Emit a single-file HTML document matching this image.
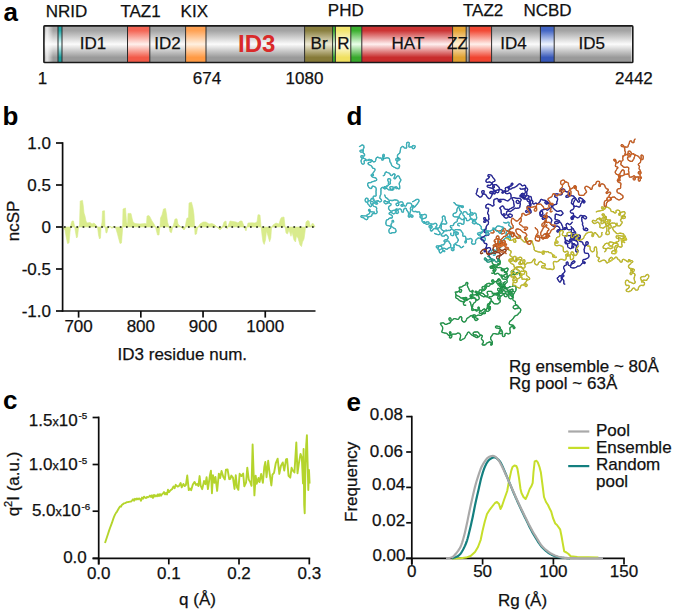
<!DOCTYPE html>
<html><head><meta charset="utf-8"><style>
html,body{margin:0;padding:0;background:#fff;}
svg{display:block;}
text{font-family:"Liberation Sans", sans-serif;stroke-width:0.25px;}
</style></head><body>
<svg width="675" height="613" viewBox="0 0 675 613">
<defs><linearGradient id="gGray" x1="0" y1="0" x2="0" y2="1"><stop offset="0" stop-color="#a4a4a4"/><stop offset="0.13" stop-color="#a4a4a4" stop-opacity="1"/><stop offset="0.5" stop-color="#fbfbfb"/><stop offset="0.86" stop-color="#9a9a9a"/><stop offset="1" stop-color="#9a9a9a"/></linearGradient><linearGradient id="gTeal" x1="0" y1="0" x2="0" y2="1"><stop offset="0" stop-color="#23a8a8"/><stop offset="0.13" stop-color="#23a8a8" stop-opacity="1"/><stop offset="0.5" stop-color="#e6ffff"/><stop offset="0.86" stop-color="#1a9c9c"/><stop offset="1" stop-color="#1a9c9c"/></linearGradient><linearGradient id="gTaz" x1="0" y1="0" x2="0" y2="1"><stop offset="0" stop-color="#f46656"/><stop offset="0.13" stop-color="#f46656" stop-opacity="1"/><stop offset="0.5" stop-color="#fff0ec"/><stop offset="0.86" stop-color="#f25a48"/><stop offset="1" stop-color="#f25a48"/></linearGradient><linearGradient id="gKix" x1="0" y1="0" x2="0" y2="1"><stop offset="0" stop-color="#ffa254"/><stop offset="0.13" stop-color="#ffa254" stop-opacity="1"/><stop offset="0.5" stop-color="#fff0e0"/><stop offset="0.86" stop-color="#ff9a44"/><stop offset="1" stop-color="#ff9a44"/></linearGradient><linearGradient id="gBr" x1="0" y1="0" x2="0" y2="1"><stop offset="0" stop-color="#8a8040"/><stop offset="0.13" stop-color="#8a8040" stop-opacity="1"/><stop offset="0.5" stop-color="#eeead4"/><stop offset="0.86" stop-color="#867a38"/><stop offset="1" stop-color="#867a38"/></linearGradient><linearGradient id="gGrn" x1="0" y1="0" x2="0" y2="1"><stop offset="0" stop-color="#3cb030"/><stop offset="0.13" stop-color="#3cb030" stop-opacity="1"/><stop offset="0.5" stop-color="#eaffea"/><stop offset="0.86" stop-color="#38a82c"/><stop offset="1" stop-color="#38a82c"/></linearGradient><linearGradient id="gR" x1="0" y1="0" x2="0" y2="1"><stop offset="0" stop-color="#f2e670"/><stop offset="0.13" stop-color="#f2e670" stop-opacity="1"/><stop offset="0.5" stop-color="#fffff2"/><stop offset="0.86" stop-color="#f0e060"/><stop offset="1" stop-color="#f0e060"/></linearGradient><linearGradient id="gHat" x1="0" y1="0" x2="0" y2="1"><stop offset="0" stop-color="#cc3434"/><stop offset="0.13" stop-color="#cc3434" stop-opacity="1"/><stop offset="0.5" stop-color="#fff0f0"/><stop offset="0.86" stop-color="#c82c2c"/><stop offset="1" stop-color="#c82c2c"/></linearGradient><linearGradient id="gZZ" x1="0" y1="0" x2="0" y2="1"><stop offset="0" stop-color="#e6a434"/><stop offset="0.13" stop-color="#e6a434" stop-opacity="1"/><stop offset="0.5" stop-color="#fff2d8"/><stop offset="0.86" stop-color="#e0a030"/><stop offset="1" stop-color="#e0a030"/></linearGradient><linearGradient id="gTaz2" x1="0" y1="0" x2="0" y2="1"><stop offset="0" stop-color="#f24a36"/><stop offset="0.13" stop-color="#f24a36" stop-opacity="1"/><stop offset="0.5" stop-color="#fff0ec"/><stop offset="0.86" stop-color="#f04430"/><stop offset="1" stop-color="#f04430"/></linearGradient><linearGradient id="gNcbd" x1="0" y1="0" x2="0" y2="1"><stop offset="0" stop-color="#4466c4"/><stop offset="0.13" stop-color="#4466c4" stop-opacity="1"/><stop offset="0.5" stop-color="#eef4ff"/><stop offset="0.86" stop-color="#3858b8"/><stop offset="1" stop-color="#3858b8"/></linearGradient><linearGradient id="gL" x1="0" y1="0" x2="1" y2="0"><stop offset="0" stop-color="#fff" stop-opacity="0.2"/><stop offset="0.3" stop-color="#fff" stop-opacity="0.75"/><stop offset="1" stop-color="#fff" stop-opacity="0"/></linearGradient></defs>
<rect width="675" height="613" fill="#fff"/>
<text x="3.5" y="21.3" font-size="26" text-anchor="start" font-weight="bold" fill="#000" >a</text>
<rect x="43.9" y="25.9" width="14.100000000000001" height="36.6" fill="url(#gGray)"/>
<rect x="58.0" y="25.9" width="4.0" height="36.6" fill="url(#gTeal)"/>
<rect x="62.0" y="25.9" width="65.5" height="36.6" fill="url(#gGray)"/>
<rect x="127.5" y="25.9" width="22.30000000000001" height="36.6" fill="url(#gTaz)"/>
<rect x="149.8" y="25.9" width="35.79999999999998" height="36.6" fill="url(#gGray)"/>
<rect x="185.6" y="25.9" width="20.400000000000006" height="36.6" fill="url(#gKix)"/>
<rect x="206.0" y="25.9" width="98.60000000000002" height="36.6" fill="url(#gGray)"/>
<rect x="304.6" y="25.9" width="28.0" height="36.6" fill="url(#gBr)"/>
<rect x="332.6" y="25.9" width="2.7999999999999545" height="36.6" fill="url(#gGrn)"/>
<rect x="335.4" y="25.9" width="15.400000000000034" height="36.6" fill="url(#gR)"/>
<rect x="350.8" y="25.9" width="11.0" height="36.6" fill="url(#gGrn)"/>
<rect x="361.8" y="25.9" width="90.80000000000001" height="36.6" fill="url(#gHat)"/>
<rect x="452.6" y="25.9" width="13.599999999999966" height="36.6" fill="url(#gZZ)"/>
<rect x="466.2" y="25.9" width="3.0" height="36.6" fill="url(#gGray)"/>
<rect x="469.2" y="25.9" width="22.400000000000034" height="36.6" fill="url(#gTaz2)"/>
<rect x="491.6" y="25.9" width="48.799999999999955" height="36.6" fill="url(#gGray)"/>
<rect x="540.4" y="25.9" width="13.800000000000068" height="36.6" fill="url(#gNcbd)"/>
<rect x="554.2" y="25.9" width="78.59999999999991" height="36.6" fill="url(#gGray)"/>
<rect x="44.2" y="25.9" width="9" height="36.6" fill="url(#gL)"/>
<rect x="631.2" y="25.9" width="1.2" height="36.6" fill="#fff" opacity="0.5"/>
<line x1="58.0" y1="25.9" x2="58.0" y2="62.5" stroke="#2a2a2a" stroke-width="1.0" />
<line x1="62.0" y1="25.9" x2="62.0" y2="62.5" stroke="#2a2a2a" stroke-width="1.0" />
<line x1="127.5" y1="25.9" x2="127.5" y2="62.5" stroke="#2a2a2a" stroke-width="1.0" />
<line x1="149.8" y1="25.9" x2="149.8" y2="62.5" stroke="#2a2a2a" stroke-width="1.0" />
<line x1="185.6" y1="25.9" x2="185.6" y2="62.5" stroke="#2a2a2a" stroke-width="1.0" />
<line x1="206.0" y1="25.9" x2="206.0" y2="62.5" stroke="#2a2a2a" stroke-width="1.0" />
<line x1="304.6" y1="25.9" x2="304.6" y2="62.5" stroke="#2a2a2a" stroke-width="1.0" />
<line x1="332.6" y1="25.9" x2="332.6" y2="62.5" stroke="#2a2a2a" stroke-width="1.0" />
<line x1="335.4" y1="25.9" x2="335.4" y2="62.5" stroke="#2a2a2a" stroke-width="1.0" />
<line x1="350.8" y1="25.9" x2="350.8" y2="62.5" stroke="#2a2a2a" stroke-width="1.0" />
<line x1="361.8" y1="25.9" x2="361.8" y2="62.5" stroke="#2a2a2a" stroke-width="1.0" />
<line x1="452.6" y1="25.9" x2="452.6" y2="62.5" stroke="#2a2a2a" stroke-width="1.0" />
<line x1="466.2" y1="25.9" x2="466.2" y2="62.5" stroke="#2a2a2a" stroke-width="1.0" />
<line x1="469.2" y1="25.9" x2="469.2" y2="62.5" stroke="#2a2a2a" stroke-width="1.0" />
<line x1="491.6" y1="25.9" x2="491.6" y2="62.5" stroke="#2a2a2a" stroke-width="1.0" />
<line x1="540.4" y1="25.9" x2="540.4" y2="62.5" stroke="#2a2a2a" stroke-width="1.0" />
<line x1="554.2" y1="25.9" x2="554.2" y2="62.5" stroke="#2a2a2a" stroke-width="1.0" />
<rect x="43.9" y="25.9" width="588.9" height="36.6" rx="0.8" fill="none" stroke="#1a1a1a" stroke-width="1.6"/>
<text x="79.8" y="49.0" font-size="17" text-anchor="start" font-weight="normal" fill="#111" stroke="#111" >ID1</text>
<text x="154.2" y="48.6" font-size="17" text-anchor="start" font-weight="normal" fill="#111" stroke="#111" >ID2</text>
<text x="238.0" y="52.0" font-size="24" text-anchor="start" font-weight="bold" fill="#d92a2a" >ID3</text>
<text x="310.6" y="49.2" font-size="17" text-anchor="start" font-weight="normal" fill="#111" stroke="#111" >Br</text>
<text x="337.2" y="49.2" font-size="17" text-anchor="start" font-weight="normal" fill="#111" stroke="#111" >R</text>
<text x="391.6" y="49.3" font-size="17" text-anchor="start" font-weight="normal" fill="#111" stroke="#111" >HAT</text>
<text x="447.0" y="49.2" font-size="17" text-anchor="start" font-weight="normal" fill="#111" stroke="#111" >ZZ</text>
<text x="500.2" y="49.3" font-size="17" text-anchor="start" font-weight="normal" fill="#111" stroke="#111" >ID4</text>
<text x="578.6" y="49.2" font-size="17" text-anchor="start" font-weight="normal" fill="#111" stroke="#111" >ID5</text>
<text x="45.8" y="16.8" font-size="17" text-anchor="start" font-weight="normal" fill="#111" stroke="#111" >NRID</text>
<text x="120.4" y="16.8" font-size="17" text-anchor="start" font-weight="normal" fill="#111" stroke="#111" >TAZ1</text>
<text x="180.6" y="16.8" font-size="17" text-anchor="start" font-weight="normal" fill="#111" stroke="#111" >KIX</text>
<text x="327.8" y="15.6" font-size="17" text-anchor="start" font-weight="normal" fill="#111" stroke="#111" >PHD</text>
<text x="463.0" y="15.6" font-size="17" text-anchor="start" font-weight="normal" fill="#111" stroke="#111" >TAZ2</text>
<text x="523.4" y="15.6" font-size="17" text-anchor="start" font-weight="normal" fill="#111" stroke="#111" >NCBD</text>
<text x="37.8" y="83.8" font-size="17" text-anchor="start" font-weight="normal" fill="#111" stroke="#111" >1</text>
<text x="192.8" y="83.8" font-size="17" text-anchor="start" font-weight="normal" fill="#111" stroke="#111" >674</text>
<text x="285.6" y="83.8" font-size="17" text-anchor="start" font-weight="normal" fill="#111" stroke="#111" >1080</text>
<text x="615.0" y="83.8" font-size="17" text-anchor="start" font-weight="normal" fill="#111" stroke="#111" >2442</text>
<text x="2.6" y="124.8" font-size="26" text-anchor="start" font-weight="bold" fill="#000" >b</text>
<polygon points="62.5,227.0 62.5,227 64,229 65,230 66,236 67.5,243.5 69,243 70,232 71,224 72,221 73.5,221 74.5,226 75.5,232 76.5,238 77.5,237 78.5,228 79.5,225 80.2,201 82.5,200.4 83.3,206 84,213 85,216 86,221 87,223 90,222.5 92,224 94,223 96,225 97.5,227 98.5,235 99.5,239 100.5,238 101,228 102,222 102.5,211 104.5,210.7 105,226 106,233 107,232.7 108,228 110,226 112,228.5 114,226 116,229 117.5,234 118.5,238 120,243.5 121.5,243 122.5,230 123,209 125.5,208 126.5,222 127.5,225 128,213.4 131,213.4 132,218 133,222 135,223.5 140,224 145,223.5 146.5,224 147,216 149,215.6 150,217 152,221 154,224 155.5,227 156.5,231 157.5,235 159,235 160,226 160.5,218 162,215 163.5,209 165.5,208.5 166.5,214 167.5,222 169,227 170,232 171.5,232.7 172.5,228 174,223 175,219 177,218.8 178,224 180,226 182,228 184,230 185,229 186,222 187,218 188.5,218 189,203 191.5,202.2 193,208 194,215 195,234.5 196.5,234 197.5,228 200,224 203,222 206,222 209,224 212,223.5 215,225 218,228 220,230 222,228 224,222 226,221 227,229 228,226 230,221 233,221.5 236,222 238,223 240,221 242,221 244,226 245,229 246,231 247,227 248,223 252,222.8 255,223 257,222 258,214.7 260,215 261,226 262,235 263,242 264.2,244.4 265.5,240 266.5,231 268,236 269.6,241.7 270.8,238 271.5,228 273,225 276,223 279,224 280.5,219 281.5,217.4 284,217 285,226 286,233 287.5,234 289,230 291,236.3 292,232 294,240 295.5,242 296.5,236 298,238 300,245 301.5,246.6 302.5,242 304,239 305,232 306,222 307.5,220.6 309,221 310,225 311,227 312,223.5 313.5,223.8 315,227 315,227.0" fill="#d9eb8c" stroke="#d9eb8c" stroke-width="0.6" stroke-linejoin="round"/>
<line x1="64" y1="227.0" x2="315" y2="227.0" stroke="#111" stroke-width="1.7" stroke-dasharray="1.7 4.5"/>
<line x1="62.6" y1="142.2" x2="62.6" y2="311.8" stroke="#0c0c0c" stroke-width="1.7" />
<line x1="61.75" y1="311.0" x2="315.5" y2="311.0" stroke="#0c0c0c" stroke-width="1.7" />
<line x1="56.0" y1="143.0" x2="62.6" y2="143.0" stroke="#0c0c0c" stroke-width="1.7" />
<line x1="56.0" y1="185.0" x2="62.6" y2="185.0" stroke="#0c0c0c" stroke-width="1.7" />
<line x1="56.0" y1="227.0" x2="62.6" y2="227.0" stroke="#0c0c0c" stroke-width="1.7" />
<line x1="56.0" y1="269.0" x2="62.6" y2="269.0" stroke="#0c0c0c" stroke-width="1.7" />
<line x1="56.0" y1="311.0" x2="62.6" y2="311.0" stroke="#0c0c0c" stroke-width="1.7" />
<text x="51.0" y="149.0" font-size="17" text-anchor="end" font-weight="normal" fill="#111" stroke="#111" >1.0</text>
<text x="51.0" y="191.0" font-size="17" text-anchor="end" font-weight="normal" fill="#111" stroke="#111" >0.5</text>
<text x="51.0" y="233.0" font-size="17" text-anchor="end" font-weight="normal" fill="#111" stroke="#111" >0</text>
<text x="51.0" y="275.0" font-size="17" text-anchor="end" font-weight="normal" fill="#111" stroke="#111" >-0.5</text>
<text x="51.0" y="317.0" font-size="17" text-anchor="end" font-weight="normal" fill="#111" stroke="#111" >-1.0</text>
<line x1="78.6" y1="311" x2="78.6" y2="317.6" stroke="#0c0c0c" stroke-width="1.7" />
<text x="78.6" y="332.0" font-size="17" text-anchor="middle" font-weight="normal" fill="#111" stroke="#111" >700</text>
<line x1="140.82" y1="311" x2="140.82" y2="317.6" stroke="#0c0c0c" stroke-width="1.7" />
<text x="140.82" y="332.0" font-size="17" text-anchor="middle" font-weight="normal" fill="#111" stroke="#111" >800</text>
<line x1="203.04" y1="311" x2="203.04" y2="317.6" stroke="#0c0c0c" stroke-width="1.7" />
<text x="203.04" y="332.0" font-size="17" text-anchor="middle" font-weight="normal" fill="#111" stroke="#111" >900</text>
<line x1="265.26" y1="311" x2="265.26" y2="317.6" stroke="#0c0c0c" stroke-width="1.7" />
<text x="265.26" y="332.0" font-size="17" text-anchor="middle" font-weight="normal" fill="#111" stroke="#111" >1000</text>
<text x="182.3" y="359.6" font-size="17" text-anchor="middle" font-weight="normal" fill="#111" stroke="#111" >ID3 residue num.</text>
<text transform="translate(19.2,221) rotate(-90)" font-size="17" text-anchor="middle" fill="#111" stroke="#111">ncSP</text>
<text x="3.0" y="409.4" font-size="26" text-anchor="start" font-weight="bold" fill="#000" >c</text>
<line x1="98.7" y1="416.6" x2="98.7" y2="564.5" stroke="#0c0c0c" stroke-width="1.7" />
<line x1="92.6" y1="558.4" x2="310.2" y2="558.4" stroke="#0c0c0c" stroke-width="1.7" />
<line x1="92.6" y1="558.4" x2="98.7" y2="558.4" stroke="#0c0c0c" stroke-width="1.7" />
<line x1="92.6" y1="511.2" x2="98.7" y2="511.2" stroke="#0c0c0c" stroke-width="1.7" />
<line x1="92.6" y1="464.5" x2="98.7" y2="464.5" stroke="#0c0c0c" stroke-width="1.7" />
<line x1="92.6" y1="417.5" x2="98.7" y2="417.5" stroke="#0c0c0c" stroke-width="1.7" />
<line x1="98.7" y1="558.4" x2="98.7" y2="564.4" stroke="#0c0c0c" stroke-width="1.7" />
<text x="98.7" y="578.6" font-size="17" text-anchor="middle" font-weight="normal" fill="#111" stroke="#111" >0.0</text>
<line x1="168.8" y1="558.4" x2="168.8" y2="564.4" stroke="#0c0c0c" stroke-width="1.7" />
<text x="168.8" y="578.6" font-size="17" text-anchor="middle" font-weight="normal" fill="#111" stroke="#111" >0.1</text>
<line x1="239.0" y1="558.4" x2="239.0" y2="564.4" stroke="#0c0c0c" stroke-width="1.7" />
<text x="239.0" y="578.6" font-size="17" text-anchor="middle" font-weight="normal" fill="#111" stroke="#111" >0.2</text>
<line x1="309.3" y1="558.4" x2="309.3" y2="564.4" stroke="#0c0c0c" stroke-width="1.7" />
<text x="309.3" y="578.6" font-size="17" text-anchor="middle" font-weight="normal" fill="#111" stroke="#111" >0.3</text>
<text x="28.8" y="425.6" font-size="17" fill="#111" stroke="#111">1.5<tspan font-size="12.5">x</tspan>10<tspan font-size="9.8" dx="0.9" dy="-6.6">-5</tspan></text>
<text x="28.8" y="470.3" font-size="17" fill="#111" stroke="#111">1.0<tspan font-size="12.5">x</tspan>10<tspan font-size="9.8" dx="0.9" dy="-6.6">-5</tspan></text>
<text x="31.9" y="516.4" font-size="17" fill="#111" stroke="#111">5.0<tspan font-size="12.5">x</tspan>10<tspan font-size="9.8" dx="0.9" dy="-6.6">-6</tspan></text>
<text x="86.8" y="563.3" font-size="17" text-anchor="end" font-weight="normal" fill="#111" stroke="#111" >0.0</text>
<text x="197.5" y="605.4" font-size="17" text-anchor="middle" font-weight="normal" fill="#111" stroke="#111" >q (&#197;)</text>
<text transform="translate(18.6,484) rotate(-90)" font-size="17" text-anchor="middle" fill="#111" stroke="#111">q<tspan font-size="11" dy="-6.5">2</tspan><tspan dy="6.5">I (a.u.)</tspan></text>
<polyline points="105.00,543.00 106.00,540.02 107.00,537.04 108.00,533.95 109.00,530.90 110.00,528.03 111.00,525.34 112.00,522.70 113.00,519.59 114.00,516.95 115.00,514.62 116.00,512.88 117.00,511.58 118.00,509.80 119.00,507.97 120.00,506.43 121.00,506.67 122.00,504.74 123.00,504.14 124.00,503.35 125.00,503.18 126.00,502.72 127.00,502.17 128.00,502.03 129.00,501.82 130.00,501.66 131.00,501.49 132.00,500.63 133.00,499.32 134.00,500.74 135.00,498.73 136.00,499.65 137.00,498.40 138.00,499.38 139.00,498.38 140.00,499.00 141.00,500.76 142.00,497.57 143.00,498.70 144.00,496.67 145.00,497.70 146.00,497.98 147.00,496.95 148.00,497.27 149.00,496.72 150.00,495.62 151.00,497.08 152.00,495.31 153.00,497.91 154.00,494.88 155.00,496.47 156.00,495.34 157.00,496.28 158.00,494.33 159.00,496.04 160.00,494.10 161.00,495.64 162.00,494.16 163.00,493.46 164.00,492.01 165.00,494.35 166.00,492.89 167.00,494.50 168.00,489.77 169.00,492.02 170.00,490.86 171.00,489.87 172.00,489.28 173.50,486.41 174.62,488.21 175.73,484.81 177.60,486.65 178.87,486.15 180.64,483.07 181.73,487.40 183.43,483.96 184.70,486.08 185.91,484.95 187.25,475.56 188.77,490.08 189.93,488.55 191.15,490.22 192.82,484.45 194.61,481.91 195.99,484.97 197.21,483.92 198.44,485.95 199.60,476.07 200.66,485.66 202.21,489.16 204.04,481.01 205.44,484.19 206.60,477.25 207.92,489.02 209.81,476.04 210.93,470.76 211.95,493.26 212.97,475.15 214.40,482.70 215.47,477.01 217.13,490.92 218.85,473.63 220.16,478.09 221.54,471.03 223.32,477.09 224.84,479.50 225.91,469.65 227.57,469.47 229.23,479.18 230.30,478.93 231.33,475.58 232.96,477.63 234.51,488.99 235.78,475.31 236.97,487.21 238.36,489.88 239.66,473.76 241.38,476.11 243.18,473.46 244.30,486.26 246.05,482.55 247.30,467.62 248.71,479.42 250.27,482.12 251.55,485.83 252.62,444.47 254.41,495.40 255.68,475.60 256.70,483.67 258.45,477.98 259.57,482.15 261.14,473.99 262.87,482.83 264.30,466.87 265.31,462.01 266.55,477.27 268.18,460.78 269.53,472.58 271.35,485.44 272.46,474.59 274.03,472.86 275.82,463.01 277.67,458.73 279.32,473.93 280.90,465.96 282.78,462.38 284.26,470.53 286.03,459.38 287.11,459.02 288.55,475.91 290.27,477.66 291.58,467.81 292.70,470.28 294.46,472.43 296.31,442.47 297.51,473.28 298.77,464.02 300.53,453.86 301.81,457.48 303.00,483.36 303.60,449.00 304.20,505.00 304.70,513.20 305.40,470.00 306.20,445.00 306.90,435.20 307.60,462.00 308.30,490.00 309.00,470.00 309.60,483.60" fill="none" stroke="#b4d42c" stroke-width="1.9" stroke-linejoin="round"/>
<text x="346.5" y="411.2" font-size="26" text-anchor="start" font-weight="bold" fill="#000" >e</text>
<line x1="411.8" y1="415.8" x2="411.8" y2="564.6" stroke="#0c0c0c" stroke-width="1.7" />
<line x1="405.8" y1="558.4" x2="624.8" y2="558.4" stroke="#0c0c0c" stroke-width="1.7" />
<line x1="406.2" y1="416.6" x2="411.8" y2="416.6" stroke="#0c0c0c" stroke-width="1.7" />
<line x1="406.2" y1="452.0" x2="411.8" y2="452.0" stroke="#0c0c0c" stroke-width="1.7" />
<line x1="406.2" y1="487.4" x2="411.8" y2="487.4" stroke="#0c0c0c" stroke-width="1.7" />
<line x1="406.2" y1="522.8" x2="411.8" y2="522.8" stroke="#0c0c0c" stroke-width="1.7" />
<line x1="406.2" y1="558.4" x2="411.8" y2="558.4" stroke="#0c0c0c" stroke-width="1.7" />
<text x="402.9" y="420.4" font-size="17" text-anchor="end" font-weight="normal" fill="#111" stroke="#111" >0.08</text>
<text x="402.9" y="456.6" font-size="17" text-anchor="end" font-weight="normal" fill="#111" stroke="#111" >0.06</text>
<text x="405.1" y="489.8" font-size="17" text-anchor="end" font-weight="normal" fill="#111" stroke="#111" >0.04</text>
<text x="405.1" y="526.1" font-size="17" text-anchor="end" font-weight="normal" fill="#111" stroke="#111" >0.02</text>
<text x="405.5" y="560.8" font-size="17" text-anchor="end" font-weight="normal" fill="#111" stroke="#111" >0.00</text>
<line x1="411.8" y1="558.4" x2="411.8" y2="564.6" stroke="#0c0c0c" stroke-width="1.7" />
<text x="411.8" y="577.4" font-size="17" text-anchor="middle" font-weight="normal" fill="#111" stroke="#111" >0</text>
<line x1="482.6" y1="558.4" x2="482.6" y2="564.6" stroke="#0c0c0c" stroke-width="1.7" />
<text x="482.6" y="577.4" font-size="17" text-anchor="middle" font-weight="normal" fill="#111" stroke="#111" >50</text>
<line x1="553.4" y1="558.4" x2="553.4" y2="564.6" stroke="#0c0c0c" stroke-width="1.7" />
<text x="553.4" y="577.4" font-size="17" text-anchor="middle" font-weight="normal" fill="#111" stroke="#111" >100</text>
<line x1="624.0" y1="558.4" x2="624.0" y2="564.6" stroke="#0c0c0c" stroke-width="1.7" />
<text x="624.0" y="577.4" font-size="17" text-anchor="middle" font-weight="normal" fill="#111" stroke="#111" >150</text>
<text x="522.5" y="606.4" font-size="17" text-anchor="middle" font-weight="normal" fill="#111" stroke="#111" >Rg (&#197;)</text>
<text transform="translate(28.6,0)" font-size="17" fill="#111"></text>
<text transform="translate(356.8,481.8) rotate(-90)" font-size="17" text-anchor="middle" fill="#111" stroke="#111">Frequency</text>
<polyline points="452.00,558.40 460.40,558.30 466.00,557.60 470.60,556.00 475.00,552.00 478.00,547.00 480.70,539.80 482.50,531.00 484.80,521.50 487.00,514.00 490.00,509.30 493.00,505.50 495.00,503.00 497.00,502.00 499.00,504.00 500.50,509.00 502.00,506.00 504.00,500.00 507.20,491.00 509.00,481.00 511.30,470.60 512.50,467.00 514.40,465.50 516.30,466.00 517.40,468.50 519.00,478.00 520.50,489.00 521.50,493.00 523.50,497.00 525.60,499.00 527.50,495.00 529.70,489.00 531.50,486.00 532.70,482.80 533.50,472.00 534.70,461.40 536.50,460.80 537.80,462.40 539.50,467.00 540.90,472.60 542.50,485.00 544.00,497.00 546.00,502.00 548.00,505.00 550.00,509.30 551.20,511.40 553.00,518.00 555.30,523.60 557.00,525.00 560.10,529.30 561.50,536.00 562.60,542.40 564.20,551.30 566.50,552.50 568.30,553.80 570.70,556.20 577.30,557.00 598.40,557.40" fill="none" stroke="#c6de2a" stroke-width="2.0" stroke-linejoin="round"/>
<polyline points="452.00,558.30 452.68,558.08 453.63,557.79 454.75,557.43 455.93,557.01 457.05,556.54 458.00,556.00 458.78,555.44 459.46,554.85 460.09,554.20 460.70,553.45 461.33,552.56 462.00,551.50 462.74,550.22 463.52,548.76 464.31,547.16 465.09,545.46 465.83,543.73 466.50,542.00 467.09,540.28 467.61,538.54 468.09,536.76 468.55,534.91 469.01,533.00 469.50,531.00 470.01,528.89 470.53,526.69 471.06,524.41 471.58,522.09 472.09,519.74 472.60,517.40 473.09,515.04 473.57,512.64 474.04,510.22 474.52,507.80 475.00,505.39 475.50,503.00 476.02,500.62 476.56,498.23 477.11,495.85 477.65,493.50 478.19,491.21 478.70,489.00 479.18,486.86 479.64,484.78 480.09,482.75 480.54,480.78 481.01,478.86 481.50,477.00 482.02,475.18 482.55,473.39 483.09,471.66 483.65,470.00 484.22,468.44 484.80,467.00 485.38,465.67 485.96,464.45 486.55,463.32 487.16,462.29 487.81,461.35 488.50,460.50 489.26,459.74 490.09,459.06 490.96,458.47 491.82,457.99 492.64,457.63 493.40,457.40 494.07,457.31 494.68,457.36 495.26,457.52 495.82,457.79 496.39,458.15 497.00,458.60 497.63,459.09 498.27,459.63 498.91,460.27 499.58,461.04 500.27,462.01 501.00,463.20 501.77,464.68 502.58,466.42 503.42,468.34 504.27,470.38 505.14,472.46 506.00,474.50 506.87,476.56 507.77,478.69 508.67,480.87 509.57,483.04 510.45,485.17 511.30,487.20 512.11,489.12 512.88,490.96 513.64,492.74 514.40,494.52 515.18,496.33 516.00,498.20 516.88,500.16 517.79,502.19 518.73,504.24 519.67,506.28 520.60,508.28 521.50,510.20 522.36,512.03 523.20,513.79 524.02,515.50 524.84,517.19 525.66,518.89 526.50,520.60 527.35,522.35 528.21,524.12 529.08,525.89 529.95,527.64 530.83,529.35 531.70,531.00 532.58,532.60 533.47,534.18 534.37,535.71 535.26,537.20 536.14,538.63 537.00,540.00 537.83,541.30 538.62,542.54 539.40,543.72 540.19,544.85 541.02,545.94 541.90,547.00 542.85,548.03 543.85,549.03 544.88,549.98 545.93,550.89 546.98,551.73 548.00,552.50 549.01,553.20 550.01,553.82 551.01,554.39 552.00,554.90 553.00,555.37 554.00,555.80 554.95,556.19 555.85,556.52 556.75,556.81 557.70,557.06 558.77,557.29 560.00,557.50 561.55,557.69 563.41,557.86 565.38,558.01 567.26,558.13 568.87,558.22 570.00,558.30" fill="none" stroke="#137f7f" stroke-width="2.2" stroke-linejoin="round"/>
<polyline points="446.00,558.30 446.68,558.21 447.63,558.11 448.75,557.98 449.93,557.80 451.05,557.55 452.00,557.20 452.78,556.77 453.47,556.26 454.10,555.69 454.71,555.04 455.33,554.31 456.00,553.50 456.73,552.61 457.49,551.63 458.26,550.58 459.01,549.46 459.74,548.26 460.40,547.00 460.99,545.68 461.53,544.31 462.04,542.87 462.52,541.34 463.00,539.73 463.50,538.00 464.01,536.16 464.51,534.20 465.01,532.15 465.50,530.02 466.00,527.83 466.50,525.60 467.00,523.29 467.50,520.87 467.99,518.40 468.49,515.90 468.99,513.42 469.50,511.00 470.01,508.61 470.53,506.21 471.06,503.84 471.58,501.50 472.09,499.21 472.60,497.00 473.09,494.87 473.57,492.79 474.04,490.78 474.52,488.81 475.00,486.88 475.50,485.00 476.02,483.14 476.56,481.31 477.11,479.52 477.65,477.80 478.19,476.15 478.70,474.60 479.18,473.15 479.64,471.79 480.09,470.50 480.54,469.28 481.01,468.12 481.50,467.00 482.02,465.93 482.57,464.92 483.12,463.96 483.69,463.06 484.25,462.21 484.80,461.40 485.33,460.64 485.84,459.92 486.36,459.25 486.88,458.64 487.42,458.09 488.00,457.60 488.63,457.18 489.31,456.82 490.01,456.52 490.71,456.29 491.38,456.11 492.00,456.00 492.56,455.95 493.07,455.95 493.56,456.02 494.04,456.15 494.51,456.34 495.00,456.60 495.50,456.93 496.00,457.32 496.50,457.78 497.00,458.30 497.50,458.87 498.00,459.50 498.48,460.13 498.93,460.77 499.38,461.47 499.85,462.27 500.38,463.23 501.00,464.40 501.71,465.82 502.51,467.46 503.36,469.26 504.24,471.16 505.13,473.09 506.00,475.00 506.87,476.92 507.77,478.92 508.67,480.95 509.57,482.98 510.45,484.98 511.30,486.90 512.11,488.73 512.88,490.49 513.64,492.21 514.40,493.93 515.18,495.68 516.00,497.50 516.88,499.42 517.79,501.40 518.73,503.43 519.67,505.44 520.60,507.41 521.50,509.30 522.36,511.09 523.20,512.82 524.02,514.51 524.84,516.17 525.66,517.82 526.50,519.50 527.35,521.20 528.21,522.92 529.08,524.63 529.95,526.33 530.83,527.99 531.70,529.60 532.58,531.17 533.47,532.71 534.37,534.21 535.26,535.68 536.14,537.11 537.00,538.50 537.83,539.85 538.62,541.18 539.40,542.46 540.19,543.70 541.02,544.88 541.90,546.00 542.85,547.06 543.85,548.06 544.88,549.00 545.93,549.89 546.98,550.72 548.00,551.50 549.01,552.22 550.01,552.87 551.01,553.47 552.00,554.02 553.00,554.53 554.00,555.00 555.00,555.43 555.99,555.82 556.98,556.16 557.98,556.47 558.98,556.75 560.00,557.00 560.95,557.22 561.80,557.40 562.67,557.55 563.64,557.68 564.82,557.79 566.30,557.90 568.05,558.00 569.97,558.08 572.11,558.15 574.47,558.21 577.09,558.26 580.00,558.30 583.56,558.34 587.83,558.36 592.36,558.38 596.69,558.39 600.39,558.39 603.00,558.40" fill="none" stroke="#a9a9a9" stroke-width="2.2" stroke-linejoin="round"/>
<line x1="568.2" y1="431.5" x2="589.3" y2="431.5" stroke="#a9a9a9" stroke-width="2.2" />
<line x1="568.2" y1="447.9" x2="589.3" y2="447.9" stroke="#c6de2a" stroke-width="2.2" />
<line x1="568.2" y1="466.1" x2="589.3" y2="466.1" stroke="#137f7f" stroke-width="2.2" />
<text x="596.0" y="436.0" font-size="17" text-anchor="start" font-weight="normal" fill="#111" stroke="#111" >Pool</text>
<text x="596.0" y="452.6" font-size="17" text-anchor="start" font-weight="normal" fill="#111" stroke="#111" >Ensemble</text>
<text x="596.0" y="470.4" font-size="17" text-anchor="start" font-weight="normal" fill="#111" stroke="#111" >Random</text>
<text x="596.0" y="486.6" font-size="17" text-anchor="start" font-weight="normal" fill="#111" stroke="#111" >pool</text>
<text x="346.4" y="124.8" font-size="26" text-anchor="start" font-weight="bold" fill="#000" >d</text>
<text x="509.0" y="371.8" font-size="17" text-anchor="start" font-weight="normal" fill="#111" stroke="#111" >Rg ensemble ~ 80&#197;</text>
<text x="509.0" y="389.1" font-size="17" text-anchor="start" font-weight="normal" fill="#111" stroke="#111" >Rg pool ~ 63&#197;</text>
<g fill="none" stroke-linejoin="round" stroke-linecap="round">
<defs><path id="c1" d="M359.5,146.5l0.4,-0.2l0.5,-0.3l0.4,-0.2l0.4,-0.3l0.4,-0.3l0.5,-0.2l0.5,0.0l0.5,0.2l0.4,0.3l0.3,0.4l0.1,0.5l0.1,0.4l0.0,0.5l-0.1,0.5l-0.2,0.5l-0.3,0.4l-0.2,0.4l0.1,0.5l0.0,0.5l0.0,0.5l-0.0,0.5l-0.2,0.5l-0.4,0.4l-0.4,0.1l-0.5,0.0l-0.5,0.0l-0.5,-0.1l-0.4,-0.2l-0.4,-0.4l-0.0,-0.5l0.2,-0.4l0.5,-0.2l0.5,-0.2l0.4,-0.0l0.5,-0.0l0.5,0.2l0.3,0.4l0.1,0.5l0.1,0.5l0.1,0.5l0.0,0.5l0.2,0.4l0.4,0.4l0.3,0.3l0.3,0.4l0.2,0.5l0.0,0.5l-0.1,0.4l-0.4,0.4l-0.5,0.1l-0.4,-0.1l-0.5,-0.2l-0.5,-0.1l-0.5,-0.1l-0.4,0.2l-0.4,0.4l-0.0,0.4l0.1,0.5l0.3,0.4l0.3,0.4l0.5,0.2l0.5,0.0l0.5,-0.0l0.5,0.0l0.4,0.2l0.5,0.2l0.4,0.3l0.5,0.2l0.3,0.3l0.4,0.4l0.4,0.3l0.4,0.2l0.5,0.2l0.5,0.0l0.5,-0.1l0.5,-0.1l0.5,-0.1l0.5,-0.1l0.4,-0.1l0.5,-0.0l0.5,0.0l0.5,0.2l0.4,0.4l0.3,0.3l0.3,0.4l0.4,0.4l0.4,0.2l0.5,0.0l0.5,-0.1l0.4,-0.3l0.4,-0.3l0.2,-0.5l0.1,-0.4l0.1,-0.5l0.1,-0.5l0.1,-0.5l0.2,-0.5l0.3,-0.4l0.4,-0.3l0.4,-0.3l0.5,-0.0l0.5,0.2l0.4,0.2l0.5,0.2l0.5,0.1l0.4,0.1l0.5,0.0l0.5,0.2l0.5,0.1l0.5,-0.0l0.5,-0.1l0.4,-0.2l0.4,-0.3l0.3,-0.4l0.2,-0.5l0.2,-0.4l0.2,-0.5l0.0,-0.5l-0.0,-0.5l-0.4,-0.4l-0.4,-0.1l-0.5,0.3l-0.2,0.4l-0.1,0.5l-0.0,0.5l0.1,0.5l0.0,0.5l-0.1,0.5l-0.2,0.4l-0.3,0.5l-0.3,0.3l-0.2,0.5l-0.0,0.5l0.3,0.3l0.5,0.1l0.5,-0.2l0.3,-0.3l0.2,-0.5l0.3,-0.4l0.4,-0.3l0.5,-0.1l0.5,-0.1l0.5,-0.2l0.4,-0.1l0.5,-0.2l0.5,-0.1l0.5,0.1l0.5,0.2l0.5,0.1l0.4,0.2l0.3,0.4l0.2,0.5l0.1,0.5l0.1,0.5l0.1,0.5l0.0,0.4l0.1,0.5l0.2,0.5l0.3,0.4l0.4,0.3l0.1,0.5l0.2,0.5l0.2,0.4l0.2,0.5l0.2,0.5l0.2,0.4l0.4,0.4l0.3,0.3l0.5,0.2l0.4,0.3l0.4,0.2l0.5,0.3l0.4,0.2l0.5,0.2l0.4,0.3l0.4,0.2l0.5,0.2l0.5,0.1l0.5,-0.0l0.5,-0.0l0.5,-0.1l0.4,-0.3l0.2,-0.5l0.0,-0.5l0.2,-0.5l0.2,-0.4l-0.0,-0.5l-0.2,-0.5l-0.3,-0.4l-0.4,-0.3l-0.4,-0.2l-0.5,-0.3l-0.4,-0.2l-0.4,-0.3l-0.3,-0.4l0.0,-0.5l0.2,-0.5l0.3,-0.4l0.3,-0.3l0.4,-0.4l0.3,-0.4l0.1,-0.5l-0.1,-0.4l-0.2,-0.5l-0.3,-0.4l-0.4,-0.3l-0.4,-0.1l-0.5,0.1l-0.4,0.4l-0.2,0.4l0.0,0.5l0.2,0.5l0.4,0.3l0.5,0.2l0.4,-0.1l0.5,-0.2l0.4,-0.2l0.5,-0.2l0.5,-0.1l0.5,-0.2l0.3,-0.3l-0.1,-0.5l-0.3,-0.4l-0.4,-0.3l-0.4,-0.2l-0.4,-0.3l-0.4,-0.3l-0.4,-0.3l-0.1,-0.5l-0.1,-0.5l0.0,-0.5l0.2,-0.5l0.2,-0.4l0.3,-0.4l0.4,-0.3l0.4,-0.3l0.4,-0.3l0.3,-0.4l0.3,-0.4l0.1,-0.5l0.1,-0.5l0.1,-0.5l0.1,-0.5l0.1,-0.5l0.1,-0.5l-0.0,-0.5l0.0,-0.5l0.2,-0.4l0.2,-0.5l0.4,-0.4l0.3,-0.3l0.4,-0.3l0.4,-0.3l0.5,-0.0l0.5,0.2l0.4,0.3l0.2,0.4l0.3,0.4l0.5,0.2l0.5,0.1l0.5,0.1l0.5,-0.1l0.3,-0.4l0.1,-0.4l-0.1,-0.5l-0.0,-0.5l0.0,-0.5l0.0,-0.5l-0.1,-0.5l0.0,-0.5l0.1,-0.5l0.1,-0.5l0.1,-0.5l0.4,-0.3l0.5,-0.1l0.5,-0.1l0.5,0.1l0.4,0.3l0.2,0.5l-0.1,0.5l-0.1,0.4l-0.1,0.5l-0.0,0.5l-0.1,0.5l-0.1,0.5l0.1,0.5l0.3,0.4l0.4,0.2l0.5,-0.0l0.5,-0.2l0.4,-0.3l0.5,-0.1l0.5,-0.2l0.4,-0.2l0.5,-0.2l0.5,-0.2l0.4,-0.1l0.5,-0.0l0.5,0.1l0.4,0.4l-0.0,0.5l-0.2,0.4l-0.3,0.4l-0.2,0.5l-0.3,0.4l-0.7,0.3l-0.5,-0.1l-0.4,-0.2l-0.3,-0.4l-0.2,-0.5l-0.1,-0.5l0.2,-0.5l0.2,-0.4l0.4,-0.4l0.4,-0.2 M363.3,156.3l-0.1,0.5l-0.2,0.5l-0.2,0.4l-0.3,0.4l-0.3,0.4l-0.3,0.4l-0.2,0.5l-0.3,0.4l-0.2,0.4l-0.1,0.5l0.0,0.5l0.1,0.5l0.1,0.5l0.2,0.5l0.1,0.4l0.3,0.5l0.3,0.3l0.5,0.3l0.5,0.0l0.4,-0.2l0.4,-0.3l0.2,-0.4l0.2,-0.5l-0.1,-0.5l-0.1,-0.5l-0.1,-0.5l0.2,-0.5l0.3,-0.3l0.5,-0.2l0.5,0.0l0.4,0.2l0.5,0.1l0.5,-0.1l0.5,-0.2l0.4,-0.2l0.4,-0.4l0.4,-0.2l0.5,-0.1l0.5,0.1l0.4,0.2l0.4,0.3l0.4,0.4l0.2,0.4l0.1,0.5l-0.0,0.5l-0.4,0.3l-0.4,0.2l-0.5,0.1l-0.5,0.0l-0.5,0.1l-0.4,0.2l-0.4,0.4l-0.1,0.5l0.2,0.4l0.3,0.4l0.4,0.3l0.5,0.1l0.4,0.2l0.4,0.3l0.5,0.2l0.4,0.3l0.4,0.3l0.3,0.4l0.3,0.4l0.2,0.5l0.2,0.4l0.4,0.4l0.4,0.1l0.5,0.0l0.5,0.2l0.4,0.3l0.3,0.4l0.0,0.5l-0.1,0.5l-0.2,0.4l-0.3,0.4l-0.3,0.5l-0.2,0.4l-0.3,0.4l-0.3,0.4l-0.3,0.4l-0.3,0.4l-0.3,0.4l-0.2,0.5l-0.0,0.5l0.1,0.5l0.4,0.2l0.5,-0.2l0.3,-0.4l-0.2,-0.4l-0.4,-0.3l-0.5,-0.1l-0.5,0.1l-0.4,0.3l-0.3,0.4l-0.0,0.5l0.2,0.4l0.4,0.4l0.3,0.4l0.4,0.3l0.4,0.2l0.5,0.1l0.5,0.2l0.5,0.1l0.5,0.0l0.5,0.2l0.4,0.2l0.3,0.4l0.3,0.4l0.2,0.5l0.1,0.5l-0.2,0.4l-0.4,0.3l-0.5,0.3l-0.5,0.1l-0.5,0.0l-0.4,0.2l-0.5,0.2l-0.5,0.2l-0.4,0.1l-0.5,0.1l-0.5,0.2l-0.4,0.3l-0.4,0.3l-0.5,0.1l-0.5,0.1l-0.5,-0.0l-0.5,0.0l-0.5,0.2l-0.4,0.2l-0.2,0.5l-0.2,0.5l-0.1,0.5l0.0,0.4l0.2,0.5l0.3,0.4l0.2,0.5l0.2,0.4l0.3,0.4l0.3,0.4l0.4,0.3l0.4,0.3l0.5,0.2l0.5,0.1l0.5,-0.1l0.3,-0.4l0.2,-0.4l0.1,-0.5l0.1,-0.5l0.4,-0.4l0.4,-0.1l0.5,0.2l0.5,0.1l0.5,0.2l0.4,0.2l0.4,0.3l0.4,0.3l0.3,0.4l0.2,0.4l0.0,0.5l0.1,0.5l0.0,0.5l0.0,0.5l-0.1,0.5l-0.1,0.5l0.0,0.5l0.1,0.5l0.0,0.5l-0.1,0.5l0.1,0.5l-0.0,0.5l0.0,0.5l0.1,0.5l-0.2,0.5l-0.3,0.3l-0.5,0.1l-0.5,-0.0l-0.5,-0.0l-0.5,0.1l-0.3,0.3l-0.2,0.5l-0.0,0.5l0.1,0.4l0.2,0.5l0.1,0.5l0.1,0.5l0.2,0.4l0.4,0.4l0.3,0.4l0.3,0.3l0.4,0.3l0.5,0.2l0.5,0.1l0.4,0.3l0.3,0.4l0.0,0.5l-0.1,0.5l-0.4,0.3l-0.5,0.0l-0.5,-0.1l-0.5,-0.2l-0.5,-0.1l-0.5,-0.0l-0.5,0.0l-0.4,0.2l-0.3,0.4l-0.1,0.5l0.2,0.5l0.2,0.5l0.2,0.4l0.3,0.4l0.4,0.3l0.5,0.2l0.5,0.2l0.4,0.1l0.5,0.1l0.4,0.3l0.2,0.5l0.2,0.5l-0.0,0.5l-0.1,0.4l-0.1,0.5l0.0,0.5l0.1,0.5l0.3,0.5l0.1,0.4l0.1,0.5l-0.1,0.5l-0.2,0.5l-0.3,0.3l-0.5,0.3l-0.4,0.1l-0.5,-0.0l-0.5,-0.1l-0.5,-0.1l-0.5,0.1l-0.5,-0.0l-0.5,0.1l-0.4,0.3l-0.2,0.5l-0.1,0.5l-0.1,0.5l-0.3,0.4l-0.4,0.2l-0.5,0.2l-0.5,0.2l-0.4,0.1l-0.5,0.1l-0.5,0.1l-0.5,-0.1l-0.5,-0.2l-0.5,-0.1l-0.4,-0.2l-0.5,-0.2l-0.5,-0.1l-0.5,-0.1l-0.5,-0.0l-0.5,-0.0l-0.5,0.1l-0.5,0.0l-0.5,-0.1l-0.4,-0.1l-0.5,-0.1l-0.5,0.1l-0.3,0.4l-0.2,0.5l0.2,0.4l0.4,0.3l0.5,0.2l0.5,0.0l0.5,0.1l0.5,0.1l0.4,0.3l0.3,0.3l0.4,0.4l0.4,0.2l0.4,0.3l0.5,0.3l0.4,0.2l0.5,-0.1l0.4,-0.3l0.3,-0.4l0.2,-0.4l0.1,-0.5l-0.1,-0.5l-0.1,-0.5l-0.3,-0.4l-0.3,-0.4l-0.3,-0.4l0.0,-0.5l0.3,-0.4l0.4,-0.3l0.5,-0.2l0.4,-0.2l0.5,-0.2l0.4,-0.3l0.3,-0.4l0.2,-0.5l0.1,-0.5l-0.1,-0.4l-0.3,-0.5l-0.4,-0.3l-0.3,-0.4l-0.2,-0.5l0.2,-0.4l0.4,-0.3l0.4,-0.1l0.5,0.3l0.1,0.5l0.1,0.5l0.1,0.4l0.4,0.4l0.4,0.2l0.5,0.1l0.5,-0.0l0.5,-0.0l0.5,0.1l0.4,0.3l0.5,0.1l0.5,-0.2 M367.3,201.7l0.4,-0.3l0.4,-0.3l0.5,-0.1l0.5,-0.2l0.5,-0.1l0.4,-0.2l0.4,-0.3l0.3,-0.3l0.2,-0.5l0.2,-0.5l0.4,-0.3l0.4,-0.2l0.5,0.1l0.5,0.3l0.3,0.4l0.2,0.4l0.2,0.5l0.3,0.4l0.4,0.3l0.4,0.3l0.2,0.5l0.0,0.5l-0.2,0.4l-0.5,0.2l-0.4,-0.2l-0.4,-0.3l-0.4,-0.3l-0.4,-0.3l-0.5,-0.2l-0.5,-0.1l-0.4,0.2l-0.4,0.3l-0.2,0.5l-0.1,0.5l0.2,0.4l0.2,0.5l0.3,0.4l0.2,0.4l0.2,0.5l0.0,0.5l-0.1,0.5l-0.4,0.3l-0.4,0.3l-0.5,-0.0l-0.4,-0.3l-0.3,-0.4l-0.2,-0.4l-0.3,-0.5l-0.3,-0.3l-0.4,-0.4l-0.3,-0.3l-0.3,-0.4l-0.2,-0.5l0.0,-0.5l0.3,-0.4l0.2,-0.4l0.2,-0.5l0.0,-0.5l-0.0,-0.5l-0.1,-0.5l-0.1,-0.5l-0.1,-0.5l-0.3,-0.3l-0.5,-0.3l-0.5,-0.0l-0.5,0.1l-0.3,0.3l-0.3,0.4l-0.2,0.5l-0.1,0.5l-0.0,0.5l0.1,0.5l0.2,0.4l0.3,0.4l0.7,0.3l0.5,-0.0l0.4,-0.2l0.3,-0.4l0.2,-0.5 M383.3,175.7l0.5,-0.1l0.4,-0.3l0.3,-0.4l0.2,-0.4l0.1,-0.5l0.1,-0.5l0.2,-0.5l0.2,-0.4l0.4,-0.4l0.4,-0.2l0.5,0.0l0.4,0.3l0.5,0.2l0.4,0.2l0.5,0.1l0.5,0.2l0.4,0.2l0.4,0.3l0.3,0.4l0.2,0.5l0.2,0.4l0.3,0.4l0.4,0.3l0.5,0.0l0.5,-0.2l0.3,-0.4l0.3,-0.4l0.4,-0.3l0.4,-0.3l0.5,-0.1l0.5,0.1l0.4,0.3l0.2,0.4l-0.1,0.5l-0.2,0.5l-0.1,0.5l-0.2,0.4l-0.1,0.5l-0.2,0.5l-0.2,0.4l-0.0,0.5l0.4,0.3l0.5,0.1l0.4,-0.2l0.3,-0.4l0.4,-0.4l0.2,-0.4l0.3,-0.4l0.3,-0.4l0.3,-0.4l0.4,-0.3l0.5,-0.1l0.5,0.1l0.4,0.3l0.3,0.4l0.1,0.5l0.2,0.4l0.2,0.5l0.3,0.4l0.2,0.4l0.3,0.4l0.3,0.5l0.0,0.5l-0.1,0.4l-0.3,0.5l-0.2,0.4l-0.2,0.4l-0.3,0.4l-0.3,0.5l-0.1,0.5l-0.1,0.5l0.1,0.5l0.1,0.5l0.1,0.4l0.1,0.5l0.1,0.5l-0.0,0.5l0.0,0.5l0.0,0.5l0.1,0.5l-0.3,0.5l-0.4,0.2l-0.5,-0.0l-0.5,-0.3l-0.3,-0.3l-0.3,-0.4l-0.4,-0.3l-0.5,-0.2l-0.4,0.2l-0.3,0.4l0.2,0.5l0.4,0.1l0.5,-0.2l0.1,-0.4l-0.0,-0.5l-0.3,-0.4l-0.4,-0.2l-0.5,-0.0l-0.5,0.1l-0.5,0.2l-0.5,0.2l-0.4,0.2l-0.4,0.3l-0.4,0.3l-0.3,0.3l-0.4,0.3l-0.5,0.3l-0.4,0.2l-0.5,0.1l-0.5,-0.3l-0.3,-0.3l-0.2,-0.5l-0.2,-0.4l-0.1,-0.5l0.2,-0.5l0.4,-0.3l0.5,-0.0l0.5,0.0l0.5,0.1l0.5,0.1l0.4,0.2l0.5,0.2l0.3,0.4l0.2,0.4l0.1,0.5l-0.0,0.5l-0.3,0.5l-0.4,0.3l-0.4,0.2l-0.5,0.1l-0.5,0.0l-0.5,-0.0l-0.5,-0.1l-0.5,-0.1l-0.5,-0.1l-0.5,0.0l-0.5,0.0l-0.4,-0.2l-0.4,-0.3l-0.4,-0.3l-0.4,-0.3l-0.4,-0.3l-0.3,-0.4l-0.3,-0.4l-0.2,-0.5l-0.3,-0.3l-0.5,-0.2l-0.5,-0.0l-0.4,0.2l-0.1,0.5l0.4,0.3l0.5,0.0l0.4,-0.3l0.3,-0.4l0.3,-0.4l0.3,-0.3l0.4,-0.3l0.4,-0.3l0.5,-0.3l0.4,-0.2l0.4,-0.3l0.4,-0.3l0.5,-0.2l0.4,-0.2l0.4,-0.3l0.2,-0.4l-0.0,-0.5l-0.2,-0.5l0.0,-0.5l0.1,-0.5l0.1,-0.5l0.2,-0.4l0.0,-0.5l-0.1,-0.5l-0.3,-0.4l-0.4,-0.3l-0.5,-0.1l-0.5,-0.1l-0.4,0.2l-0.4,0.3l-0.2,0.5l-0.1,0.5l0.2,0.4l0.2,0.5l0.2,0.4l0.2,0.5l0.0,0.5l-0.0,0.5l-0.1,0.5l0.1,0.5l0.1,0.5l0.0,0.5l-0.2,0.4l-0.4,0.3l-0.4,0.3l-0.4,0.3l-0.3,0.4l-0.2,0.4l-0.2,0.5l-0.2,0.4l-0.3,0.4l-0.4,0.3l-0.5,0.2l-0.5,0.0l-0.4,-0.2l-0.4,-0.3l-0.3,-0.4l-0.3,-0.4l-0.5,-0.1l-0.5,0.1l-0.4,0.3l-0.4,0.3l-0.3,0.4l-0.2,0.4l-0.0,0.5l0.0,0.5l0.1,0.5l-0.0,0.5l-0.1,0.5l-0.0,0.5l-0.0,0.5l0.0,0.5l0.0,0.5l-0.0,0.5l-0.1,0.5l-0.2,0.5l-0.2,0.4l-0.1,0.5l-0.2,0.5l-0.2,0.4l-0.1,0.5l-0.0,0.5l0.1,0.5l0.3,0.4l0.4,0.3l0.4,0.4l0.3,0.4l0.2,0.4l0.0,0.5l-0.2,0.5l-0.3,0.3l-0.5,0.3l-0.5,0.1l-0.5,-0.0l-0.4,-0.3l-0.3,-0.3l-0.5,-0.3l-0.4,-0.2l-0.5,-0.1l-0.5,0.2l-0.3,0.3l-0.2,0.5l-0.4,0.3l-0.4,0.4l-0.3,0.4l-0.1,0.4l0.1,0.5l0.4,0.3l0.5,0.1l0.5,0.0l0.5,-0.1l0.5,-0.2 M384.7,195.0l0.2,0.5l0.1,0.4l0.3,0.5l0.1,0.5l0.2,0.4l0.4,0.4l0.5,0.2l0.4,0.2l0.4,0.3l0.3,0.3l0.4,0.4l0.3,0.4l0.4,0.3l0.3,0.4l0.3,0.4l0.1,0.5l-0.1,0.5l-0.3,0.3l-0.5,0.1l-0.5,-0.1l-0.5,-0.2l-0.5,0.0l-0.5,-0.0l-0.5,-0.1l-0.4,-0.3l-0.3,-0.4l-0.4,-0.2l-0.5,0.1l-0.3,0.4l-0.2,0.5l0.1,0.4l0.2,0.5l0.3,0.4l0.4,0.3l0.4,0.3l0.5,0.2l0.4,-0.1l0.5,-0.1l0.5,-0.2l0.4,-0.3l0.5,-0.2l0.5,-0.1l0.5,-0.0l0.4,0.1l0.4,0.3l0.5,0.3l0.4,0.2l0.2,0.5l-0.0,0.5l-0.2,0.4l-0.3,0.4l-0.5,0.3l-0.4,0.1l-0.4,0.3l-0.4,0.4l-0.1,0.5l-0.1,0.5l-0.1,0.5l0.1,0.5l0.2,0.4l0.3,0.4l0.3,0.4l0.3,0.4l0.4,0.3l0.4,0.3l0.4,0.3l0.5,0.1l0.5,-0.0l0.4,-0.3l0.4,-0.3l0.5,-0.2l0.5,-0.1l0.5,-0.0l0.5,0.1l0.3,0.3l0.4,0.3l0.3,0.4l0.2,0.5l-0.1,0.4l-0.4,0.4l-0.4,0.3l-0.3,0.3l-0.5,0.3l-0.4,0.2l-0.5,-0.0l-0.4,-0.3l-0.4,-0.3l-0.4,-0.3l-0.5,-0.2l-0.5,-0.2l-0.4,-0.1l-0.5,0.0l-0.5,0.3l-0.4,0.3l-0.2,0.4l0.1,0.5l0.4,0.3l0.5,0.2l0.4,0.2l0.5,0.2l0.4,0.3l0.4,0.3l0.3,0.4l0.3,0.4l0.0,0.5l-0.0,0.5l-0.2,0.5l-0.4,0.3l-0.5,0.1l-0.5,-0.1l-0.5,-0.0l-0.5,0.1l-0.4,0.2l-0.4,0.3l-0.4,0.4l-0.3,0.3l-0.5,0.3l-0.4,0.1l-0.5,0.2l-0.4,0.4l-0.2,0.4l-0.1,0.5l-0.2,0.5l-0.0,0.4l-0.1,0.5l-0.1,0.5l0.1,0.5l0.1,0.5l0.2,0.5l0.3,0.4l0.4,0.3l0.5,0.2l0.5,0.1l0.5,-0.0l0.5,0.0l0.4,0.2l0.5,0.2l0.4,0.3l0.3,0.4l0.2,0.4l0.0,0.5l-0.1,0.5l-0.4,0.3l-0.4,0.3l-0.4,0.3l-0.2,0.5l-0.2,0.4l-0.1,0.5l0.0,0.5l0.1,0.5l0.1,0.5l0.2,0.5l0.2,0.4l0.4,0.3l0.5,0.2l0.5,0.0l0.5,-0.1l0.4,-0.3l0.4,-0.2l0.5,-0.0l0.5,0.0l0.5,0.0l0.5,-0.0l0.5,-0.1l0.5,-0.2l0.4,-0.3l0.3,-0.4l0.1,-0.5l0.0,-0.5l-0.1,-0.5l-0.1,-0.4l-0.3,-0.5l-0.2,-0.4l-0.4,-0.3l-0.5,-0.2l-0.4,-0.2l-0.5,-0.2l-0.4,-0.4l-0.3,-0.3l-0.5,-0.3l-0.4,-0.3l-0.3,-0.3l-0.2,-0.5l-0.2,-0.4l-0.1,-0.5l0.0,-0.5l0.1,-0.5l0.3,-0.4l0.3,-0.5l0.2,-0.4l0.1,-0.5l0.1,-0.5l-0.1,-0.5l0.1,-0.5l0.3,-0.4l0.4,-0.0l0.4,0.3l0.2,0.4l0.1,0.5l-0.0,0.5 M390.0,200.3l0.5,0.0l0.5,0.1l0.5,0.1l0.5,0.0l0.5,0.0l0.5,-0.0l0.4,-0.2l0.5,-0.2l0.5,-0.2l0.5,0.0l0.5,0.1l0.5,0.0l0.5,0.1l0.5,0.1l0.4,0.1l0.5,0.3l0.3,0.3l0.1,0.5l0.0,0.5l0.1,0.5l0.1,0.5l0.1,0.5l0.2,0.5l0.1,0.5l-0.1,0.4l-0.3,0.5l-0.4,0.2l-0.5,0.2l-0.5,-0.0l-0.4,-0.3l-0.3,-0.3l-0.2,-0.5l0.0,-0.5l0.2,-0.5l0.4,-0.3l0.5,-0.0l0.5,-0.1l0.5,-0.0l0.5,-0.2l0.4,-0.3l0.4,-0.3l0.4,-0.3l0.4,-0.2l0.5,-0.1l0.5,-0.0l0.5,-0.0l0.5,0.2l0.3,0.4l0.3,0.4l0.2,0.4l0.2,0.5l0.2,0.4l0.1,0.5l-0.0,0.5l-0.2,0.5l-0.3,0.4l-0.4,0.2l-0.5,0.1l-0.5,-0.1l-0.5,-0.2l-0.2,-0.4l0.1,-0.5l0.3,-0.4l0.4,-0.1l0.5,0.0l0.5,0.2l0.5,0.1l0.4,0.3l0.4,0.3l0.4,0.3l0.4,0.3l0.5,0.1l0.4,-0.2l0.4,-0.4l0.2,-0.4l0.1,-0.5l0.2,-0.5l0.2,-0.5l0.3,-0.4l0.4,-0.2l0.5,-0.0l0.5,-0.0l0.5,0.0l0.5,0.1l0.5,0.0l0.5,0.1l0.4,0.3l0.3,0.4l0.3,0.4l0.2,0.5l0.1,0.5l-0.0,0.5l-0.2,0.4l-0.3,0.4l-0.3,0.4l-0.3,0.4l-0.3,0.4l-0.1,0.5l-0.0,0.5l0.1,0.5l0.1,0.5l0.0,0.5l-0.0,0.5l-0.2,0.5l-0.1,0.4l-0.1,0.5l-0.2,0.5l-0.2,0.4l0.1,0.5l0.1,0.5l0.2,0.5l0.3,0.4l0.2,0.5l0.1,0.4l0.2,0.5l0.3,0.4l0.4,0.2l0.5,-0.0l0.5,-0.2l0.2,-0.5l-0.0,-0.5l-0.3,-0.4l-0.4,-0.3l-0.5,-0.2l-0.4,-0.1l-0.5,-0.1l-0.5,0.2l-0.3,0.4l-0.1,0.5l-0.0,0.5l-0.1,0.5l-0.4,0.3l-0.5,-0.1l-0.4,-0.3l-0.2,-0.5l-0.0,-0.5l0.1,-0.4l0.1,-0.5l0.1,-0.5l0.0,-0.5l-0.1,-0.5l-0.1,-0.5l-0.1,-0.5l-0.2,-0.4l-0.3,-0.5l-0.3,-0.3l-0.3,-0.4l-0.3,-0.4l-0.3,-0.4l-0.1,-0.5l-0.1,-0.5l-0.3,-0.4l-0.4,-0.3l-0.5,-0.1l-0.4,0.2l-0.5,0.3l-0.3,0.4l-0.3,0.4l-0.2,0.4l-0.0,0.5l-0.0,0.5l-0.0,0.5l-0.2,0.5l-0.4,0.3l-0.5,0.0l-0.4,-0.2l-0.3,-0.4l-0.2,-0.5l-0.0,-0.5l-0.1,-0.4l-0.3,-0.5l-0.3,-0.3l-0.4,-0.4l-0.5,-0.2l-0.5,-0.0l-0.4,0.1l-0.4,0.3l-0.5,0.3l-0.4,0.2l-0.5,0.2l-0.4,0.3l-0.2,0.4l-0.3,0.5l-0.1,0.5l-0.2,0.4l0.0,0.5l0.2,0.5l0.3,0.3l0.5,0.2l0.5,-0.1l0.4,-0.3l0.4,-0.3l0.2,-0.5l-0.1,-0.4l-0.1,-0.5l-0.1,-0.5l-0.2,-0.5l-0.1,-0.5l-0.3,-0.4l-0.3,-0.4l-0.5,-0.2l-0.4,0.1l-0.5,0.2l-0.4,0.4l-0.4,0.2 M412.7,201.7l0.5,-0.2l0.4,-0.2l0.4,-0.3l0.4,-0.3l0.5,-0.2l0.4,-0.3l0.4,-0.3l0.4,-0.3l0.5,-0.1l0.5,-0.1l0.5,-0.1l0.5,0.0l0.4,0.2l0.3,0.4l0.2,0.5l0.0,0.5l-0.1,0.5l-0.2,0.4l-0.4,0.4l-0.2,0.4l-0.3,0.4l-0.2,0.5l-0.3,0.4l-0.3,0.4l-0.3,0.3l-0.4,0.4l-0.3,0.4l-0.3,0.4l-0.3,0.4l-0.3,0.4l-0.4,0.3l-0.4,0.2l-0.5,0.1l-0.5,0.1l-0.5,-0.2l-0.3,-0.4l0.0,-0.5l0.4,-0.4l0.5,-0.1l0.4,0.3l0.2,0.4l0.0,0.5l-0.2,0.4l-0.3,0.4l-0.5,0.2l-0.4,0.3l-0.2,0.5l-0.2,0.4l0.0,0.5l0.1,0.5l0.2,0.5l0.2,0.4l0.4,0.3l0.4,0.3l0.5,0.1l0.5,-0.1l0.5,-0.1l0.5,-0.1l0.5,0.1l0.4,0.2l0.5,0.3l0.4,0.1l0.5,-0.1l0.5,-0.1l0.5,-0.1l0.5,0.1l0.3,0.4l0.2,0.5l0.1,0.5l-0.1,0.5l-0.0,0.5l0.0,0.5l0.4,0.3l0.4,0.2l0.4,0.4l0.4,0.3l0.4,0.3l0.3,0.4l0.0,0.5l-0.3,0.4l-0.5,0.1l-0.5,0.1l-0.4,-0.2l-0.3,-0.4l-0.1,-0.5l0.2,-0.4l0.4,-0.4l0.5,-0.1l0.4,0.1l0.4,0.4l0.1,0.5l-0.1,0.5l-0.2,0.4l-0.1,0.5l0.0,0.5l0.2,0.4l0.2,0.5l-0.0,0.5l0.0,0.5l0.1,0.5l0.2,0.4l0.4,0.3l0.5,0.0l0.5,-0.1l0.5,-0.1l0.5,0.2l0.2,0.4l0.1,0.5l0.2,0.5l0.3,0.3l0.4,0.4l0.4,0.3l0.4,0.2l0.5,-0.0l0.5,-0.2l0.5,-0.2l0.4,-0.1l0.5,-0.2l0.5,-0.1l0.5,0.1l0.5,0.1l0.4,0.3l0.3,0.4l0.1,0.5l0.2,0.5l0.2,0.4l0.2,0.5l0.1,0.5l-0.1,0.5l-0.2,0.4l-0.5,0.2l-0.5,0.1l-0.5,-0.1l-0.4,-0.2l-0.4,-0.2l-0.3,-0.5l-0.1,-0.5l0.0,-0.4l0.3,-0.5l0.4,-0.1l0.5,0.1l0.4,0.3l0.4,0.4l0.1,0.5l-0.0,0.5l-0.1,0.5l-0.1,0.5l-0.3,0.4l-0.2,0.4l-0.1,0.5l0.0,0.5l0.3,0.5l0.4,0.3l0.5,0.0l0.4,-0.2l0.3,-0.4l0.4,-0.3l0.3,-0.4l0.4,-0.4l0.3,-0.4l0.4,-0.3l0.4,-0.1l0.5,0.1l0.5,0.1l0.5,0.1l0.5,0.0l0.5,0.1l0.4,0.2l0.4,0.4l0.3,0.4l0.2,0.4l0.3,0.4l0.3,0.5l0.3,0.3l0.4,0.4l0.3,0.4l0.2,0.4l0.1,0.5l-0.1,0.5l-0.3,0.4l-0.4,0.3l-0.5,0.2l-0.5,0.1l-0.5,-0.0l-0.4,-0.2l-0.5,-0.2l-0.5,-0.2l-0.5,-0.1l-0.4,-0.1l-0.5,-0.2l-0.4,-0.3 M420.0,214.4l0.5,0.2l0.5,0.1l0.5,-0.0l0.5,0.1l0.4,0.1l0.5,-0.0l0.5,-0.2l0.5,-0.1l0.5,-0.2l0.5,-0.0l0.5,0.1l0.4,0.2l0.4,0.3l0.2,0.4l0.1,0.5l-0.1,0.5l-0.1,0.5l-0.2,0.5l-0.3,0.4l-0.4,0.3l-0.5,0.1l-0.4,0.1l-0.5,0.2l-0.5,0.1l-0.5,0.1l-0.4,0.3l-0.2,0.5l-0.2,0.4l-0.1,0.5l0.1,0.5l0.2,0.5l0.2,0.4l0.3,0.4l0.3,0.4l0.4,0.3l0.4,0.3l0.5,0.1l0.5,-0.1l0.5,-0.2l0.4,-0.2l0.3,-0.4l0.4,-0.4l0.5,-0.1l0.5,-0.1l0.5,0.0l0.4,0.2l0.4,0.3l0.2,0.5l0.2,0.4l0.4,0.4l0.4,0.2l0.5,0.0l0.5,0.1l0.5,0.1l0.5,0.1l0.5,0.1l0.5,-0.1l0.5,-0.1l0.4,-0.2l0.5,-0.3l0.4,-0.1l0.5,-0.0l0.5,0.1l0.4,0.3l0.3,0.4l0.2,0.5l0.1,0.4l-0.1,0.5l-0.3,0.5l-0.4,0.3l-0.2,0.4l-0.1,0.5l0.3,0.4l0.4,0.2l0.5,0.2l0.5,0.1l0.5,0.0l0.5,-0.1l0.4,-0.2l0.4,-0.3l0.3,-0.5l0.1,-0.4l0.1,-0.5l0.2,-0.5l0.2,-0.4l0.3,-0.4l0.2,-0.5l0.2,-0.4l0.2,-0.5l0.2,-0.5l0.2,-0.4l0.3,-0.4l0.3,-0.5l0.2,-0.4l0.1,-0.5l0.2,-0.5l0.0,-0.5l0.0,-0.5l-0.0,-0.5l-0.1,-0.4l-0.1,-0.5l-0.1,-0.5l0.0,-0.5l0.3,-0.4l0.4,-0.3l0.4,-0.2l0.5,0.0l0.5,0.2l0.3,0.4l0.3,0.4l0.1,0.5l-0.0,0.5l0.0,0.5l0.1,0.5l0.0,0.5l0.2,0.4l0.2,0.5l0.2,0.5l0.3,0.4l0.2,0.4l0.2,0.5l0.2,0.5l-0.0,0.5l-0.2,0.4l-0.4,0.3l-0.5,0.2l-0.5,0.0l-0.5,0.0l-0.4,-0.1l-0.5,-0.2l-0.5,-0.0l-0.5,0.0l-0.5,0.2l-0.4,0.3l-0.3,0.4l-0.1,0.5l-0.1,0.5l0.1,0.5l-0.0,0.5l-0.2,0.5l-0.2,0.4l-0.1,0.5l0.1,0.5l0.3,0.4l0.3,0.4l0.3,0.3l0.4,0.4l0.3,0.4l0.5,0.2l0.4,0.2l0.5,0.1l0.5,-0.0l0.5,-0.1l0.5,-0.0l0.5,-0.1l0.5,-0.0l0.5,-0.1l0.5,-0.1l0.5,-0.1l0.5,-0.1l0.5,0.0l0.5,0.1l0.5,-0.1l0.4,-0.2l0.3,-0.4l0.3,-0.4l0.5,-0.2l0.5,0.0l0.4,0.2l0.4,0.3l0.4,0.3l0.3,0.4l0.3,0.4l0.3,0.4l0.4,0.3l0.3,0.4l0.2,0.5l0.2,0.4l0.2,0.5l0.3,0.4l0.2,0.5l0.4,0.2l0.5,0.1l0.5,-0.1l0.5,-0.2l0.4,-0.3l0.2,-0.5l-0.2,-0.4l-0.3,-0.4l-0.4,-0.3l-0.4,-0.2l-0.5,-0.1l-0.5,-0.1l-0.5,-0.0l-0.5,-0.2l-0.3,-0.4l-0.2,-0.5l-0.0,-0.4l0.3,-0.4l0.4,-0.3l0.5,-0.1l0.5,0.0l0.5,0.0l0.5,0.0l0.5,0.0l0.5,0.1l0.5,0.1l0.5,-0.1l0.5,0.1l0.4,0.1l0.4,0.3l0.3,0.4l0.3,0.4l0.3,0.4l0.3,0.4l0.3,0.4l0.4,0.4l0.2,0.4l0.2,0.5l-0.0,0.5l-0.1,0.5l-0.0,0.4l-0.1,0.5l0.2,0.5l0.4,0.3l0.4,0.1l0.5,-0.0l0.5,-0.1l0.5,0.2l0.3,0.4l0.2,0.5l0.1,0.5l0.0,0.5l0.1,0.5l0.1,0.4l0.2,0.5l0.1,0.5l0.1,0.5l-0.0,0.5l-0.0,0.5l-0.1,0.5l-0.2,0.4l-0.4,0.3l-0.5,-0.0l-0.2,-0.4l-0.1,-0.5l0.1,-0.5l0.2,-0.5l0.3,-0.4l0.2,-0.4l0.2,-0.4l0.4,-0.4l0.4,-0.3l0.5,-0.0l0.5,0.0l0.5,0.1l0.5,-0.0l0.5,-0.2l0.4,-0.3l0.4,-0.2l0.5,-0.0l0.5,0.2l0.4,0.3l0.4,0.3l0.2,0.4l0.1,0.5l0.1,0.5l-0.1,0.5l-0.3,0.4l-0.2,0.5l-0.1,0.4l0.2,0.5l0.2,0.5l0.3,0.4l0.4,0.2l0.5,0.1l0.5,0.0l0.5,-0.0l0.5,-0.1l0.4,-0.3l0.3,-0.3l0.3,-0.5l0.0,-0.5l-0.0,-0.5l-0.1,-0.5l0.0,-0.5l0.2,-0.4l0.2,-0.5l0.3,-0.4l0.3,-0.4l0.4,-0.3l0.4,-0.3l0.3,-0.4l0.4,-0.2l0.5,-0.1l0.5,0.1l0.5,0.1l0.5,0.1l0.5,-0.1l0.5,-0.1l0.3,-0.4l0.1,-0.5l-0.2,-0.4l-0.3,-0.5l-0.4,-0.3l-0.5,-0.1l-0.4,-0.2l-0.5,-0.2l-0.4,-0.4l-0.3,-0.3l-0.4,-0.4l-0.4,-0.3l-0.1,-0.5l0.2,-0.4l0.5,-0.2l0.5,-0.2l0.4,-0.1l0.5,-0.2l0.5,-0.0l0.5,-0.1l0.5,-0.0l0.5,-0.2l0.3,-0.3l0.3,-0.4l0.3,-0.5l0.2,-0.4l0.3,-0.4l0.4,-0.3l0.5,-0.3l0.4,-0.2l0.5,-0.1l0.5,0.0l0.4,0.2l0.3,0.4l0.1,0.5l-0.1,0.5l-0.2,0.7l-0.1,0.5l-0.2,0.5 M446.1,230.0l-0.3,0.4l-0.3,0.3l-0.5,0.3l-0.4,0.2l-0.4,0.3l-0.4,0.4l-0.3,0.4l-0.3,0.4l-0.3,0.3l-0.4,0.4l-0.4,0.3l-0.3,0.3l-0.4,0.4l-0.2,0.4l0.1,0.5l0.3,0.4l0.5,0.3l0.4,0.1l0.5,0.1l0.5,0.0l0.5,-0.0l0.4,-0.3l0.3,-0.4l0.4,-0.4l0.4,-0.2l0.5,0.0l0.5,0.2l0.4,0.3l0.3,0.4l0.3,0.4l0.4,0.3l0.2,0.5l0.1,0.5l-0.0,0.5l-0.2,0.4l-0.3,0.4l-0.3,0.4l-0.4,0.3l-0.5,0.1l-0.5,0.1l-0.5,0.2l-0.5,0.1l-0.4,0.2l-0.4,0.3l-0.2,0.5l0.1,0.4l0.4,0.4l0.4,0.1l0.5,-0.1l0.5,-0.2l0.4,-0.2l0.5,-0.2l0.4,-0.3l0.5,-0.1l0.5,0.2l0.4,0.3l0.3,0.3l0.2,0.5l0.2,0.5l0.3,0.4l0.3,0.4l0.3,0.4l0.3,0.4l0.2,0.5l-0.0,0.5l-0.0,0.5l-0.1,0.4l0.0,0.5l0.2,0.5l0.4,0.3l0.4,0.2l0.5,0.2l0.4,0.2l0.5,-0.0l0.5,-0.3l0.3,-0.4l0.1,-0.4l0.0,-0.5l0.1,-0.5l0.2,-0.5l0.2,-0.5l0.2,-0.4l0.3,-0.4l0.3,-0.4l0.3,-0.4l0.4,-0.3l0.4,-0.2l0.5,-0.3l0.3,-0.3l0.3,-0.4l0.2,-0.5l0.3,-0.4l0.3,-0.4l0.1,-0.5l-0.1,-0.5l-0.2,-0.4l-0.3,-0.4l-0.3,-0.4l-0.3,-0.4l-0.2,-0.5l-0.2,-0.4l-0.2,-0.5l-0.2,-0.4l-0.3,-0.4l-0.3,-0.5l-0.0,-0.5l0.0,-0.5l0.2,-0.4l0.1,-0.5l0.0,-0.5l-0.2,-0.5l-0.3,-0.4l-0.4,-0.3l-0.4,-0.1l-0.5,0.2l-0.2,0.4l-0.2,0.5l-0.1,0.5l-0.0,0.5l0.1,0.5l-0.0,0.5l-0.1,0.4l-0.4,0.4l-0.4,0.2l-0.5,0.0l-0.5,-0.1l-0.5,-0.2l-0.4,-0.3l-0.3,-0.4l-0.1,-0.5l0.0,-0.4l0.3,-0.5 M444.8,243.1l-0.3,0.4l-0.3,0.4l-0.2,0.4l-0.4,0.4l-0.4,0.2l-0.5,-0.0l-0.5,-0.0l-0.5,0.1l-0.5,0.2l-0.4,0.1l-0.5,0.2l-0.5,0.2l-0.4,0.3l-0.3,0.4l-0.3,0.4l-0.2,0.4l-0.3,0.4l-0.3,0.5l-0.1,0.4l0.1,0.5l0.2,0.5l0.4,0.3l0.5,0.1l0.5,-0.0l0.5,-0.2l0.4,-0.2l0.4,-0.3l0.4,-0.3l0.3,-0.4l0.3,-0.4l0.1,-0.5l-0.2,-0.5l-0.3,-0.4l-0.4,-0.2l-0.5,-0.2l-0.5,-0.2l-0.4,-0.1l-0.5,-0.1l-0.5,-0.1l-0.5,-0.0l-0.5,0.0l-0.5,0.0l-0.5,0.2l-0.3,0.4l-0.1,0.5l0.2,0.5l0.3,0.4l0.4,0.3l0.5,0.1l0.4,0.2l0.4,0.3l0.2,0.5l0.1,0.5l0.2,0.4l0.1,0.5l0.1,0.5l0.1,0.5l0.2,0.5l0.1,0.4l0.4,0.4l0.5,0.1l0.4,-0.2l0.4,-0.3l0.4,-0.4l0.3,-0.4l0.4,-0.3l0.4,-0.2l0.5,-0.2l0.5,-0.1l0.4,-0.2l0.5,0.1l0.1,0.5l-0.3,0.3l-0.5,-0.0l-0.4,-0.3l-0.4,-0.4l-0.3,-0.3l-0.3,-0.5l0.0,-0.5l0.2,-0.4l0.2,-0.5l0.4,-0.3l0.5,-0.2l0.5,0.1l0.5,0.1l0.4,0.3l0.4,0.2l0.4,0.3l0.5,0.1l0.5,-0.1l0.4,-0.3l0.3,-0.4l0.4,-0.3l0.5,-0.2l0.4,-0.3l0.5,-0.1l0.5,-0.1l0.5,0.1l0.4,0.1l0.5,0.0l0.5,0.1l0.5,0.2l0.4,0.3l0.4,0.3l0.4,0.4l0.2,0.4l0.0,0.5l-0.2,0.4l-0.4,0.3l-0.5,0.1l-0.4,-0.1l-0.5,-0.3l-0.4,-0.3l-0.1,-0.5l0.2,-0.4l0.5,-0.2l0.5,0.0l0.5,-0.1l0.4,-0.2l0.4,-0.4l0.2,-0.4l0.1,-0.5l-0.0,-0.5l-0.2,-0.5l-0.1,-0.5l-0.1,-0.5l0.1,-0.4l0.2,-0.5l0.5,-0.1l0.5,-0.0l0.5,0.1l0.4,0.2l0.5,0.3l0.4,0.2l0.5,0.2l0.5,0.2l0.4,0.1l0.5,0.1l0.5,0.2l0.4,0.3l0.3,0.4l0.2,0.4l0.4,0.4l0.4,0.2l0.5,-0.0l0.5,-0.2l0.4,-0.2l0.4,-0.4l0.4,-0.3l0.4,-0.2 M453.9,202.6l0.4,0.2l0.4,0.3l0.4,0.4l0.3,0.4l0.2,0.5l0.3,0.3l0.5,0.2l0.4,0.2l0.5,0.1l0.5,0.1l0.5,0.0l0.5,0.1l0.5,0.1l0.5,0.1l0.5,0.1l0.5,0.2l0.4,0.0l0.5,-0.0l0.5,-0.1l0.5,0.1l0.5,0.2l0.2,0.5l-0.1,0.5l-0.3,0.3l-0.5,0.1l-0.5,-0.1l-0.4,-0.2l-0.5,-0.3l-0.4,-0.2l-0.4,-0.3l-0.5,-0.1l-0.5,-0.0l-0.5,0.1l-0.4,0.3l-0.3,0.4l-0.3,0.4l-0.2,0.5l-0.2,0.4l-0.3,0.4l-0.1,0.5l-0.1,0.5l-0.0,0.5l-0.1,0.5l-0.0,0.5l-0.2,0.5l-0.2,0.4l-0.3,0.4l-0.4,0.3l-0.5,0.2l-0.5,0.1l-0.5,0.1l-0.4,0.2l-0.4,0.4l-0.2,0.4l-0.1,0.5l-0.0,0.5l0.1,0.5l0.2,0.4l0.4,0.3l0.4,0.2l0.5,0.1l0.5,-0.0l0.5,-0.0l0.5,0.0l0.5,0.1l0.5,0.1l0.5,0.0l0.5,0.1l0.4,0.3l0.1,0.5l-0.2,0.4l-0.3,0.3l-0.4,0.3l-0.3,0.4l-0.2,0.5l-0.0,0.5l-0.0,0.5l-0.2,0.5l-0.3,0.4l-0.4,0.2l-0.5,0.2l-0.4,0.2l-0.4,0.3l-0.4,0.3l-0.3,0.4l-0.4,0.3l-0.2,0.5l-0.2,0.5l-0.1,0.4l-0.4,0.4l-0.4,0.2l-0.5,0.1l-0.5,-0.1l-0.5,-0.0l-0.5,0.1l-0.3,0.4l-0.0,0.5l0.1,0.5l0.3,0.4l0.4,0.3l0.5,-0.1 M459.2,207.8l0.1,0.5l0.2,0.5l0.0,0.5l0.2,0.4l0.1,0.5l0.3,0.4l0.3,0.4l0.4,0.3l0.4,0.3l0.2,0.5l0.0,0.5l-0.2,0.4l-0.3,0.4l-0.3,0.4l-0.4,0.3l-0.3,0.4l-0.2,0.5l-0.2,0.4l-0.2,0.5l-0.2,0.4l0.0,0.5l0.1,0.5l0.3,0.4l0.4,0.3l0.4,0.3l0.4,0.3l0.4,0.4l0.3,0.4l0.4,0.2l0.5,0.1l0.5,-0.2l0.4,-0.3l0.4,-0.3l0.4,-0.3l0.2,-0.4l0.2,-0.5l0.1,-0.5l-0.1,-0.5l-0.1,-0.5l-0.4,-0.4l-0.3,-0.3l-0.4,-0.4l-0.2,-0.4l-0.2,-0.5l-0.0,-0.5l0.1,-0.5l0.2,-0.4l0.3,-0.4l0.3,-0.4l0.4,-0.2l0.5,-0.1l0.5,0.0l0.5,0.1l0.5,0.2l0.4,0.3l0.3,0.4l0.2,0.4l0.2,0.5l0.3,0.4l0.4,0.3l0.5,0.0l0.5,0.1l0.5,0.1l0.4,0.1l0.5,0.2l0.5,0.1l0.5,0.1l0.5,0.0l0.5,0.0l0.5,-0.2l0.3,-0.3l0.1,-0.5l-0.1,-0.5l-0.3,-0.4l-0.4,-0.3l-0.4,-0.2l-0.5,0.0l-0.5,0.1l-0.4,0.3l-0.3,0.4l-0.3,0.5l-0.1,0.4l-0.1,0.5l-0.1,0.5l0.1,0.5l0.1,0.5l0.3,0.4l0.2,0.5l0.2,0.4l0.3,0.4l0.4,0.3l0.5,0.3l0.2,0.4l0.2,0.5l0.2,0.4l0.1,0.5l0.3,0.4l0.4,0.3l0.4,0.2l0.5,0.1l0.5,0.0l0.5,-0.0l0.3,-0.5l0.1,-0.4l-0.2,-0.5l-0.3,-0.4l-0.5,-0.1l-0.5,0.0l-0.5,0.1l-0.5,0.0l-0.5,-0.1l-0.5,-0.0l-0.5,-0.1l-0.5,-0.2l-0.4,-0.1l-0.5,0.1l-0.5,0.2l-0.3,0.4l-0.3,0.4l-0.4,0.3l-0.5,0.2l-0.5,0.0l-0.5,-0.0l-0.4,-0.3l-0.2,-0.4l-0.0,-0.5l-0.1,-0.5l-0.2,-0.5l-0.3,-0.3l-0.4,-0.2l-0.5,-0.1l-0.5,0.2l-0.3,0.4l-0.0,0.5l0.1,0.5l-0.1,0.5l-0.2,0.5l-0.0,0.5l-0.0,0.5l-0.0,0.5l-0.1,0.5l-0.0,0.5l-0.1,0.5l-0.2,0.4l-0.4,0.3l-0.5,0.2l-0.5,-0.1l-0.4,-0.2l-0.4,-0.4l-0.4,-0.3l-0.4,-0.1l-0.5,-0.0l-0.5,-0.0l-0.5,-0.0l-0.5,0.1l-0.5,0.3l-0.4,0.5l0.0,0.5l0.2,0.5l0.4,0.3l0.5,0.2l0.5,0.1 M470.0,209.4l0.1,0.5l0.0,0.5l0.1,0.5l0.2,0.5l0.2,0.4l0.2,0.4l0.4,0.4l0.4,0.2l0.5,0.3l0.4,0.1l0.5,0.1l0.5,0.1l0.5,-0.1l0.5,-0.1l0.5,0.0l0.5,0.2l0.3,0.3l0.3,0.5l0.1,0.5l0.0,0.5l0.1,0.5l0.1,0.5l0.1,0.4l0.1,0.5l0.1,0.5l-0.1,0.5l-0.1,0.5l-0.2,0.4l-0.3,0.4l-0.3,0.4l-0.2,0.5l-0.2,0.5l-0.1,0.4l-0.0,0.5l0.1,0.5l0.1,0.5l-0.0,0.5l-0.3,0.4l-0.4,0.2l-0.5,-0.0l-0.5,-0.2l-0.4,-0.2l-0.5,-0.3l-0.3,-0.3l-0.2,-0.5l0.3,-0.4l0.4,-0.2l0.5,-0.3l0.4,-0.2l0.5,-0.1l0.5,0.1l0.4,0.3l0.3,0.4l0.3,0.4l0.3,0.4l0.3,0.4l0.3,0.4l0.4,0.4l0.4,0.2l0.5,0.1l0.5,0.1l0.4,0.2l0.5,0.3l0.3,0.3l0.3,0.4l0.3,0.4l0.4,0.4l0.3,0.3l0.2,0.5l-0.0,0.5l-0.1,0.5l0.0,0.5l0.2,0.4l0.4,0.4l0.4,0.3l0.4,0.3l0.2,0.4l0.1,0.5l-0.1,0.5l-0.2,0.5l-0.3,0.4l-0.3,0.4l-0.4,0.3l-0.4,0.3l-0.3,0.4l-0.5,0.2l-0.4,0.3l-0.3,0.4l-0.0,0.5l0.1,0.5l0.3,0.4l0.4,0.4l0.4,0.3l0.3,0.3l0.4,0.3l0.5,0.1l0.5,0.1l0.5,0.0l0.5,0.0l0.5,0.1l0.5,0.1l0.4,0.3l0.3,0.4l0.1,0.5l-0.1,0.5l-0.1,0.4l-0.3,0.5l-0.3,0.3l-0.4,0.4l-0.7,0.2l-0.5,-0.1l-0.4,-0.3l-0.4,-0.3l-0.3,-0.4l-0.2,-0.5l-0.1,-0.5l0.0,-0.5l0.2,-0.4 M503.9,222.4l0.4,0.3l0.5,0.1l0.5,0.1l0.5,0.1l0.5,-0.0l0.5,-0.2l0.4,-0.2l0.4,-0.2l0.5,-0.2l0.5,0.1l0.4,0.3l0.2,0.4l-0.1,0.5l-0.2,0.5l-0.2,0.4l0.0,0.5l0.2,0.5l0.4,0.4l0.4,0.2l0.4,0.3l0.4,0.3l0.3,0.4l0.2,0.5l-0.2,0.4l-0.3,0.4l-0.3,0.4l-0.2,0.5l-0.3,0.4l-0.4,0.2l-0.5,0.2l-0.4,0.2l-0.5,0.3l-0.4,0.3l-0.3,0.3l-0.3,0.4l-0.3,0.5l-0.2,0.4l-0.2,0.5l-0.1,0.5l-0.1,0.5l0.1,0.5l0.1,0.4l0.3,0.5l0.3,0.3l0.4,0.4l0.4,0.2l0.4,0.4l0.4,0.3l0.4,0.2l0.5,0.2l0.5,0.1l0.5,-0.0l0.4,-0.2l0.3,-0.4l0.2,-0.5l0.1,-0.5l0.1,-0.5l-0.1,-0.5l-0.0,-0.5l-0.3,-0.4l-0.4,-0.3l-0.5,0.0l-0.4,0.4l-0.1,0.4l-0.1,0.5l-0.0,0.5l0.0,0.5l0.1,0.5l0.2,0.5l0.3,0.4l0.2,0.4l0.1,0.5l0.0,0.5l-0.0,0.5l-0.4,0.4l-0.4,0.1l-0.5,-0.1l-0.4,-0.3l-0.3,-0.4l-0.4,-0.3l-0.3,-0.4l-0.4,-0.3l-0.5,-0.2l-0.5,-0.1l-0.4,0.2l-0.4,0.3l-0.4,0.3l-0.4,0.3l-0.3,0.4l-0.4,0.4l-0.3,0.3l-0.4,0.4l-0.4,0.2l-0.4,0.2l-0.5,0.2l-0.5,0.2l-0.4,0.2l-0.5,0.1l-0.5,0.2l-0.4,0.3l-0.3,0.4l-0.2,0.4l-0.1,0.5l-0.0,0.5l-0.1,0.5l0.1,0.5l0.2,0.5l0.3,0.3l0.5,0.2l0.4,0.3l0.3,0.4l0.1,0.5l-0.2,0.5l-0.3,0.4l-0.4,0.2l-0.5,0.3l-0.4,0.2l-0.5,0.1l-0.5,0.1l-0.4,0.2l-0.4,0.4l-0.3,0.4l-0.4,0.3l-0.4,0.2l-0.5,0.2l-0.5,-0.0l-0.5,-0.2l-0.4,-0.2l-0.5,-0.2l-0.5,-0.0l-0.5,-0.0l-0.4,0.2l-0.3,0.4l-0.3,0.4l-0.2,0.5l-0.2,0.4l-0.3,0.4l-0.2,0.5l-0.2,0.5l0.0,0.5l0.2,0.4l0.5,0.2l0.4,-0.1l0.4,-0.4l0.2,-0.4l0.4,-0.4l0.4,-0.2l0.5,-0.2l0.5,0.0l0.4,0.3l0.4,0.3l0.2,0.5l0.1,0.4l-0.1,0.5l-0.2,0.5l-0.7,0.4l-0.5,-0.0l-0.4,-0.2"/></defs>
<use href="#c1" stroke="#2396a0" stroke-width="1.3"/>
<use href="#c1" stroke="#58ccd2" stroke-width="0.65"/>
<defs><path id="c2" d="M489.6,176.7l-0.3,0.4l-0.3,0.4l-0.2,0.4l-0.3,0.5l-0.3,0.3l-0.5,0.2l-0.5,0.1l-0.4,0.2l-0.4,0.4l-0.2,0.4l-0.1,0.5l-0.1,0.5l0.0,0.5l0.3,0.4l0.4,0.2l0.5,0.2l0.5,-0.0l0.5,-0.1l0.5,-0.1l0.5,-0.1l0.5,0.0l0.5,0.2l0.4,0.2l0.5,0.2l0.3,0.4l0.1,0.5l-0.1,0.5l-0.2,0.4l-0.3,0.4l-0.4,0.3l-0.5,0.2l-0.4,0.1l-0.5,0.0l-0.5,-0.1l-0.5,-0.1l-0.5,0.2l-0.3,0.3l-0.1,0.5l0.2,0.5l0.3,0.3l0.5,0.3l0.5,0.1l0.5,0.1l0.4,0.1l0.5,0.2l0.5,0.1l0.5,0.1l0.4,0.2l0.5,0.3l0.4,0.2l0.5,0.1l0.5,0.2l0.3,0.4l0.2,0.4l0.2,0.5l0.3,0.4l0.2,0.5l0.2,0.4l0.3,0.4l0.1,0.5l0.0,0.5l-0.1,0.5l-0.3,0.4l-0.5,0.0l-0.4,-0.2l-0.3,-0.4l-0.3,-0.4l-0.2,-0.5l-0.2,-0.4l-0.0,-0.5l0.2,-0.5l0.4,-0.2l0.5,-0.2l0.5,0.0l0.5,0.2l0.4,0.3l0.3,0.3l0.4,0.4l0.3,0.4l0.4,0.3l0.4,0.2l0.5,0.0l0.5,-0.2l0.3,-0.4l0.2,-0.4l0.1,-0.5l0.1,-0.5l0.1,-0.5l0.0,-0.5l0.2,-0.5l0.1,-0.4l0.1,-0.5l-0.2,-0.5l-0.2,-0.4l-0.3,-0.4l-0.4,-0.4l-0.3,-0.4l-0.4,-0.2l-0.4,-0.4l-0.4,-0.3l-0.3,-0.4l-0.5,-0.2l-0.5,-0.0l-0.5,0.0l-0.5,0.0l-0.5,0.1l-0.4,0.0l-0.5,0.3l-0.2,0.4l-0.2,0.5l-0.0,0.5l0.0,0.5l0.2,0.4l0.4,0.3l0.5,-0.0l0.4,-0.3l0.2,-0.5l-0.1,-0.4l-0.2,-0.5l-0.3,-0.4l-0.4,-0.4l-0.3,-0.4l-0.3,-0.3l-0.3,-0.4l-0.2,-0.5l-0.0,-0.5l0.1,-0.5l0.2,-0.4l0.4,-0.3l0.5,-0.2l0.4,-0.2l0.5,-0.2l0.4,-0.3l0.1,-0.5l-0.0,-0.5l-0.3,-0.4l-0.3,-0.4l-0.3,-0.4l-0.3,-0.4l-0.3,-0.4l-0.3,-0.3l-0.3,-0.4l-0.3,-0.5l-0.2,-0.4l-0.3,-0.4l-0.3,-0.4l-0.4,-0.4l-0.4,-0.2l-0.5,-0.2l-0.5,-0.0l-0.5,-0.1l-0.4,-0.1l-0.5,0.1l-0.4,0.3l-0.1,0.5l0.0,0.5l0.2,0.5l0.4,0.3 M477.8,188.5l-0.2,0.5l-0.2,0.4l-0.1,0.5l-0.2,0.5l-0.0,0.5l-0.1,0.5l-0.1,0.5l-0.2,0.4l-0.2,0.5l-0.2,0.4l-0.1,0.5l0.2,0.5l0.2,0.4l0.4,0.4l0.4,0.3l0.4,0.2l0.4,0.3l0.4,0.4l0.3,0.3l0.4,0.3l0.4,0.3l0.5,0.1l0.5,-0.2l0.4,-0.2l0.4,-0.2l0.4,-0.4l0.2,-0.5l0.1,-0.4l0.2,-0.5l0.3,-0.4l0.4,-0.3l0.3,-0.4l0.3,-0.4l0.2,-0.5l0.1,-0.5l0.1,-0.5l0.1,-0.5l-0.2,-0.4l-0.5,-0.3l-0.5,-0.0l-0.4,0.1l-0.5,0.3l-0.3,0.3l-0.1,0.5l0.1,0.5l0.2,0.4l0.1,0.5l0.3,0.4l0.4,0.3l0.5,0.1l0.5,-0.0l0.5,-0.0l0.5,0.2l0.4,0.2l0.4,0.3l0.4,0.3l0.3,0.4l0.2,0.5l0.2,0.4l0.3,0.5l0.3,0.3l0.4,0.4l0.3,0.4l0.3,0.4l0.4,0.2l0.5,0.1l0.5,-0.1l0.4,-0.2l0.4,-0.4l0.2,-0.4l0.3,-0.5l0.2,-0.4l0.3,-0.4l0.2,-0.5l0.1,-0.5l0.3,-0.4l0.3,-0.4l0.3,-0.4l0.2,-0.5l0.0,-0.5l-0.2,-0.4l-0.3,-0.4l-0.4,-0.3l-0.4,-0.3l-0.4,-0.2l-0.5,-0.0l-0.4,0.3l-0.4,0.3l-0.2,0.4l0.1,0.5l0.4,0.3l0.5,0.2l0.5,0.1l0.5,0.0l0.5,-0.0l0.4,-0.3l0.3,-0.4l0.1,-0.5l0.1,-0.5l0.1,-0.5l0.4,-0.4l0.4,-0.2l0.5,-0.1l0.5,-0.0l0.5,-0.0l0.5,-0.1l0.4,-0.2l0.5,-0.1l0.5,-0.2l0.5,-0.1l0.4,-0.1l0.5,-0.2l0.5,-0.1l0.5,-0.0l0.5,-0.0l0.5,-0.0l0.5,0.1l0.4,0.2l0.4,0.4l0.3,0.4l0.4,0.3l0.4,0.1l0.5,0.2l0.3,0.4l0.0,0.5l-0.2,0.4l-0.4,0.3l-0.4,0.3l-0.5,0.1l-0.4,-0.3l-0.2,-0.5l0.2,-0.4l0.4,-0.3l0.5,-0.1l0.5,-0.1l0.5,-0.1l0.4,-0.2l0.4,-0.4l0.3,-0.3l0.3,-0.5l0.1,-0.4l-0.1,-0.5l-0.1,-0.5l0.1,-0.5l0.3,-0.4l0.5,-0.1l0.5,-0.2l0.5,-0.1l0.4,-0.2l0.5,-0.1l0.5,-0.1l0.5,-0.0l0.5,-0.1l0.5,-0.1l0.4,-0.2l0.4,-0.3l0.2,-0.5l0.1,-0.5l-0.1,-0.5l-0.0,-0.5l0.2,-0.4l0.4,-0.4l0.4,-0.2l0.5,0.2l0.3,0.4l-0.1,0.5l-0.2,0.4l-0.4,0.4l-0.4,0.3l-0.4,0.3l-0.4,0.2l-0.5,0.2l-0.5,-0.0l-0.5,-0.0l-0.5,0.2l-0.3,0.3l-0.2,0.5l-0.2,0.4l-0.1,0.5l0.1,0.5l0.3,0.3l0.5,0.3l0.5,0.1l0.5,-0.0l0.4,-0.1l0.5,-0.1l0.4,-0.3l0.4,-0.4l0.4,-0.2l0.5,-0.2l0.5,-0.1l0.5,-0.1l0.5,-0.0l0.4,-0.3l0.4,-0.3l0.4,-0.3l0.5,-0.2l0.4,-0.2l0.4,-0.2l0.4,-0.4l0.3,-0.4l0.4,-0.3l0.4,-0.3l0.3,-0.4l0.4,-0.3l0.4,-0.3l0.5,0.0l0.5,0.2l0.4,0.2l0.4,0.4l0.2,0.4l0.3,0.4l0.4,0.3l0.5,0.1l0.5,-0.0l0.5,-0.3l0.4,-0.2l0.5,-0.1l0.5,0.1l0.4,0.3l0.3,0.4l0.1,0.5l-0.0,0.5l-0.2,0.4l-0.1,0.5l-0.1,0.5l-0.0,0.5l-0.1,0.5l-0.1,0.5l-0.1,0.5l0.1,0.5l0.2,0.4l0.3,0.4l0.4,0.3l0.5,0.2l0.3,0.4l0.1,0.5l-0.1,0.5l-0.1,0.5l-0.1,0.5l-0.3,0.4l-0.3,0.4l-0.3,0.4l-0.4,0.2l-0.5,0.1l-0.5,-0.3l-0.2,-0.4l-0.1,-0.5l-0.0,-0.5l-0.3,-0.5l-0.3,-0.3l-0.5,-0.2l-0.5,-0.1l-0.5,0.2l-0.3,0.3l-0.4,0.4l-0.3,0.4l-0.3,0.3l-0.4,0.4l-0.2,0.4l0.0,0.5l0.3,0.5l0.4,0.2l0.5,0.1l0.5,0.2l0.4,0.2l0.4,0.4l0.3,0.3l0.4,0.4l0.4,0.3l0.4,0.1l0.5,0.1l0.5,0.0l0.5,0.0l0.5,-0.0l0.5,-0.1l0.5,-0.1l0.5,-0.1l0.5,0.1l0.5,0.1l0.4,0.4l0.3,0.4l0.3,0.3l0.4,0.3l0.5,0.1l0.5,-0.1l0.5,-0.2l0.2,-0.4l0.0,-0.5l-0.1,-0.5l-0.1,-0.5l0.0,-0.5l-0.1,-0.5l-0.2,-0.4l-0.5,-0.2l-0.4,-0.1l-0.5,-0.0l-0.5,0.1l-0.4,0.2l-0.3,0.5l-0.2,0.4l0.1,0.5l0.2,0.5l0.4,0.3l0.3,0.4l0.3,0.4l0.2,0.5l0.1,0.4l0.2,0.5l0.2,0.5l0.1,0.5l0.1,0.5l0.1,0.4l0.2,0.5l0.2,0.5l0.0,0.5l-0.0,0.5l-0.3,0.4l-0.4,0.2l-0.5,0.1l-0.5,0.1l-0.5,-0.1l-0.5,0.0l-0.5,0.1l-0.4,0.3l-0.2,0.5l0.1,0.5l0.3,0.4l0.4,0.3l0.5,0.2l0.4,0.3l0.5,0.2l0.4,0.3l0.3,0.4l0.2,0.4l0.3,0.4l0.2,0.5l0.1,0.5l0.1,0.4l0.1,0.5l-0.1,0.5l-0.3,0.4l-0.5,0.2l-0.4,-0.1l-0.4,-0.3l-0.2,-0.4l-0.2,-0.5l-0.3,-0.4l-0.3,-0.4 M509.2,187.2l-0.1,0.5l0.0,0.5l0.0,0.5l-0.0,0.5l-0.2,0.5l-0.2,0.4l-0.2,0.5l-0.3,0.3l-0.5,0.2l-0.5,0.1l-0.5,0.0l-0.5,0.1l-0.4,0.3l-0.3,0.3l-0.1,0.5l0.0,0.5l0.4,0.4l0.4,0.2l0.5,0.0l0.5,0.2l0.5,-0.0l0.5,-0.1l0.4,-0.3l0.5,-0.2l0.5,-0.1l0.4,0.2l0.4,0.4l0.2,0.4l0.2,0.5l0.2,0.5l0.1,0.4l-0.1,0.5l0.0,0.5l0.1,0.5l-0.0,0.5l-0.1,0.5l-0.2,0.5l-0.3,0.3l-0.5,0.3l-0.3,0.3l-0.4,0.3l-0.3,0.4l-0.3,0.4l-0.4,0.3l-0.5,0.2l-0.5,-0.1l-0.5,-0.1l-0.4,-0.2l-0.5,-0.2l-0.4,-0.3l-0.5,-0.2l-0.4,-0.2l-0.5,-0.1l-0.5,-0.1l-0.5,-0.0l-0.5,-0.0l-0.5,0.1l-0.5,-0.0l-0.5,-0.1l-0.5,-0.0l-0.5,-0.0l-0.5,0.1l-0.4,0.1l-0.5,0.3l-0.3,0.3l-0.2,0.5l0.2,0.4l0.3,0.4l0.4,0.3l0.5,0.2l0.5,0.1l0.5,0.0l0.4,-0.3l0.1,-0.4l-0.2,-0.5l-0.5,-0.1l-0.5,-0.1l-0.5,-0.1l-0.4,-0.2l-0.4,-0.3l-0.3,-0.4l-0.2,-0.4l-0.3,-0.4l-0.4,-0.3l-0.5,-0.1l-0.5,0.1l-0.4,0.2l-0.5,0.2l-0.5,0.1l-0.4,0.2l-0.4,0.3l-0.3,0.4l-0.1,0.5l-0.0,0.5l0.0,0.5l-0.0,0.5l-0.1,0.5l0.0,0.5l0.0,0.5l0.1,0.5l0.2,0.5l0.0,0.5l-0.2,0.4l-0.4,0.3l-0.4,0.2l-0.5,0.1l-0.5,-0.1l-0.4,-0.3l-0.4,-0.3l-0.4,-0.4l-0.4,-0.2l-0.5,-0.1l-0.5,-0.1l-0.5,-0.1l-0.5,-0.2l-0.4,-0.0l-0.5,0.1l-0.5,0.2l-0.4,0.2l-0.4,0.4l-0.2,0.4l-0.1,0.5l-0.1,0.5l0.0,0.5l0.1,0.5l0.2,0.4l0.5,0.2l0.5,0.0l0.5,-0.0l0.5,0.1l0.4,0.2l0.1,0.5l-0.1,0.5l-0.1,0.5l-0.0,0.5l-0.1,0.5l-0.1,0.5l-0.2,0.4l-0.3,0.4l-0.1,0.5l-0.0,0.5l0.1,0.5l0.3,0.4l0.3,0.4l0.3,0.4l0.1,0.5l-0.0,0.5l-0.0,0.5l-0.0,0.5l-0.0,0.5l0.0,0.5l0.2,0.5l0.1,0.5l-0.1,0.5l-0.3,0.4l-0.4,0.3l-0.4,0.2l-0.5,0.1l-0.5,0.0l-0.5,-0.1l-0.4,-0.4l-0.2,-0.4l-0.1,-0.5l-0.1,-0.5l-0.2,-0.5l-0.3,-0.3l-0.5,-0.1l-0.5,0.1l-0.2,0.5l-0.1,0.5l0.2,0.4l0.3,0.4l0.4,0.3l0.4,0.2l0.4,0.3l0.4,0.4l0.1,0.5l-0.1,0.5l-0.3,0.3l-0.5,0.3l-0.4,0.1l-0.5,-0.1l-0.3,-0.4l0.0,-0.5l0.3,-0.4l0.3,-0.4l0.3,-0.3l0.5,-0.3l0.4,-0.1l0.5,-0.1l0.5,0.2l0.4,0.3l0.4,0.3l0.4,0.3l0.3,0.4l0.3,0.4l0.1,0.4l0.0,0.5l-0.1,0.5l-0.0,0.5l-0.2,0.5l-0.3,0.4l-0.4,0.3l-0.4,0.3l-0.3,0.4l-0.2,0.5l-0.2,0.4l-0.2,0.5l-0.1,0.5l-0.0,0.5l-0.0,0.5l-0.2,0.5l-0.2,0.4l-0.4,0.4l-0.4,0.2l-0.4,0.3l-0.2,0.5l-0.2,0.5l0.1,0.5l0.2,0.4l0.4,0.3l0.4,0.2l0.5,0.1l0.5,-0.0l0.5,-0.1l0.5,-0.1l0.5,0.1l0.4,0.3l0.4,0.4l0.3,0.3l0.1,0.5l-0.1,0.5l-0.2,0.4l-0.5,0.3l-0.5,0.0l-0.5,0.1l-0.5,0.1l-0.5,-0.0l-0.5,0.0l-0.4,0.2l-0.5,0.2l-0.4,0.3l-0.4,0.3l-0.4,0.2l-0.5,0.2l-0.4,0.3l-0.5,0.2l-0.4,0.2l-0.4,0.3l-0.3,0.4l-0.1,0.5l0.1,0.5l0.4,0.3l0.5,0.1l0.5,0.1l0.5,0.1l0.4,0.2l0.4,0.4l0.1,0.4l0.1,0.5l0.1,0.5l0.1,0.5l0.2,0.5l0.3,0.3l0.5,0.3l0.5,0.0l0.5,0.0l0.4,0.2l0.3,0.4l0.1,0.5l-0.2,0.4l-0.1,0.5l-0.1,0.5l-0.1,0.5l-0.1,0.5l-0.2,0.4l-0.2,0.5l-0.3,0.4l-0.4,0.3l-0.3,0.4l-0.3,0.4l-0.2,0.5l-0.2,0.4l-0.1,0.5l0.1,0.5l0.3,0.3l0.5,0.2l0.5,-0.2l0.3,-0.3l0.1,-0.5l0.0,-0.5l0.0,-0.5l0.1,-0.5l0.3,-0.4l0.4,-0.4l0.4,-0.2l0.4,-0.2l0.5,-0.2l0.5,-0.2l0.5,-0.0l0.5,0.0l0.5,0.2l0.3,0.3l0.2,0.4l0.1,0.5l-0.1,0.5l-0.3,0.5l-0.3,0.3l-0.4,0.3l-0.4,0.4l-0.2,0.4l-0.1,0.5l0.0,0.5l0.1,0.5l0.1,0.5l0.1,0.5l-0.0,0.5l-0.1,0.5l-0.0,0.5l0.1,0.5l0.1,0.5l0.3,0.4l0.3,0.4l0.4,0.3l0.3,0.4l0.4,0.3 M500.0,208.1l0.3,0.4l0.2,0.5l0.2,0.4l0.2,0.5l0.2,0.5l0.0,0.4l0.1,0.5l-0.1,0.5l-0.0,0.5l0.1,0.5l0.1,0.5l0.2,0.5l0.3,0.4l0.3,0.4l0.3,0.4l0.4,0.3l0.4,0.3l0.5,0.2l0.4,0.0l0.5,-0.1l0.4,-0.4l0.1,-0.5l-0.1,-0.5l-0.3,-0.3l-0.5,-0.2l-0.5,0.0l-0.4,0.4l-0.2,0.4l0.0,0.5l0.2,0.5l0.2,0.4l0.3,0.4l0.3,0.4l0.3,0.4l0.4,0.4l0.3,0.3l0.5,0.1l0.5,0.1l0.5,-0.0l0.5,-0.2l0.4,-0.3l0.4,-0.3l0.3,-0.4l0.2,-0.5l0.0,-0.5l0.1,-0.4l0.1,-0.5l0.2,-0.5l0.4,-0.3l0.4,-0.2l0.5,0.0l0.5,0.2l0.5,0.2l0.4,0.2l0.5,0.2l0.3,0.4l0.1,0.4l-0.2,0.5l-0.3,0.3l-0.4,0.3l-0.4,0.3l-0.5,0.3l-0.4,0.1l-0.5,-0.0l-0.4,-0.3l-0.2,-0.5l-0.3,-0.4l-0.3,-0.3l-0.4,-0.3l-0.4,-0.3l-0.5,-0.3l-0.3,-0.3l-0.3,-0.4l-0.2,-0.5l0.1,-0.5l0.0,-0.5l0.2,-0.5l0.1,-0.5l0.2,-0.4l0.4,-0.3l0.5,-0.2l0.5,0.1l0.5,0.1l0.4,0.2l0.5,0.2l0.5,0.1l0.4,-0.2l0.4,-0.3l0.4,-0.4l0.4,-0.3l0.3,-0.3l0.5,-0.2l0.5,-0.2l0.4,-0.3l0.3,-0.4l0.3,-0.3l0.4,-0.4l0.5,-0.1l0.5,-0.0l0.5,0.1l0.5,0.0l0.5,-0.0l0.4,-0.1l0.5,-0.1l0.5,0.0l0.5,-0.2l0.4,-0.2l0.3,-0.4l0.2,-0.5l0.0,-0.5l0.0,-0.5l0.1,-0.5l0.2,-0.4l0.2,-0.5l0.0,-0.5l-0.1,-0.5l-0.2,-0.4l-0.3,-0.4l-0.3,-0.4l-0.3,-0.4l-0.3,-0.4l-0.3,-0.4l-0.3,-0.4l-0.5,-0.2l-0.4,-0.0l-0.5,0.1l-0.4,0.4l-0.2,0.4l-0.1,0.5l0.1,0.5l0.2,0.4l0.4,0.3l0.4,0.3l0.5,0.2l0.5,-0.1l0.4,-0.2l0.4,-0.3l0.3,-0.3l0.4,-0.4l0.4,-0.3l0.2,-0.4l0.3,-0.5l0.2,-0.4l0.2,-0.5l0.0,-0.5l-0.2,-0.5l-0.3,-0.3l-0.5,-0.2l-0.4,-0.2l-0.5,-0.0l-0.5,-0.1l-0.5,-0.0l-0.5,0.0l-0.5,0.1l-0.5,-0.0l-0.5,-0.2l-0.5,-0.1l-0.5,-0.1l-0.5,-0.2l-0.4,-0.1l-0.5,-0.0l-0.5,-0.1l-0.5,0.1l-0.4,0.3l-0.1,0.5l-0.0,0.5l0.1,0.4l0.3,0.5l0.3,0.4l0.2,0.4l0.3,0.4l0.1,0.5l0.0,0.5l0.0,0.5l0.1,0.5l0.1,0.5l0.1,0.5l0.1,0.5l0.1,0.5l0.1,0.5l-0.1,0.5l-0.1,0.4l-0.4,0.4l-0.4,0.3l-0.4,0.2l-0.5,0.3l-0.4,0.2l-0.5,0.2l-0.4,0.2l-0.5,0.2l-0.4,0.3l-0.4,0.3l-0.4,0.3l-0.4,0.2l-0.5,-0.0l-0.5,-0.2l-0.5,-0.0l-0.5,-0.0l-0.5,-0.1l-0.5,-0.0l-0.5,-0.2l-0.4,-0.2l-0.5,-0.2l-0.3,-0.4l-0.1,-0.5l-0.2,-0.5l-0.2,-0.4l-0.2,-0.4l-0.4,-0.4l-0.5,-0.1l-0.5,0.1l-0.4,0.3l-0.4,0.2l-0.4,0.3l-0.4,0.3l-0.4,0.3l-0.2,0.5l-0.1,0.5 M571.1,226.7l0.3,0.4l0.3,0.4l0.4,0.3l0.2,0.5l-0.2,0.4l-0.2,0.5l-0.2,0.4l-0.2,0.5l-0.1,0.5l-0.1,0.5l-0.1,0.5l0.0,0.5l0.2,0.4l0.5,0.3l0.4,0.0l0.5,-0.1l0.5,-0.1l0.5,-0.3l0.4,-0.2l0.5,-0.1l0.5,0.2l0.4,0.3l0.1,0.5l-0.2,0.4l-0.2,0.5l-0.4,0.3l-0.5,0.1l-0.5,0.0l-0.5,0.1l-0.5,0.1l-0.4,0.3l-0.3,0.4l-0.1,0.5l0.2,0.5l0.3,0.3l0.5,0.3l0.5,0.1l0.5,0.1l0.5,-0.0l0.4,-0.1l0.5,-0.2l0.4,-0.3l0.4,-0.3l0.5,-0.2l0.4,-0.2l0.4,-0.3l0.5,-0.2l0.5,-0.1l0.5,-0.0l0.5,0.1l0.4,0.2l0.3,0.4l0.1,0.5l-0.1,0.5l-0.1,0.5l-0.1,0.5l-0.2,0.4l-0.2,0.5l-0.3,0.4l-0.2,0.5l-0.2,0.4l-0.0,0.5l0.2,0.4l0.4,0.3l0.5,0.2l0.4,0.2l0.5,0.1l0.5,0.1l0.5,0.1l0.4,0.3l0.3,0.4l0.1,0.5l0.1,0.5l0.2,0.4l0.2,0.5l0.4,0.3l0.4,0.3l0.4,0.2l0.5,0.1l0.5,-0.1l0.4,-0.3l0.1,-0.4l0.0,-0.5l-0.1,-0.5l-0.1,-0.5l0.1,-0.5l0.2,-0.5l0.3,-0.3l0.5,-0.1l0.5,0.1l0.4,0.3l0.3,0.4l0.1,0.5l-0.1,0.5l-0.1,0.5l-0.3,0.4l-0.4,0.3l-0.4,0.3l-0.4,0.3l-0.5,0.2l-0.4,0.2l-0.4,0.3l-0.3,0.4l-0.3,0.4l0.0,0.5l0.0,0.5l-0.0,0.5l-0.3,0.4l-0.2,0.5l0.0,0.5l0.1,0.5l0.1,0.5l0.0,0.5l0.1,0.5l0.0,0.5l0.2,0.4l0.3,0.4l0.4,0.2l0.5,0.0l0.5,0.1l0.5,-0.0l0.5,-0.0l0.5,-0.0l0.4,0.2l0.2,0.5l0.2,0.5l0.2,0.4l0.1,0.5l0.1,0.5l-0.1,0.5l-0.1,0.5l-0.2,0.4l-0.3,0.4l-0.4,0.3l-0.5,0.2l-0.4,0.2l-0.5,0.2l-0.4,0.2l-0.5,0.3l-0.4,0.2l-0.5,0.1l-0.5,0.1l-0.5,0.0l-0.4,0.2l-0.4,0.4l-0.2,0.4l0.0,0.5l0.1,0.5l0.1,0.5l0.3,0.5l0.2,0.4l0.4,0.3l0.4,0.3l0.5,-0.1l0.4,-0.3l0.1,-0.5l-0.2,-0.4l-0.4,-0.3l-0.5,-0.0l-0.5,0.2l-0.3,0.3l-0.4,0.4l-0.4,0.3l-0.4,0.3l-0.3,0.4l-0.3,0.4l-0.3,0.4l-0.3,0.3l-0.4,0.4l-0.4,0.3l-0.4,0.2l-0.5,0.2l-0.5,0.2l-0.5,0.0l-0.5,0.0l-0.4,0.2l-0.4,0.3l-0.4,0.3l-0.4,0.3l-0.5,0.2l-0.4,0.2l-0.5,0.1l-0.5,0.0l-0.5,0.1l-0.5,0.1l-0.5,-0.1l-0.5,-0.1l-0.5,-0.1l-0.4,-0.2l-0.5,-0.2l-0.2,-0.4l-0.1,-0.5l0.1,-0.5l0.2,-0.5l0.3,-0.4l0.1,-0.5l0.1,-0.5l0.1,-0.5l0.0,-0.5l0.3,-0.4l0.3,-0.4l0.4,-0.3l0.3,-0.4l0.4,-0.3l0.4,-0.3l0.5,-0.0l0.5,0.2l0.3,0.4l0.1,0.4l-0.3,0.5l-0.4,0.3l-0.4,0.3l-0.4,0.3l-0.4,0.2l-0.5,0.2l-0.4,0.3l-0.5,0.2l-0.4,0.2l-0.3,0.4l-0.3,0.4l-0.4,0.3l-0.5,0.1l-0.5,-0.1l-0.5,-0.2l-0.4,-0.4l-0.2,-0.4l-0.0,-0.5l-0.0,-0.5l-0.1,-0.5l-0.1,-0.5l-0.3,-0.4l-0.5,-0.2l-0.4,0.3l-0.3,0.3l-0.2,0.5l0.1,0.5l0.2,0.4l0.0,0.5l-0.2,0.5l-0.3,0.3l-0.5,0.2l-0.5,0.1l-0.4,0.2l-0.4,0.4l-0.2,0.4l-0.2,0.5l-0.2,0.5l0.1,0.5l0.1,0.4l0.2,0.5l0.3,0.4l0.2,0.4l0.1,0.5l0.2,0.5l0.1,0.5l-0.1,0.5l-0.3,0.4l-0.3,0.4l-0.4,0.4l-0.3,0.3l-0.4,0.3l-0.4,0.4l-0.3,0.3l-0.3,0.5l-0.2,0.4l-0.3,0.4l0.1,0.5l0.2,0.5l0.4,0.2l0.5,0.1l0.4,-0.1l0.4,-0.3l0.2,-0.5l-0.1,-0.5l-0.2,-0.4l-0.5,-0.2l-0.5,0.1l-0.3,0.3l-0.4,0.4l-0.3,0.4l-0.1,0.5l-0.1,0.5l-0.0,0.5l-0.0,0.5l0.0,0.5l0.2,0.5l0.0,0.4l-0.1,0.5l-0.2,0.5l-0.3,0.4l-0.2,0.5l-0.2,0.4l-0.3,0.4l-0.5,-0.1l-0.4,-0.3l-0.3,-0.4l-0.3,-0.4l-0.3,-0.4l-0.2,-0.5l-0.3,-0.4l-0.3,-0.4l-0.2,-0.4l-0.1,-0.5l0.2,-0.5l0.4,-0.3l0.4,-0.3l0.3,-0.4l0.3,-0.4l0.4,-0.3l0.4,-0.3l0.4,-0.2l0.5,0.2l0.5,0.2l0.4,0.2l0.4,0.3l0.3,0.4l0.2,0.4l0.0,0.5l-0.1,0.5l0.1,0.5l0.3,0.4l0.3,0.4l0.3,0.4l0.3,0.4l0.2,0.4l0.0,0.5l0.0,0.5l0.0,0.5l-0.0,0.5l-0.0,0.5l0.1,0.5l0.4,0.3l0.5,-0.0 M566.7,243.0l0.2,0.4l0.3,0.5l0.2,0.4l0.1,0.5l0.1,0.5l-0.0,0.5l0.0,0.5l0.2,0.5l0.3,0.4l0.3,0.3l0.5,0.3l0.4,0.2l0.4,0.3l0.4,0.2l0.5,0.1l0.5,-0.0l0.4,-0.3l0.2,-0.5l0.0,-0.5l0.1,-0.5l0.2,-0.4l0.4,-0.3l0.5,-0.0l0.5,0.2l0.3,0.4l0.0,0.5l-0.2,0.4l-0.5,0.2l-0.5,0.0l-0.4,-0.3l-0.1,-0.4l-0.0,-0.5l0.0,-0.5l0.1,-0.5l0.1,-0.5l0.0,-0.5l0.2,-0.5l0.4,-0.3l0.4,-0.2l0.5,-0.0l0.5,0.1l0.4,0.3l0.2,0.5l0.3,0.4l0.4,0.3l0.5,0.1l0.5,0.0l0.5,-0.2l0.4,-0.2l0.4,-0.3l0.2,-0.5l-0.1,-0.4l-0.1,-0.5l-0.1,-0.5l-0.2,-0.5l-0.2,-0.4l-0.3,-0.4l-0.4,-0.3l-0.5,-0.2l-0.5,-0.2l-0.4,-0.1l-0.5,-0.2l-0.4,-0.4l-0.2,-0.4l-0.1,-0.5l-0.2,-0.5l-0.3,-0.3l-0.5,-0.1l-0.4,0.2l-0.5,0.3l-0.3,0.3l-0.5,0.3l-0.3,0.3l-0.3,0.4l-0.3,0.4l-0.3,0.4l-0.3,0.4l-0.5,0.2l-0.5,0.0l-0.5,-0.1l-0.4,-0.2l-0.4,-0.3l-0.4,-0.3l-0.5,-0.1l-0.5,0.1l-0.7,0.4l-0.2,0.4l-0.1,0.5l-0.1,0.5l0.1,0.5l0.2,0.5l0.3,0.3l0.4,0.3 M520.0,188.3l0.3,0.4l0.3,0.4l0.5,0.1l0.5,-0.0l0.5,-0.1l0.5,-0.1l0.5,-0.0l0.5,-0.1l0.4,-0.1l0.5,-0.2l0.5,-0.1l0.4,-0.3l0.4,-0.3l0.5,-0.1l0.5,0.2l0.4,0.3l0.2,0.4l0.2,0.5l-0.0,0.5l-0.1,0.5l-0.1,0.5l-0.3,0.4l-0.3,0.4l-0.3,0.4l-0.5,0.2l-0.4,0.3l-0.4,0.3l-0.3,0.4l-0.3,0.4l-0.2,0.5l-0.2,0.4l-0.2,0.5l-0.2,0.4l-0.2,0.5l-0.3,0.4l-0.4,0.2l-0.5,0.1l-0.5,-0.2l-0.4,-0.3l-0.2,-0.5l-0.0,-0.5l0.3,-0.4l0.5,-0.0l0.4,0.2l0.2,0.5l0.2,0.4l0.2,0.5l0.2,0.4l0.2,0.5l0.4,0.3l0.4,0.3l0.5,-0.0l0.4,-0.3l0.3,-0.4l0.3,-0.4l0.3,-0.4l0.3,-0.4l0.5,-0.2l0.5,-0.1l0.5,0.1l0.4,0.2l0.4,0.3l0.3,0.4l-0.0,0.5l-0.2,0.5l-0.2,0.4l-0.5,0.3l-0.4,0.2l-0.3,0.4l-0.3,0.4l-0.1,0.5l0.1,0.5l0.2,0.4l0.2,0.5l0.4,0.3l0.5,0.2l0.5,0.1l0.5,-0.1l0.4,-0.2l0.4,-0.2l0.5,-0.3l0.4,-0.2l0.5,-0.1l0.5,0.1l0.4,0.2l0.3,0.4l0.1,0.5l-0.2,0.5l-0.1,0.5l0.1,0.5l0.3,0.4l0.4,0.2l0.5,0.1l0.5,-0.2l0.4,-0.3l0.4,-0.3l0.5,-0.0l0.5,0.0l0.4,0.2l0.5,0.2l0.5,0.1l0.4,-0.2l0.4,-0.3l0.4,-0.3l0.3,-0.4l0.3,-0.4l0.4,-0.4l0.3,-0.4l0.1,-0.4l0.1,-0.5l0.2,-0.5l0.4,-0.3l0.4,-0.2l0.5,0.1l0.5,0.2l0.4,0.2l0.5,0.2l0.5,0.1l0.5,0.0l0.5,0.1l0.5,0.1l0.4,0.2l0.4,0.3l0.4,0.3l0.5,0.2l0.4,0.2l0.4,0.3l0.4,0.3l0.2,0.5l-0.0,0.4l-0.4,0.4l-0.4,0.3l-0.5,0.2l-0.5,-0.0l-0.4,-0.1l-0.5,-0.3l-0.3,-0.3l-0.3,-0.5l-0.1,-0.4l0.1,-0.5l0.4,-0.3l0.5,-0.1l0.5,0.2l0.3,0.4l0.2,0.5l0.3,0.4l0.4,0.2l0.5,0.1l0.5,-0.0l0.5,0.0l0.5,0.1l0.4,0.2l0.5,0.3l0.3,0.4l0.2,0.4l0.1,0.5l0.2,0.5l0.1,0.5l-0.0,0.5l-0.1,0.5l-0.2,0.4l-0.4,0.3l-0.4,0.2l-0.5,0.2l-0.4,0.3l-0.4,0.3l-0.4,0.3l-0.3,0.4l-0.4,0.4l-0.4,0.2l-0.5,-0.1l-0.4,-0.3l-0.4,-0.3l-0.5,-0.2l-0.4,-0.1l-0.5,0.1l-0.5,0.2l-0.5,0.1l-0.5,0.1l-0.5,0.1l-0.4,0.2l-0.5,0.2l-0.5,0.2l-0.4,0.3l-0.3,0.3l-0.3,0.5l-0.2,0.4l-0.2,0.5l-0.2,0.4l-0.0,0.5l-0.0,0.5l0.1,0.5l0.3,0.4l0.4,0.3l0.5,0.0l0.5,-0.1l0.4,-0.3l0.4,-0.3l0.2,-0.4l0.2,-0.5l-0.1,-0.5l-0.1,-0.5l-0.1,-0.5l-0.2,-0.4l-0.4,-0.3l-0.5,-0.0l-0.4,0.3l-0.3,0.4l-0.3,0.4l-0.1,0.5l-0.2,0.5l0.0,0.5l-0.0,0.5l-0.0,0.5l0.0,0.4l0.2,0.5l0.3,0.4l0.4,0.3l0.5,0.1l0.5,-0.1l0.4,-0.2l0.5,-0.2l0.4,-0.4l0.4,-0.3l0.4,-0.1l0.5,-0.0l0.5,0.2l0.3,0.4l0.2,0.4l0.1,0.5l-0.1,0.5l-0.4,0.3l-0.5,0.2l-0.5,-0.0l-0.5,-0.1l-0.5,-0.0l-0.5,0.1l-0.3,0.3l-0.2,0.5l0.2,0.4l0.3,0.4l0.5,0.0l0.5,-0.1l0.5,-0.2l0.4,-0.3l0.4,-0.3l0.4,-0.2l0.5,-0.2l0.4,-0.2l0.4,-0.4l0.3,-0.3l0.4,-0.3l0.5,-0.1l0.5,-0.0l0.5,0.1l0.5,0.2l0.3,0.4l0.4,0.3l0.4,0.3l0.3,0.4l0.3,0.4l0.3,0.4l0.2,0.5l0.1,0.5l0.1,0.5l-0.2,0.4l-0.2,0.5l-0.3,0.4l-0.1,0.5l-0.1,0.4l-0.1,0.5l0.1,0.5l0.3,0.5l0.2,0.4l0.4,0.4l0.3,0.3l0.5,0.3l0.4,0.2l0.4,0.3l0.4,0.3l0.4,0.3l0.5,0.2l0.4,-0.2l0.5,-0.2l0.3,-0.4l0.5,-0.2l0.5,-0.0l0.5,-0.0l0.4,0.2l0.4,0.3l0.4,0.3l0.5,0.2l0.3,0.4l0.2,0.4l0.1,0.5l0.1,0.5l-0.0,0.5l-0.2,0.5l-0.1,0.5l-0.4,0.4l-0.2,0.4l-0.3,0.4l-0.3,0.3l-0.5,0.2l-0.5,-0.2l-0.3,-0.4l-0.0,-0.5l0.1,-0.4l0.3,-0.4l0.4,-0.3l0.5,-0.2l0.5,-0.0l0.5,-0.0l0.5,0.1l0.5,0.1l0.5,0.1l0.5,0.1l0.5,-0.0l0.4,-0.2l0.4,-0.3l0.3,-0.4l0.3,-0.4l0.3,-0.4l0.4,-0.2l0.5,-0.3l0.4,-0.2l0.5,-0.0l0.5,0.2l0.1,0.5l-0.0,0.4l-0.3,0.4l-0.5,0.2l-0.5,0.1l-0.4,-0.1l-0.5,-0.3l-0.3,-0.3l-0.3,-0.4l-0.2,-0.5l-0.2,-0.5l-0.1,-0.5l-0.0,-0.5l-0.2,-0.4l-0.2,-0.5l-0.3,-0.4l-0.2,-0.5l-0.1,-0.4l-0.2,-0.5l-0.2,-0.4l-0.4,-0.4l-0.3,-0.3l-0.5,-0.2l-0.5,-0.1l-0.5,-0.1l-0.5,-0.1l-0.4,-0.2l-0.5,-0.1l-0.5,-0.1l-0.5,-0.1l-0.5,-0.1l-0.5,-0.0l-0.4,0.2l-0.3,0.4l-0.2,0.5l0.0,0.5l0.3,0.4l0.5,0.2l0.5,0.1l0.4,-0.1l0.5,-0.1l0.5,-0.1l0.5,-0.2l0.4,-0.3l0.4,-0.3l0.4,-0.3l0.4,-0.3l0.2,-0.4l-0.1,-0.5l-0.3,-0.4l-0.4,-0.3l-0.5,-0.2l-0.5,-0.2l-0.4,-0.2l-0.5,-0.1l-0.5,-0.0l-0.5,-0.1l-0.5,-0.2l-0.3,-0.3l-0.2,-0.5l0.1,-0.5l0.1,-0.5l0.0,-0.5l0.0,-0.5l-0.0,-0.5l-0.0,-0.5l0.0,-0.5l0.1,-0.5l0.2,-0.4l0.4,-0.2l0.5,0.0l0.5,0.2l0.4,0.2l0.5,0.1l0.5,0.1l0.5,0.2l0.4,0.2l0.5,0.2l0.5,0.1l0.5,0.1l0.4,-0.1l0.4,-0.3l0.3,-0.4l0.4,-0.4l0.4,-0.3l0.3,-0.4l0.1,-0.5l-0.3,-0.4l-0.3,-0.4l-0.3,-0.3l-0.3,-0.5l-0.3,-0.4l-0.4,-0.3l-0.5,-0.1l-0.5,0.0l-0.5,0.2l-0.4,0.1l-0.5,0.1l-0.5,0.2l-0.5,0.0l-0.5,-0.0l-0.5,-0.1l-0.4,-0.3l-0.4,-0.3l-0.4,-0.3l-0.4,-0.3l-0.4,-0.3l-0.3,-0.4l-0.4,-0.3l-0.3,-0.4l-0.4,-0.3l-0.3,-0.5l-0.1,-0.4l-0.1,-0.5l-0.1,-0.5l-0.1,-0.5l0.2,-0.4l0.4,-0.4l0.5,-0.1l0.5,-0.1l0.4,-0.2l0.5,-0.1l0.5,-0.2l0.5,-0.1l0.4,-0.2l0.3,-0.4l0.1,-0.5l-0.1,-0.5l-0.1,-0.5l0.1,-0.5l0.2,-0.4l0.3,-0.4l0.1,-0.5l0.1,-0.5l0.1,-0.5l0.0,-0.5l-0.1,-0.5l-0.3,-0.4l-0.4,-0.3l-0.4,-0.2l-0.5,-0.2l-0.5,-0.1l-0.4,-0.2l-0.3,-0.4l0.1,-0.5l0.1,-0.5l0.1,-0.5l0.1,-0.5l0.2,-0.4l0.4,-0.3l0.5,-0.1l0.5,0.0l0.5,0.1l0.5,0.1l0.5,0.1l0.5,0.2l0.4,0.3l0.5,0.2l0.4,0.1l0.5,-0.0l0.5,-0.0l0.5,-0.2l0.4,-0.3l0.2,-0.5l0.0,-0.5l-0.1,-0.4l-0.3,-0.5l-0.3,-0.4l-0.3,-0.4l-0.2,-0.4l-0.1,-0.5l0.1,-0.5l0.2,-0.4l0.5,-0.3l0.4,-0.2l0.4,-0.3l0.5,-0.1l0.5,0.0l0.5,0.2l0.4,0.2l0.4,0.3l0.2,0.5l0.2,0.5l0.2,0.4l0.3,0.4l0.5,0.2l0.4,0.2l0.5,-0.0l0.5,0.0l0.5,0.1l0.5,0.2l0.4,0.3l0.3,0.4l0.3,0.4l0.1,0.5l-0.0,0.5l-0.2,0.4l-0.3,0.4l-0.5,0.1l-0.5,-0.1l-0.5,-0.0l-0.5,0.1l-0.4,0.3l-0.4,0.2l-0.3,0.4l-0.1,0.5l0.1,0.5l0.4,0.3l0.5,-0.0l0.5,-0.2l0.5,-0.2l0.5,-0.1l0.4,-0.1l0.4,-0.4l0.4,-0.3l0.4,-0.2l0.5,-0.2l0.5,-0.0l0.5,0.0l0.5,0.1l0.5,0.0l0.5,0.1l0.4,0.2l0.5,0.3l0.3,0.3l0.3,0.4l0.4,0.4l0.3,0.3l0.3,0.4l0.3,0.4l0.3,0.4l0.3,0.5l0.2,0.4l0.3,0.4l0.3,0.4l0.3,0.4l0.2,0.4l0.3,0.4l0.4,0.3l0.5,0.0l0.4,-0.2l0.3,-0.4l0.1,-0.5l-0.0,-0.5l-0.3,-0.4l-0.4,-0.3l-0.2,-0.5l-0.2,-0.4l0.1,-0.5l0.3,-0.4l0.4,-0.3l0.5,-0.1l0.5,0.2l0.4,0.2l0.4,0.3l0.5,0.2l0.4,0.2l0.5,0.3l0.4,0.3l0.2,0.4l0.2,0.5l0.1,0.4l-0.0,0.5l-0.2,0.5l-0.1,0.5l0.1,0.5l0.4,0.2l0.5,-0.0l0.4,-0.3l0.2,-0.4l0.1,-0.5l-0.1,-0.5l-0.3,-0.4l-0.4,-0.3l-0.5,-0.1l-0.5,0.0l-0.5,0.1l-0.4,0.4l-0.2,0.4l-0.0,0.5l-0.2,0.5l-0.2,0.5l-0.3,0.4l-0.3,0.3l-0.3,0.5l-0.1,0.4l0.0,0.5l-0.1,0.5l-0.2,0.5l-0.2,0.4l-0.3,0.4l-0.4,0.3l-0.5,0.0l-0.5,-0.1l-0.5,-0.1l-0.4,-0.3l-0.5,-0.2l-0.5,-0.1l-0.5,0.1l-0.5,0.0l-0.5,-0.0l-0.5,-0.1l-0.3,-0.3l-0.4,-0.4l-0.2,-0.4l-0.2,-0.5l0.0,-0.5l0.0,-0.5l0.1,-0.5l0.1,-0.5l0.1,-0.5l0.3,-0.4l0.2,-0.4l0.2,-0.5l0.2,-0.5l0.3,-0.3l0.4,-0.4l0.3,-0.4l-0.0,-0.5l-0.3,-0.4l-0.4,-0.2l-0.5,-0.2l-0.5,0.2l-0.4,0.2l-0.4,0.4l-0.4,0.3l-0.3,0.3l-0.3,0.5l-0.1,0.4l-0.1,0.5l-0.1,0.5l-0.1,0.5l-0.2,0.5l-0.1,0.5l-0.0,0.5l0.2,0.4l0.4,0.3l0.4,0.2l0.5,0.3l0.3,0.4l0.2,0.4l0.2,0.5l0.1,0.5l0.2,0.4l0.1,0.5l-0.0,0.5l-0.2,0.5l-0.2,0.4l-0.2,0.5l-0.4,0.3l-0.4,0.3l-0.4,0.3l-0.5,0.1l-0.5,0.2l-0.4,0.3l-0.3,0.4l-0.1,0.5l0.0,0.5l0.2,0.4l0.3,0.4l0.4,0.3l0.5,0.2l0.5,0.0l0.5,0.0l0.4,0.2l0.3,0.5l0.0,0.5l-0.0,0.5l-0.1,0.4l-0.3,0.4l-0.4,0.3l-0.4,0.3l-0.4,0.4l-0.1,0.4l0.1,0.5l0.4,0.4l0.4,0.1l0.5,-0.1l0.4,-0.2l0.4,-0.4l-0.1,-0.5l-0.2,-0.4l-0.5,-0.2l-0.5,-0.0l-0.4,0.1l-0.5,0.2l-0.4,0.3l-0.2,0.4l-0.2,0.5l0.1,0.5l0.1,0.5l0.3,0.4l0.4,0.3l0.5,-0.0l0.5,-0.2l0.3,-0.4l0.1,-0.5l-0.1,-0.5l-0.0,-0.5l0.0,-0.4l0.2,-0.5l0.4,-0.4l0.4,-0.1l0.5,0.1l0.5,0.2l0.3,0.4l0.4,0.3l0.4,0.3l0.4,0.3l0.5,0.1l0.5,0.1l0.5,-0.1l0.4,-0.2l0.4,-0.3l0.3,-0.4l0.3,-0.4l0.3,-0.4l0.3,-0.4l0.5,-0.2l0.5,-0.0l0.4,0.2l0.5,0.1l0.5,0.1l0.5,0.0l0.5,-0.0l0.5,-0.2l0.4,0.1l0.5,0.3l0.4,0.2l0.4,0.3l0.4,0.3l0.3,0.5l0.1,0.4l-0.2,0.5l-0.3,0.4l-0.5,0.2l-0.5,0.0l-0.4,-0.1l-0.5,-0.3l-0.3,-0.3l-0.3,-0.5l-0.3,-0.3l-0.4,-0.2l-0.5,0.0l-0.5,0.3l-0.2,0.4l-0.0,0.5l0.0,0.5l0.1,0.5l0.1,0.5l-0.1,0.5l-0.0,0.5l0.2,0.5l0.2,0.4l0.2,0.5l0.2,0.4l0.1,0.5l-0.1,0.5l-0.2,0.5l0.1,0.5l0.2,0.4l0.1,0.5l0.3,0.5l0.2,0.4l0.2,0.5l-0.0,0.5l-0.1,0.5l-0.1,0.5l0.1,0.5l0.1,0.4l0.2,0.5l0.4,0.3l0.5,0.1l0.5,0.1l0.5,0.1l0.5,0.1l0.4,0.1l0.5,-0.0l0.5,-0.3l0.2,-0.4l0.0,-0.5l-0.2,-0.4l-0.3,-0.4l-0.5,-0.2l-0.4,-0.2l-0.5,0.0l-0.5,0.2l-0.3,0.4l-0.1,0.5l0.1,0.4l0.2,0.5l0.4,0.4 M572.2,222.2l-0.3,0.4l-0.4,0.4l-0.2,0.4l-0.4,0.3l-0.3,0.4l-0.4,0.3l-0.4,0.2l-0.5,-0.1l-0.4,-0.3l-0.4,-0.3l-0.4,-0.3l-0.5,-0.2l-0.5,0.1l-0.4,0.2l-0.3,0.4l-0.3,0.4l-0.0,0.5l0.1,0.5l0.2,0.5l0.1,0.5l0.1,0.4l0.2,0.5l0.1,0.5l0.1,0.5l0.1,0.5l0.4,0.3l0.4,0.3l0.5,0.2l0.4,0.0l0.5,0.0l0.5,-0.0l0.5,-0.2l0.5,-0.2l0.4,-0.2l0.4,-0.3l0.4,-0.3l0.5,-0.1l0.5,0.2l0.4,0.3l0.2,0.5l0.1,0.5l0.2,0.4l0.3,0.4l0.3,0.4l0.4,0.3l0.3,0.4l0.2,0.5l0.1,0.5l0.0,0.5l-0.0,0.5l-0.3,0.4l-0.3,0.3l-0.4,0.3l-0.5,0.3l-0.4,0.1l-0.5,0.1l-0.5,0.1l-0.5,0.2l-0.4,0.2l-0.4,0.3l-0.3,0.5l-0.2,0.4l-0.1,0.5l0.3,0.4l0.3,0.3l0.5,0.2l0.5,0.1l0.5,-0.0l0.5,-0.0l0.5,-0.1l0.5,-0.2l0.4,-0.3l0.3,-0.3l0.4,-0.4l0.2,-0.5l0.3,-0.4l0.4,-0.2l0.5,0.1l0.5,0.2l0.5,0.1l0.4,0.2l0.4,0.3l0.3,0.4l0.1,0.5l-0.0,0.5l-0.4,0.4l-0.4,0.2l-0.5,0.2l-0.4,0.2l-0.5,0.2l-0.4,0.2l-0.5,0.2l-0.5,0.2l-0.4,0.1l-0.5,0.0l-0.5,-0.1l-0.5,-0.0l-0.5,-0.1l-0.5,-0.1l-0.5,-0.1l-0.5,0.0l-0.5,0.2l-0.4,0.2l-0.3,0.4l-0.2,0.5l0.0,0.5l-0.0,0.5l-0.2,0.5l-0.3,0.3l-0.5,0.2l-0.5,0.2l-0.4,0.1l-0.5,0.1l-0.5,-0.1l-0.5,-0.2l-0.3,-0.4l-0.3,-0.4l-0.3,-0.4l-0.1,-0.5l-0.1,-0.5l-0.1,-0.5l-0.1,-0.4l-0.1,-0.5l-0.1,-0.5l-0.1,-0.5l-0.1,-0.5l-0.1,-0.5l-0.1,-0.5l0.1,-0.5l0.3,-0.4l0.4,-0.3l0.4,-0.2l0.5,-0.2l0.5,-0.1l0.5,0.0l0.5,0.0l0.5,0.1l0.5,0.1l0.5,-0.0l0.5,-0.2l0.4,-0.2l0.5,-0.1l0.5,0.1l0.4,0.2l0.5,0.2l0.4,0.3l0.3,0.4l0.3,0.4l0.2,0.5l0.0,0.4l-0.2,0.5l-0.3,0.3l-0.5,0.3l-0.5,0.1l-0.5,0.0l-0.5,0.0l-0.5,0.2l-0.4,0.2l-0.4,0.3l-0.2,0.4l0.1,0.5l0.3,0.4l0.4,0.3l0.5,0.0l0.5,0.1l0.4,0.3l0.3,0.5l-0.0,0.5l-0.0,0.5l0.0,0.5l0.3,0.4l0.4,0.3l0.4,0.2l0.5,0.2l0.5,0.1l0.5,0.1l0.4,0.1l0.5,0.1l0.4,0.3l0.3,0.4l0.1,0.5l0.1,0.5l-0.0,0.5l-0.2,0.5l-0.1,0.4l-0.1,0.5l-0.1,0.5l-0.1,0.5l-0.1,0.5l-0.0,0.5l0.1,0.4l0.3,0.5l0.4,0.3l0.5,0.1l0.6,-0.3l0.3,-0.5l0.0,-0.5l-0.1,-0.5l-0.3,-0.4l-0.4,-0.3 M530.4,201.3l-0.3,0.4l-0.4,0.3l-0.3,0.4l-0.1,0.5l0.0,0.5l0.2,0.5l0.2,0.4l0.2,0.5l0.3,0.4l0.2,0.5l0.0,0.4l-0.0,0.5l-0.2,0.5l-0.1,0.5l-0.2,0.4l-0.3,0.5l-0.2,0.4l-0.1,0.5l-0.0,0.5l-0.2,0.5l-0.3,0.4l-0.4,0.3l-0.4,0.3l-0.4,0.3l-0.4,0.3l-0.4,0.3l-0.5,-0.0l-0.4,-0.3l-0.3,-0.4l0.0,-0.5l0.4,-0.4l0.6,-0.4"/></defs>
<use href="#c2" stroke="#1a1a78" stroke-width="1.3"/>
<use href="#c2" stroke="#3838b8" stroke-width="0.65"/>
<defs><path id="c3" d="M440.4,323.3l0.5,-0.1l0.5,-0.1l0.5,-0.1l0.4,-0.2l0.5,-0.0l0.5,0.1l0.5,0.2l0.4,0.3l0.3,0.4l0.4,0.3l0.4,0.2l0.5,0.0l0.5,-0.0l0.5,-0.2l0.5,-0.2l0.4,-0.2l0.5,-0.2l0.5,-0.1l0.4,-0.1l0.5,-0.2l0.4,-0.2l0.4,-0.4l0.2,-0.5l0.2,-0.4l0.2,-0.5l0.2,-0.5l0.0,-0.5l-0.0,-0.4l-0.2,-0.5l-0.1,-0.5l-0.2,-0.4l-0.4,-0.4l-0.5,-0.1l-0.4,0.1l-0.3,0.4l-0.1,0.5l0.0,0.5l0.2,0.5l0.2,0.5l0.3,0.4l0.4,0.2l0.5,0.0l0.5,-0.1l0.5,-0.2l0.4,-0.3l0.4,-0.3l0.4,-0.3l0.3,-0.3l0.3,-0.4l0.5,-0.3l0.5,-0.1l0.5,0.1l0.5,-0.0l0.4,0.1l0.5,0.2l0.4,0.2l0.5,0.1l0.5,0.1l0.5,-0.1l0.4,-0.3l0.3,-0.4l0.2,-0.5l0.2,-0.4l0.3,-0.4l0.4,-0.4l0.4,-0.2l0.5,0.0l0.4,0.2l0.3,0.4l0.2,0.5l0.0,0.5l-0.1,0.5l-0.1,0.5l0.1,0.5l0.2,0.4l0.2,0.5l0.3,0.4l0.3,0.4l0.4,0.2l0.5,0.2l0.5,0.1l0.5,-0.1l0.5,-0.1l0.4,-0.3l0.2,-0.4l0.3,-0.4l0.2,-0.5l0.2,-0.4l0.2,-0.5l0.1,-0.5l0.3,-0.4l0.4,-0.3l0.4,-0.2l0.5,-0.3l0.4,-0.2l0.4,-0.4l0.4,-0.3l0.3,-0.3l0.4,-0.3l0.5,-0.3l0.4,-0.2l0.5,-0.0l0.5,-0.1l0.5,-0.1l0.5,-0.2l0.4,-0.2l0.5,-0.1l0.5,0.0l0.5,0.1l0.3,0.4l0.0,0.5l-0.2,0.4l-0.3,0.4l-0.3,0.4l-0.4,0.3l-0.5,0.1l-0.5,-0.1l-0.4,-0.2l-0.3,-0.4l0.0,-0.5l0.4,-0.3l0.5,0.1l0.4,0.3l0.2,0.5l0.1,0.5l0.1,0.5l0.2,0.4l0.2,0.5l0.1,0.5l0.2,0.4l0.3,0.4l0.4,0.3l0.5,0.2l0.4,-0.2l0.5,-0.3l0.4,-0.2l0.4,-0.2l0.3,-0.4l-0.2,-0.5l-0.4,-0.3l-0.5,-0.1l-0.4,-0.2l-0.5,-0.2l-0.4,-0.3l-0.2,-0.4l-0.1,-0.5l0.3,-0.4l0.3,-0.4l0.5,-0.2l0.5,-0.1l0.4,-0.2l0.5,-0.3l0.4,-0.1l0.5,-0.0l0.5,0.1l0.5,0.2l0.5,0.0l0.5,-0.1l0.5,-0.2l0.4,-0.3l0.3,-0.3l0.4,-0.3l0.4,-0.3l0.5,-0.2l0.5,-0.1l0.5,0.1l0.5,0.0l0.6,-0.3l0.1,-0.5l-0.1,-0.5l-0.2,-0.5l-0.4,-0.3l-0.4,-0.2 M440.4,323.3l0.2,0.5l0.1,0.4l0.2,0.5l0.3,0.4l0.3,0.4l0.3,0.4l0.4,0.4l0.2,0.4l0.1,0.5l0.2,0.5l-0.0,0.5l-0.1,0.5l-0.0,0.5l-0.1,0.5l-0.1,0.4l-0.2,0.5l-0.3,0.4l-0.1,0.5l0.0,0.5l0.4,0.3l0.5,0.2l0.5,0.1l0.4,0.1l0.5,0.1l0.5,0.2l0.5,0.1l0.5,0.1l0.5,0.0l0.4,0.2l0.5,0.2l0.3,0.4l0.3,0.4l0.4,0.3l0.3,0.4l0.4,0.3l0.5,0.0l0.5,-0.2l0.3,-0.3l0.3,-0.4l0.2,-0.5l0.2,-0.5l0.1,-0.4l0.1,-0.5l-0.2,-0.5l-0.4,-0.3l-0.5,0.0l-0.3,0.4l-0.0,0.5l0.1,0.5l0.2,0.4l0.4,0.3l0.4,0.3l0.5,0.2l0.3,0.4l0.3,0.4l0.1,0.5l-0.0,0.5l-0.1,0.5l-0.1,0.4l-0.3,0.5l-0.4,0.3l-0.5,0.1l-0.4,-0.2l-0.5,-0.2l-0.1,-0.5l0.1,-0.5l0.3,-0.4l0.3,-0.4l0.3,-0.4l0.4,-0.4l0.4,-0.2l0.4,-0.2l0.5,-0.3l0.5,-0.1l0.5,-0.1l0.5,0.0l0.4,0.1l0.5,-0.0l0.5,-0.1l0.5,-0.0l0.5,-0.1l0.5,-0.3l0.4,-0.2l0.4,-0.3l0.5,-0.1l0.5,-0.0l0.5,0.1l0.5,0.2l0.4,0.2l0.3,0.4l0.3,0.4l0.2,0.5l0.1,0.5l-0.0,0.5l-0.1,0.4l-0.0,0.5l-0.1,0.5l-0.1,0.5l-0.3,0.5l-0.1,0.4l-0.1,0.5l0.0,0.5l0.3,0.5l0.4,0.2l0.5,-0.1l0.4,-0.3l0.4,-0.2l0.5,-0.3l0.4,-0.3l0.4,-0.2l0.5,-0.2l0.4,-0.2l0.5,-0.3l0.3,-0.4l0.2,-0.4l0.2,-0.5l0.2,-0.4l0.2,-0.5l0.2,-0.4l0.3,-0.4l0.4,-0.4l0.3,-0.4l0.2,-0.4l0.2,-0.5l0.2,-0.5l0.2,-0.4l0.3,-0.4l0.5,-0.1l0.5,0.0l0.5,0.2l0.3,0.4l0.3,0.4l0.3,0.4l0.3,0.3l0.4,0.4l0.3,0.3l0.4,0.3l0.5,0.3l0.4,0.3l0.4,0.2l0.4,0.3l0.5,0.3l0.4,0.2l0.5,0.2l0.4,0.2l0.5,0.2l0.4,0.3l0.5,0.1l0.5,0.0l0.5,-0.0l0.4,-0.3l0.4,-0.2l0.5,-0.3l0.4,-0.3l0.3,-0.3l0.3,-0.4l0.3,-0.5l-0.1,-0.5l-0.2,-0.4l-0.4,-0.3l-0.4,-0.4l-0.2,-0.4l-0.2,-0.5l-0.4,-0.3l-0.4,-0.3l-0.4,-0.2l-0.5,-0.1l-0.5,0.1l-0.5,0.1l-0.5,0.0l-0.5,0.1l-0.5,-0.1l-0.5,0.2l-0.4,0.3l-0.3,0.4l-0.2,0.4l0.0,0.5l0.3,0.4l0.3,0.4l0.4,0.3l0.5,0.1l0.5,-0.0l0.5,-0.0l0.5,0.0l0.4,0.2l0.5,0.3l0.3,0.4l0.3,0.3l0.5,0.3l0.4,0.0l0.5,-0.2l0.4,-0.3l0.4,-0.2l0.4,-0.3l0.5,-0.2l0.5,-0.1l0.5,-0.0l0.4,0.3l0.2,0.4l-0.0,0.5l-0.2,0.4l-0.3,0.5l-0.2,0.4l-0.1,0.5l-0.1,0.5l0.1,0.5l0.3,0.4l0.4,0.3l0.4,0.3l0.3,0.4l0.3,0.4l0.2,0.5l0.0,0.5l-0.0,0.5l-0.3,0.4l-0.3,0.4l-0.4,0.3l-0.2,0.5l0.0,0.5l0.4,0.3l0.5,0.1l0.5,0.0l0.5,-0.0l0.5,-0.0l0.4,-0.1l0.5,-0.3l0.4,-0.3l0.3,-0.4l0.3,-0.4l0.3,-0.4l0.4,-0.3l0.5,-0.1l0.5,-0.1l0.4,-0.3l0.4,-0.2l0.5,-0.2l0.5,0.1l0.4,0.2l0.4,0.3l0.3,0.4l-0.1,0.5l-0.2,0.5l-0.1,0.5l-0.0,0.5l0.3,0.3l0.5,-0.1l0.4,-0.3l0.3,-0.4l0.1,-0.5l-0.0,-0.5l0.0,-0.5l0.1,-0.5l-0.1,-0.5l-0.1,-0.5l-0.2,-0.4l-0.4,-0.4l-0.3,-0.4l-0.2,-0.4l-0.3,-0.4l-0.1,-0.5l-0.1,-0.5l-0.0,-0.5l0.1,-0.5l0.2,-0.4l0.3,-0.4l0.3,-0.4l0.3,-0.4l0.3,-0.4l0.2,-0.5l0.2,-0.4l0.3,-0.4l0.4,-0.3l0.5,-0.1l0.5,-0.1l0.5,-0.0l0.5,0.0l0.5,0.2l0.5,0.1l0.4,0.2l0.5,0.1l0.5,0.0l0.5,-0.1l0.4,-0.2l0.5,-0.3l0.2,-0.4l0.3,-0.5l0.1,-0.4l0.1,-0.5l0.1,-0.5l0.3,-0.4l0.4,-0.2l0.5,0.0l0.5,0.2l0.4,0.3l0.3,0.3l0.2,0.5l0.1,0.5l-0.0,0.5l-0.0,0.5l-0.0,0.5l0.0,0.5l-0.1,0.5l0.0,0.5l0.2,0.5l0.3,0.3l0.5,0.2l0.5,0.0l0.4,-0.1l0.4,-0.4l0.2,-0.4l0.1,-0.5l-0.1,-0.5l0.1,-0.5l0.3,-0.4l0.4,-0.3l0.5,-0.1l0.5,-0.0l0.4,0.1l0.5,0.3l0.5,0.1l0.5,0.0l0.5,-0.1l0.4,-0.1l0.4,-0.3l0.3,-0.5l0.1,-0.5l-0.0,-0.5l-0.1,-0.5l-0.0,-0.4l-0.2,-0.5l-0.1,-0.5l-0.0,-0.5l-0.0,-0.5l-0.0,-0.5l0.1,-0.5l0.3,-0.4l0.4,-0.3l0.4,-0.4l0.4,-0.2l0.5,-0.1l0.5,-0.1l0.5,-0.2l0.5,0.1l0.4,0.1l0.4,0.3l0.4,0.4l0.2,0.4l-0.1,0.5l-0.3,0.4l-0.4,0.2l-0.5,-0.1l-0.3,-0.4l-0.1,-0.5l0.1,-0.4l0.2,-0.5l0.2,-0.5l-0.0,-0.5l-0.3,-0.3l-0.5,-0.2l-0.5,-0.1l-0.5,-0.1l-0.5,-0.1l-0.4,-0.1l-0.5,-0.1l-0.5,-0.2l-0.4,-0.3l-0.3,-0.4l-0.1,-0.5l0.1,-0.5l0.1,-0.4l0.2,-0.5l0.2,-0.4l0.4,-0.4l0.4,-0.3l0.4,-0.2l0.4,-0.3l0.4,-0.4l0.3,-0.3l0.4,-0.4l0.3,-0.3l0.4,-0.4l0.3,-0.4l0.3,-0.4l0.2,-0.5l0.2,-0.4l0.3,-0.4l0.3,-0.4l0.5,-0.2l0.4,-0.2l0.5,-0.2l0.5,-0.1l0.4,-0.2l0.5,-0.3l0.3,-0.3l0.2,-0.5l0.3,-0.4l0.3,-0.4l0.4,-0.2l0.5,-0.3l0.3,-0.3l0.3,-0.4l0.1,-0.5l0.2,-0.5l0.2,-0.4l0.0,-0.5l-0.0,-0.5l-0.2,-0.5l-0.3,-0.4l-0.4,-0.3l-0.4,-0.2l-0.4,-0.4l-0.2,-0.4l-0.2,-0.5l-0.2,-0.4l-0.3,-0.5l-0.4,-0.3l-0.3,-0.3l-0.4,-0.3l-0.5,-0.3l-0.5,0.0l-0.4,0.2l-0.4,0.3l-0.5,0.2l-0.4,0.2l-0.5,0.3l-0.3,0.3l-0.2,0.5l-0.1,0.5l0.1,0.5l0.3,0.4l0.4,0.3l0.4,0.3l0.5,0.1l0.5,-0.1l0.4,-0.2l0.5,-0.1l0.5,-0.0l0.5,-0.0l0.5,-0.1l0.3,-0.4l0.2,-0.5l0.0,-0.4l-0.0,-0.5l-0.3,-0.5l-0.4,-0.2l-0.5,-0.2l-0.5,-0.2l-0.3,-0.3l-0.4,-0.4l-0.3,-0.4l-0.2,-0.5l-0.0,-0.5l0.0,-0.5l0.1,-0.5l-0.0,-0.4l-0.3,-0.5l-0.3,-0.3l-0.5,-0.2l-0.4,-0.2l-0.5,-0.3l-0.3,-0.4l-0.2,-0.4l-0.1,-0.5l-0.1,-0.5l-0.1,-0.5l-0.1,-0.5l-0.3,-0.4l-0.3,-0.4l-0.3,-0.4l-0.2,-0.4l-0.0,-0.5l0.2,-0.5l0.2,-0.4l0.2,-0.5l0.1,-0.5l-0.1,-0.5l-0.1,-0.5l-0.0,-0.5l0.1,-0.5l0.3,-0.3l0.5,-0.2l0.5,0.1 M499.6,326.3l0.1,0.5l0.2,0.4l0.3,0.5l0.1,0.4l0.2,0.5l0.0,0.5l-0.0,0.5l-0.3,0.5l-0.2,0.4l-0.3,0.4l-0.2,0.5l-0.2,0.4l-0.3,0.5l0.0,0.5l0.3,0.4l0.4,0.3l0.4,0.2l0.5,-0.0l0.5,-0.1l0.5,-0.1l0.4,-0.3l0.2,-0.5l0.2,-0.5l-0.0,-0.5l-0.2,-0.4l-0.3,-0.4l-0.2,-0.5l-0.3,-0.4l-0.3,-0.4l-0.4,-0.3l-0.4,-0.2l-0.5,-0.2l-0.5,-0.2l-0.4,-0.3l-0.5,-0.1l-0.5,-0.1l-0.5,0.0l-0.5,-0.0l-0.4,-0.2l-0.5,-0.2l-0.4,-0.3l-0.1,-0.5l0.1,-0.5l0.4,-0.3l0.5,-0.2l0.5,0.1l0.5,0.1l0.4,0.1l0.5,0.1 M455.2,292.2l0.5,-0.1l0.5,-0.1l0.5,-0.0l0.5,-0.0l0.5,-0.1l0.4,-0.2l0.4,-0.2l0.4,-0.4l0.3,-0.4l0.2,-0.5l0.3,-0.4l0.4,-0.3l0.4,-0.1l0.5,0.1l0.4,0.3l0.2,0.5l-0.0,0.5l-0.2,0.5l-0.1,0.4l-0.3,0.4l-0.5,0.3l-0.5,-0.1l-0.3,-0.3l-0.2,-0.4l-0.1,-0.5l0.1,-0.5l0.1,-0.5l0.0,-0.5l-0.1,-0.5l-0.1,-0.5l-0.2,-0.5l0.0,-0.5l0.4,-0.3l0.4,-0.2l0.5,-0.0l0.5,-0.1l0.5,-0.1l0.5,-0.1l0.4,-0.3l0.4,-0.4l0.4,-0.3l0.4,-0.2l0.5,-0.2l0.5,-0.1l0.4,-0.2l0.4,-0.4l0.2,-0.4l0.2,-0.5l0.2,-0.4l0.1,-0.5l0.3,-0.4l0.5,-0.2l0.5,0.2l0.3,0.4l0.1,0.4l-0.0,0.5l-0.3,0.5l-0.2,0.4l-0.1,0.5l0.1,0.5l0.3,0.4l0.1,0.5l0.2,0.5l0.2,0.4l0.3,0.5l0.2,0.4l0.2,0.5l0.2,0.4l0.2,0.5l0.2,0.4l0.2,0.5l0.3,0.4l0.4,0.2l0.5,0.2l0.4,0.3l0.5,0.2l0.5,0.1l0.4,-0.1l0.4,-0.3l0.2,-0.5l-0.1,-0.4l-0.4,-0.3l-0.5,0.0l-0.3,0.4l0.0,0.5l0.2,0.5l0.3,0.4l0.2,0.4l0.0,0.5l-0.1,0.5l-0.3,0.4l-0.3,0.4l-0.3,0.4l-0.2,0.4l-0.2,0.5l0.3,0.4l0.5,0.1l0.4,-0.3l0.3,-0.4l-0.1,-0.5l-0.3,-0.4l-0.5,-0.1l-0.5,-0.0l-0.4,0.1l-0.4,0.4l-0.3,0.4l-0.1,0.5l0.1,0.4l0.2,0.5l0.4,0.2l0.5,0.3l0.5,-0.0l0.5,-0.1l0.5,-0.0l0.5,-0.1l0.5,0.1l0.5,0.1l0.3,0.3l0.3,0.4l0.2,0.5l0.3,0.4l0.2,0.5l0.2,0.4l0.1,0.5l-0.0,0.5l-0.2,0.5l-0.3,0.4l-0.3,0.4l-0.4,0.3l-0.4,0.2l-0.4,0.3l-0.3,0.5l-0.2,0.4l-0.3,0.4l-0.3,0.4l-0.1,0.5l0.0,0.5l0.0,0.5l-0.1,0.5l-0.2,0.4l-0.2,0.5l-0.3,0.4l-0.1,0.5l-0.1,0.5l0.1,0.5l0.0,0.5l0.3,0.4l0.5,0.1l0.5,-0.2l0.4,-0.2l0.4,-0.3l0.5,-0.2l0.5,0.0l0.5,0.0l0.5,0.1l0.4,0.3l0.5,0.1l0.5,0.0l0.4,-0.1l0.5,-0.1l0.5,-0.2l0.5,0.0l0.5,0.2l0.3,0.3l0.1,0.5l-0.1,0.5l-0.3,0.4l-0.3,0.4l-0.1,0.5l0.1,0.5l0.4,0.3l0.5,0.1l0.5,-0.1l0.5,-0.1l0.5,-0.1l0.4,-0.2l0.5,-0.1l0.4,-0.3l0.4,-0.3l0.4,-0.3l0.3,-0.4l0.4,-0.4l0.4,-0.3l0.4,-0.2l0.4,-0.2l0.4,-0.4l0.2,-0.5l0.2,-0.4l0.2,-0.5l0.3,-0.4l0.3,-0.4l0.4,-0.3l0.4,-0.2l0.5,-0.0l0.4,0.2l0.3,0.5l-0.1,0.4l-0.4,0.4l-0.5,-0.1l-0.3,-0.3l-0.0,-0.5l0.3,-0.5l0.4,-0.3l0.4,-0.1l0.5,0.2l0.3,0.4l0.2,0.4l0.1,0.5l-0.2,0.5l-0.3,0.4l-0.5,0.1l-0.4,-0.1l-0.4,-0.3l-0.3,-0.4l-0.3,-0.4l-0.4,-0.4l-0.2,-0.4l-0.1,-0.5l0.2,-0.4l0.2,-0.5l0.3,-0.3l0.5,-0.3l0.4,-0.3l0.3,-0.3l0.3,-0.4l0.4,-0.4l0.2,-0.4l0.2,-0.5l0.2,-0.4l0.2,-0.5l0.3,-0.4l0.3,-0.4l0.1,-0.5l-0.1,-0.5l0.0,-0.5l-0.0,-0.5l-0.1,-0.5l-0.3,-0.4l-0.5,-0.1l-0.5,-0.2l-0.4,-0.2l-0.5,-0.3l-0.4,-0.2l-0.4,-0.3l-0.4,-0.3l-0.5,-0.1l-0.5,-0.1l-0.5,-0.2l-0.5,-0.1l-0.5,-0.0l-0.4,0.1l-0.5,0.1l-0.5,0.1l-0.5,-0.2l-0.5,-0.2l-0.4,-0.2l-0.4,-0.3l-0.5,-0.2l-0.4,-0.3l-0.4,-0.3l-0.3,-0.3l-0.5,-0.3l-0.5,-0.1l-0.4,0.2l-0.4,0.2l-0.5,0.3l-0.3,0.3l-0.5,0.3l-0.5,-0.1l-0.2,-0.4l0.1,-0.5l0.4,-0.3l0.3,-0.4l0.4,-0.3l0.3,-0.5l0.2,-0.4l0.2,-0.5l0.2,-0.4l0.2,-0.5l0.2,-0.4l0.2,-0.5l0.3,-0.4l0.4,-0.2l0.5,-0.1l0.5,0.1l0.5,0.1l0.5,0.0l0.5,0.1l0.5,-0.0l0.5,0.0l0.5,-0.0l0.5,-0.2l0.4,-0.2l0.4,-0.3l0.3,-0.4l-0.0,-0.5l-0.1,-0.5l-0.2,-0.5l-0.3,-0.4l-0.4,-0.3l-0.5,-0.1l-0.4,-0.1l-0.5,-0.1l-0.5,0.1l-0.4,0.4l-0.2,0.4l0.0,0.5l0.1,0.5l0.1,0.5l0.1,0.5l0.2,0.5l0.2,0.4l0.4,0.3l0.5,-0.1l0.5,-0.2l0.3,-0.4l0.2,-0.5l0.1,-0.5l0.2,-0.4l0.1,-0.5l-0.0,-0.5l-0.0,-0.5l0.1,-0.5l0.2,-0.5l0.2,-0.4l0.3,-0.4l0.3,-0.4l0.2,-0.5l0.3,-0.4l0.5,-0.1l0.5,-0.2l0.4,-0.1l0.5,-0.1l0.5,-0.1l0.5,0.0l0.5,0.3l0.4,0.2l0.5,0.1l0.5,-0.2l0.4,-0.2l0.4,-0.3l0.4,-0.3l0.5,-0.2l0.4,-0.3l0.2,-0.5l0.0,-0.5l-0.0,-0.5l-0.1,-0.4l-0.3,-0.5l-0.4,-0.2l-0.5,0.0l-0.4,0.2l-0.4,0.4l-0.1,0.5l0.1,0.5l0.3,0.4l0.4,0.2l0.5,0.2l0.5,-0.0l0.5,-0.1l0.5,-0.1l0.4,-0.2l0.5,-0.1l0.5,-0.1l0.5,-0.1l0.4,-0.3l0.4,-0.3l0.4,-0.3l0.3,-0.4l0.4,-0.4l0.4,-0.3l0.4,-0.1l0.5,0.0l0.5,0.3l0.3,0.4l0.2,0.4l0.2,0.5l0.2,0.4l0.1,0.5l-0.2,0.5l-0.2,0.4l-0.3,0.4l-0.2,0.5l-0.1,0.5l-0.1,0.5l0.1,0.5l0.2,0.4l0.3,0.4l0.5,0.2l0.5,0.1l0.4,0.2l0.5,0.0l0.5,-0.2l0.4,-0.2l0.3,-0.4l0.2,-0.5l-0.0,-0.5l-0.1,-0.5l-0.2,-0.4l-0.2,-0.5l-0.3,-0.4 M456.7,295.2l0.4,0.3l0.4,0.3l0.5,0.2l0.4,0.2l0.5,0.1l0.4,0.2l0.4,0.4l0.4,0.4l0.3,0.3l0.4,0.3l0.5,0.2l0.5,0.0l0.4,-0.2l0.5,-0.1l0.5,-0.0l0.5,-0.0l0.5,0.1l0.3,0.4l0.2,0.4l-0.2,0.5l-0.4,0.3l-0.5,0.1l-0.4,-0.3l-0.2,-0.4l0.0,-0.5l0.2,-0.5l0.4,-0.2l0.5,-0.1l0.5,0.2l0.4,0.3l0.2,0.4l0.1,0.5l0.0,0.5l-0.1,0.5l-0.1,0.5l-0.2,0.5l-0.1,0.4l-0.3,0.5l-0.3,0.4l-0.3,0.4l-0.3,0.4l-0.2,0.4l0.1,0.5l0.1,0.5l0.3,0.4l0.4,0.3l0.5,0.1l0.5,0.0l0.4,-0.1 M492.2,293.7l0.5,-0.1l0.5,0.2l0.4,0.3l0.4,0.2l0.4,0.2l0.5,0.2l0.5,-0.0l0.5,-0.2l0.4,-0.2l0.5,-0.1l0.5,-0.2l0.5,0.0l0.5,0.0l0.5,-0.1l0.4,-0.2l0.5,-0.2l0.3,-0.4l0.3,-0.4l0.2,-0.5l0.2,-0.4l0.2,-0.5l0.2,-0.4l0.3,-0.5l0.3,-0.4l0.1,-0.4l-0.3,-0.5l-0.4,-0.1l-0.5,0.3l-0.3,0.4l-0.2,0.4l-0.1,0.5l0.1,0.5l0.1,0.5l0.4,0.3l0.4,0.2l0.5,0.1l0.5,-0.1l0.3,-0.4l0.3,-0.4l0.3,-0.4l0.3,-0.4l0.5,-0.1l0.5,0.2l0.4,0.3l0.4,0.3l0.4,0.2l0.5,0.1l0.5,-0.0l0.5,-0.1l0.5,-0.1l0.4,-0.2l0.4,-0.4l0.4,-0.3l0.4,-0.2l0.5,-0.1l0.5,-0.1l0.5,-0.1l0.5,-0.2l0.4,-0.2l0.4,-0.3l0.5,-0.1l0.5,0.2l0.2,0.4l0.0,0.5l-0.1,0.5l-0.3,0.4l-0.4,0.3l-0.5,0.1l-0.5,0.0l-0.5,-0.0l-0.5,0.0l-0.4,0.3l-0.3,0.4l0.0,0.5l0.1,0.5l0.1,0.4l0.1,0.5l0.2,0.5l0.2,0.4l0.5,0.6l0.5,0.2l0.5,0.0l0.5,-0.1l0.5,-0.1l0.4,-0.3l0.3,-0.3 M489.3,296.7l0.5,0.1l0.5,-0.0l0.5,-0.1l0.5,-0.1l0.5,-0.1l0.4,-0.3l0.4,-0.3l0.4,-0.3l0.4,-0.3l0.4,-0.2l0.5,-0.2l0.5,-0.2l0.5,-0.0l0.5,0.1l0.4,0.1l0.5,0.2l0.5,0.0l0.5,-0.0l0.5,-0.1l0.5,-0.0l0.5,0.1l0.4,0.2l0.3,0.5l-0.0,0.5l-0.0,0.5l-0.1,0.4l0.0,0.5l0.2,0.5l0.0,0.5l-0.1,0.5l-0.3,0.4l-0.4,0.3l-0.5,-0.1l-0.3,-0.4l0.1,-0.5l0.2,-0.4l0.4,-0.3l0.3,-0.4l0.4,-0.3l0.4,-0.3l0.3,-0.4l0.3,-0.4l0.3,-0.4l0.3,-0.4l0.4,-0.3l0.4,-0.2l0.5,-0.3l0.4,-0.3l0.3,-0.4l0.4,-0.3l0.4,-0.2l0.5,-0.2l0.4,-0.3l0.4,-0.3l0.3,-0.4l0.3,-0.4l0.3,-0.4l0.4,-0.3l0.5,-0.1l0.5,-0.0l0.4,0.1l0.5,0.2l0.4,0.2l0.4,0.4l0.3,0.4l0.4,0.3l0.4,0.2l0.5,0.2l0.4,0.3l0.3,0.4l0.4,0.4l0.3,0.3l0.4,0.3l0.2,0.5l0.0,0.5l0.0,0.5l0.1,0.5l0.1,0.7l-0.3,0.4l-0.4,0.3l-0.5,0.2l-0.4,0.2l-0.5,0.0l-0.5,0.1l-0.5,-0.1l-0.5,-0.2l-0.4,-0.3l-0.3,-0.4l-0.2,-0.4l-0.1,-0.5l0.1,-0.5l0.1,-0.5 M507.0,278.9l0.3,-0.4l0.2,-0.5l0.3,-0.4l0.3,-0.4l0.2,-0.4l0.3,-0.4l0.2,-0.5l0.3,-0.4l0.4,-0.3l0.5,-0.1l0.5,-0.0l0.5,0.0l0.5,0.0l0.4,-0.1l0.4,-0.3l0.3,-0.4l0.2,-0.5l0.3,-0.4l0.3,-0.4l0.3,-0.4l0.2,-0.4l-0.1,-0.5l-0.4,-0.4l-0.4,-0.3l-0.4,-0.2l-0.5,-0.0l-0.5,0.1l-0.3,0.4l-0.0,0.5l0.1,0.5l0.4,0.4l0.4,0.3l0.3,0.3l0.5,0.3l0.3,0.4l0.3,0.3l0.5,0.3l0.5,0.0l0.4,-0.1l0.5,-0.1l0.4,-0.3l0.2,-0.5l0.2,-0.4l0.3,-0.4l0.5,-0.2l0.5,-0.1l0.5,0.1l0.4,0.2l0.5,0.2l0.4,0.3l0.3,0.4l0.2,0.5l0.2,0.4l0.1,0.7l-0.2,0.5 M504.0,270.0l0.1,0.5l0.1,0.5l0.3,0.4l0.3,0.4l0.4,0.3l0.5,0.1l0.4,0.2l0.4,0.3l0.4,0.4l0.2,0.5l-0.0,0.5l-0.1,0.5l0.1,0.4l0.1,0.5l0.0,0.5l-0.2,0.5l-0.4,0.3l-0.4,0.3l-0.4,0.2l-0.5,0.0l-0.5,-0.2l-0.4,-0.3l-0.3,-0.3l-0.4,-0.4l-0.5,-0.2l-0.5,0.1l-0.4,0.3l-0.3,0.4l-0.0,0.5l0.0,0.5l0.1,0.5l0.2,0.4l0.4,0.3l0.5,0.2l0.5,-0.0l0.5,-0.0l0.5,-0.0l0.5,0.0l0.4,0.2l0.5,0.1l0.5,0.2l0.3,0.4l0.1,0.5l0.1,0.5l0.1,0.5l-0.1,0.4l-0.2,0.5l-0.4,0.4l-0.4,0.3l-0.3,0.3l-0.4,0.4l-0.3,0.4l-0.1,0.4l-0.2,0.5l-0.2,0.5l-0.2,0.4l-0.2,0.5l-0.1,0.5l-0.0,0.5l0.1,0.4l0.4,0.4l0.4,0.2l0.5,0.1l0.5,0.2l0.4,0.2l0.4,0.3l0.4,0.3l0.3,0.4l0.2,0.4l0.2,0.5l0.1,0.5l0.0,0.5l0.1,0.5l0.0,0.5l0.1,0.5l0.1,0.5l-0.0,0.5l-0.4,0.4l-0.4,0.1l-0.5,-0.1l-0.6,-0.4l-0.3,-0.4l-0.2,-0.4l-0.1,-0.5 M473.3,298.2l0.5,-0.1l0.5,-0.1l0.5,-0.1l0.4,0.2l0.4,0.4l0.2,0.4l0.2,0.5l0.3,0.4l0.4,0.3l0.5,0.0l0.5,-0.1l0.4,-0.3l0.4,-0.3l0.4,-0.3l0.2,-0.4l0.1,-0.5l-0.1,-0.5l-0.1,-0.5l-0.2,-0.5l-0.1,-0.5l-0.2,-0.4l-0.2,-0.5l-0.0,-0.5l0.1,-0.5l0.2,-0.5l0.4,-0.3l0.4,-0.2l0.5,-0.2l0.4,-0.1l0.5,-0.0l0.5,0.1l0.5,0.1l0.5,0.1l0.5,0.2l0.4,0.2l0.4,0.4l0.4,0.3l0.3,0.3l0.4,0.4l0.3,0.4l0.4,0.2l0.5,0.2l0.5,0.2l0.5,0.0l0.4,-0.2l0.4,-0.3l0.2,-0.5l0.0,-0.5l-0.1,-0.4l-0.3,-0.5l-0.2,-0.4l-0.1,-0.5l0.0,-0.5l0.2,-0.5l0.3,-0.3l0.5,-0.2l0.5,-0.0l0.5,0.0l0.5,0.1l0.5,0.0l0.5,-0.0l0.5,0.0l0.4,0.2l0.4,0.4l0.2,0.4l0.4,0.4l0.4,0.3l0.4,0.2l0.5,0.1l0.5,0.0l0.5,0.0l0.5,0.0l0.5,0.0l0.5,-0.1l0.4,-0.2l0.5,-0.2l0.5,-0.1l0.5,-0.2l0.3,-0.3l0.1,-0.5l-0.0,-0.5l-0.2,-0.4l-0.4,-0.4l-0.3,-0.4l-0.2,-0.5l-0.0,-0.5l0.2,-0.4l0.3,-0.4l0.5,-0.0l0.5,0.1l0.4,0.3l0.3,0.4l0.1,0.5l-0.1,0.5l-0.2,0.4l-0.2,0.5l-0.2,0.5l-0.1,0.4l0.0,0.5l0.2,0.5l0.5,0.2l0.5,-0.0l0.3,-0.3l0.2,-0.5l0.0,-0.5l-0.1,-0.5l-0.2,-0.5l-0.2,-0.4l-0.3,-0.4l-0.1,-0.5l-0.1,-0.5l0.1,-0.5l0.3,-0.4l0.4,-0.3l0.5,-0.2l0.4,-0.1l0.5,0.0l0.5,0.2l0.5,-0.0l0.5,0.0l0.5,0.1l0.5,-0.1l0.5,-0.1l0.5,-0.1l0.5,-0.0l0.4,0.2l0.5,0.1l0.5,0.2l0.5,-0.0l0.4,-0.2l0.4,-0.3l0.4,-0.3l0.4,-0.4l0.4,-0.2l0.5,0.2 M469.8,301.8l0.4,0.4l0.3,0.3l0.1,0.5l0.1,0.5l0.1,0.5l0.2,0.5l0.1,0.5l0.1,0.4l0.1,0.5l0.2,0.5l0.1,0.5l0.1,0.5l0.1,0.5l0.3,0.3l0.4,0.3l0.4,0.3l0.4,0.3l0.5,0.3l0.4,0.2l0.4,0.3l0.5,0.2l0.4,0.3l0.4,0.3l0.4,0.2l0.5,0.1l0.5,-0.2l0.3,-0.4l0.3,-0.4l0.3,-0.4l0.4,-0.3l0.3,-0.4l0.3,-0.4l0.1,-0.5l-0.1,-0.4l-0.3,-0.4l-0.5,-0.1l-0.4,0.3l-0.1,0.5l0.2,0.5l0.3,0.4l0.2,0.4l0.3,0.5l0.2,0.4l0.3,0.4l0.4,0.3l0.5,0.2l0.5,0.0l0.5,-0.0l0.4,-0.2l0.4,-0.4l0.3,-0.3l0.4,-0.3l0.4,-0.3l0.4,-0.3l0.5,-0.2l0.5,0.0l0.4,0.3l0.3,0.4l0.2,0.4l0.3,0.4l0.4,0.4l0.4,0.2l0.5,0.2l0.5,0.1l0.5,-0.1l0.4,-0.3l0.4,-0.3l0.4,-0.3l0.4,-0.3l0.2,-0.4l0.3,-0.5l0.2,-0.4l-0.0,-0.5l-0.0,-0.5l0.0,-0.5l-0.0,-0.5l-0.4,-0.3l-0.5,-0.2l-0.5,0.1l-0.5,-0.1l-0.4,-0.1l-0.5,-0.3l-0.2,-0.4l-0.0,-0.5l0.2,-0.4l0.3,-0.5l0.4,-0.3l0.4,-0.3l0.4,-0.3l0.3,-0.3l0.3,-0.4l0.3,-0.5l0.3,-0.4l0.3,-0.3l0.5,-0.3l0.5,0.0l0.4,0.2l0.4,0.3l0.3,0.4l0.2,0.5l0.3,0.4l0.4,0.3l0.3,0.4l0.4,0.2l0.5,0.1l0.5,-0.0l0.5,-0.1l0.5,0.1l0.5,0.1l0.5,0.0l0.5,-0.1l0.4,-0.2l0.4,-0.3l0.4,-0.4l0.4,-0.3l0.4,-0.3l0.3,-0.4l0.1,-0.5l-0.0,-0.5l-0.0,-0.5l-0.2,-0.5l-0.4,-0.3l-0.4,-0.3l-0.4,-0.2l-0.5,-0.2l-0.4,-0.3l-0.3,-0.4l0.0,-0.5l0.1,-0.5l0.2,-0.4l0.3,-0.5l0.3,-0.4l0.2,-0.4l0.2,-0.5l0.3,-0.4l0.2,-0.4l0.2,-0.5l0.4,-0.3l0.4,-0.3l0.5,-0.1l0.5,-0.0l0.5,0.1l0.5,0.1l0.5,0.1l0.4,0.3l0.4,0.3l0.3,0.4l0.1,0.5l0.1,0.5l0.1,0.4l0.2,0.5l0.3,0.3l0.5,0.2l0.5,0.0l0.5,-0.0l0.4,-0.3l0.4,-0.3l0.4,-0.4l0.2,-0.4l0.3,-0.4l0.4,-0.3l0.4,-0.3l0.5,-0.1l0.5,0.1l0.4,0.3l0.4,0.3l0.5,0.3l0.4,0.1l0.5,-0.1l0.5,-0.1l0.3,-0.4l0.4,-0.4l0.3,-0.3l0.4,-0.4l0.2,-0.4l0.3,-0.4l0.1,-0.5l0.3,-0.4l0.3,-0.4l0.3,-0.4l0.3,-0.5l0.2,-0.4l0.1,-0.5l0.0,-0.5l0.0,-0.5l0.0,-0.5l0.0,-0.5l-0.1,-0.5l-0.1,-0.4l-0.5,-0.6l-0.4,-0.3l-0.5,-0.1l-0.5,-0.0l-0.5,0.1l-0.5,0.1l-0.4,0.2l-0.5,0.3 M455.6,292.9l0.1,0.5l0.0,0.5l0.1,0.5l0.1,0.5l0.1,0.5l-0.0,0.5l-0.2,0.4l-0.1,0.5l-0.0,0.5l0.2,0.5l0.3,0.3l0.5,0.2l0.4,0.2l0.5,0.2l0.4,0.3l0.3,0.4l0.3,0.4l0.4,0.3l0.4,0.3l0.4,0.2l0.5,0.3l0.4,0.2l0.5,0.1l0.5,0.2l0.4,0.2l0.5,0.1l0.5,0.1l0.5,-0.1l0.4,-0.2l0.4,-0.4l0.3,-0.4l0.3,-0.3l0.4,-0.4l0.4,-0.3l0.4,-0.3l0.3,-0.3l0.3,-0.4l0.1,-0.5l-0.2,-0.5l-0.5,-0.2l-0.5,-0.0l-0.5,0.1l-0.4,0.2l-0.4,0.4l-0.3,0.3l-0.3,0.4l0.0,0.5l0.2,0.5l0.3,0.4l0.5,0.2l0.4,0.2l0.5,-0.1l0.5,-0.1l0.5,-0.2l0.4,-0.2l0.5,-0.2l0.4,-0.3l0.3,-0.4l0.4,-0.2l0.5,-0.3l0.4,-0.2l0.5,-0.1l0.5,0.0l0.5,0.2l0.5,-0.1l0.5,-0.1l0.4,-0.3l0.3,-0.4l0.1,-0.4l-0.1,-0.5l-0.2,-0.5l-0.0,-0.5l0.2,-0.5l0.3,-0.3l0.5,-0.1l0.5,-0.1l0.5,-0.0l0.5,-0.0l0.5,-0.1l0.4,-0.3l0.4,-0.3l0.4,-0.3l0.4,-0.3l0.3,-0.4l0.0,-0.5l-0.1,-0.5l-0.4,-0.4l-0.4,-0.2l-0.4,-0.3l-0.5,0.0l-0.4,0.3l-0.2,0.4l0.1,0.5l0.5,0.2l0.5,0.0l0.4,-0.1l0.5,-0.1l0.5,-0.1l0.5,-0.1l0.5,-0.1l0.5,0.2l0.5,0.2l0.4,0.1l0.5,0.1l0.5,-0.1l0.4,-0.3l0.2,-0.4l0.2,-0.5l0.2,-0.5l0.3,-0.4l0.3,-0.4l0.4,-0.3l0.3,-0.3l0.4,-0.3l0.5,-0.2l0.5,-0.0l0.5,-0.1l0.4,-0.3l0.4,-0.3l0.3,-0.4l0.2,-0.4l0.0,-0.5l-0.1,-0.5l-0.2,-0.5l-0.1,-0.5l-0.2,-0.4l-0.4,-0.2l-0.5,0.3l-0.1,0.4l-0.0,0.5l0.2,0.5l0.4,0.2l0.5,0.0l0.5,-0.2l0.4,-0.3l0.5,-0.2l0.4,0.1l0.5,0.1l0.5,-0.0l0.4,-0.3l0.4,-0.4l0.2,-0.4l0.3,-0.4l0.4,-0.4l0.4,-0.2l0.4,-0.2l0.5,-0.0l0.5,-0.1l0.5,-0.1l0.4,-0.3l0.4,-0.4l0.2,-0.4l0.0,-0.5l0.1,-0.5l-0.1,-0.5l-0.3,-0.5l-0.6,-0.3l-0.5,0.1l-0.4,0.2l-0.4,0.3 M491.1,259.1l0.1,0.5l0.2,0.4l0.2,0.5l0.1,0.5l0.2,0.5l0.2,0.4l0.1,0.5l0.1,0.5l0.1,0.5l0.3,0.4l0.4,0.3l0.4,0.3l0.4,0.3l0.2,0.4l-0.0,0.5l-0.2,0.5l-0.3,0.4l-0.3,0.4l-0.3,0.4l-0.3,0.4l-0.4,0.4l-0.4,0.2l-0.5,0.0l-0.5,-0.1l-0.4,-0.3l-0.3,-0.4l-0.1,-0.5l0.1,-0.4l0.4,-0.3l0.5,-0.1l0.5,0.1l0.5,0.2l0.4,0.2l0.5,0.2l0.4,0.2l0.5,0.2l0.4,0.3l0.5,0.2l0.4,0.2l0.3,0.4l0.3,0.4l0.2,0.5l-0.0,0.5l-0.2,0.4l-0.3,0.4l-0.3,0.4l-0.3,0.4l-0.3,0.4l-0.2,0.5l-0.1,0.4l0.0,0.5l0.1,0.5l0.3,0.4l0.5,0.1l0.5,-0.1l0.5,-0.3l0.4,-0.2l0.4,-0.2l0.5,-0.1l0.5,0.1l0.5,0.2l0.3,0.3l0.3,0.4l0.4,0.4l0.3,0.4l0.5,0.1l0.5,0.0l0.5,-0.0l0.5,0.0l0.4,0.2l0.2,0.5l0.1,0.5l-0.1,0.5l-0.3,0.3l-0.5,0.1l-0.4,-0.3l-0.1,-0.4l0.2,-0.5l0.4,-0.3l0.4,-0.1l0.5,-0.1l0.5,-0.1l0.5,-0.1l0.4,-0.3l0.5,-0.2l0.4,-0.3l0.4,-0.2l0.4,-0.4l0.4,-0.3l0.3,-0.4l0.2,-0.5l-0.0,-0.4l-0.4,-0.4l-0.4,-0.2l-0.5,0.0l-0.5,0.2l-0.4,0.3"/></defs>
<use href="#c3" stroke="#157a38" stroke-width="1.3"/>
<use href="#c3" stroke="#34b060" stroke-width="0.65"/>
<defs><path id="c4" d="M596.3,211.9l0.4,-0.3l0.5,-0.2l0.5,-0.1l0.4,-0.1l0.5,-0.1l0.5,-0.1l0.5,-0.1l0.5,-0.1l0.5,-0.1l0.5,-0.2l0.5,-0.1l0.5,-0.0l0.4,-0.1l0.5,-0.1l0.4,-0.3l0.4,-0.4l0.2,-0.4l0.1,-0.5l-0.1,-0.5l-0.2,-0.4l-0.3,-0.4l-0.4,-0.3l-0.5,-0.2l-0.5,-0.0l-0.4,0.3l-0.2,0.4l0.1,0.5l0.4,0.4l0.4,0.2l0.4,0.3l0.5,0.2l0.5,0.1l0.4,0.1l0.5,-0.2l0.4,-0.3l0.2,-0.5l0.2,-0.4l0.3,-0.4l0.4,-0.3l0.5,-0.1l0.5,0.1l0.5,0.1l0.5,0.2l0.4,0.3l0.4,0.3l0.4,0.3l0.4,0.2l0.4,0.4l0.3,0.4l0.2,0.4l0.1,0.5l0.1,0.5l0.3,0.4l0.4,0.3l0.5,0.2l0.5,-0.0l0.5,0.0l0.4,0.2l0.4,0.4l0.3,0.3l0.5,0.3l0.5,0.1l0.4,-0.2l0.4,-0.3l0.1,-0.5l-0.0,-0.5l-0.1,-0.5l0.2,-0.5l0.5,-0.2l0.5,-0.1l0.4,-0.0l0.5,-0.0l0.5,0.1l0.5,0.2l0.4,0.3l0.2,0.4l0.2,0.5l0.0,0.5l-0.1,0.5l-0.3,0.4l-0.3,0.3l-0.3,0.5l-0.2,0.4l0.1,0.5l0.3,0.4l0.5,0.1l0.5,-0.2l0.2,-0.5l-0.0,-0.5l-0.0,-0.5l0.2,-0.4l0.3,-0.4l0.4,-0.3l0.4,-0.3l0.5,-0.2l0.5,-0.1l0.5,-0.1l0.4,-0.1l0.5,-0.0l0.5,0.2l0.3,0.3l0.2,0.5l0.1,0.5l-0.2,0.5l-0.2,0.4l-0.3,0.4l-0.3,0.4l-0.4,0.3l-0.4,0.3l-0.5,0.2l-0.5,0.1l-0.4,0.2l-0.4,0.4l-0.2,0.4l0.1,0.5l0.5,0.2l0.5,-0.1l0.4,-0.3l0.4,-0.3l0.4,-0.3l0.4,-0.2l0.5,-0.2l0.4,0.2l0.4,0.4l0.1,0.4l-0.1,0.5l-0.3,0.4l-0.4,0.3l-0.5,0.1l-0.5,0.1l-0.5,-0.1l-0.5,-0.1l-0.5,0.1l-0.4,0.2l-0.5,0.3l-0.3,0.3l-0.2,0.4l-0.2,0.5l0.1,0.5l0.3,0.4l0.4,0.3l0.4,0.3l0.4,0.2l0.1,0.5l-0.1,0.5l-0.2,0.4l-0.3,0.4l-0.4,0.4l-0.2,0.4l-0.3,0.4l-0.3,0.5l-0.3,0.3l-0.5,0.2l-0.5,0.0l-0.5,0.1l-0.5,0.0l-0.4,-0.1l-0.4,-0.4l-0.2,-0.5l-0.0,-0.5l0.0,-0.5l-0.1,-0.7 M599.3,217.8l0.5,0.2l0.4,0.3l0.3,0.3l0.3,0.4l0.4,0.4l0.3,0.4l0.4,0.3l0.4,0.3l0.5,0.0l0.5,-0.1l0.4,-0.3l0.2,-0.4l0.2,-0.5l0.0,-0.5l-0.0,-0.5l-0.1,-0.5l-0.0,-0.5l0.2,-0.5l0.3,-0.3l0.5,-0.2l0.4,0.2l0.5,0.2l0.3,0.4l0.1,0.5l-0.1,0.5l-0.1,0.5l-0.2,0.5l-0.1,0.4l-0.2,0.5l-0.2,0.5l-0.2,0.4l-0.2,0.5l-0.0,0.5l0.0,0.5l0.1,0.5l0.2,0.4l0.1,0.5l0.2,0.5l0.1,0.5l0.2,0.4l0.3,0.4l0.5,0.3l0.4,0.1l0.5,-0.0l0.5,-0.1l0.4,-0.3l0.4,-0.3l0.4,-0.4l0.3,-0.4l0.3,-0.3l0.4,-0.4l0.4,-0.3l0.5,-0.1l0.5,-0.1l0.5,-0.0l0.5,-0.1l0.5,0.1l0.5,0.0l0.5,0.1l0.5,0.0l0.4,0.2l0.4,0.3l0.3,0.5l0.2,0.4l0.1,0.5l0.0,0.5l-0.2,0.5l-0.3,0.3l-0.5,0.2l-0.4,0.3l-0.5,0.0l-0.5,0.0l-0.5,0.2l-0.4,0.3l-0.1,0.5l-0.0,0.5l0.1,0.4l0.3,0.5l0.2,0.4l0.2,0.4l0.3,0.5l0.3,0.4l0.4,0.3l0.3,0.3l0.4,0.4l0.3,0.4l0.3,0.4l0.4,0.3l0.4,0.3l0.4,0.2l0.5,0.1l0.5,-0.1l0.5,-0.0l0.5,-0.2l0.5,-0.1l0.4,-0.2l0.5,0.0l0.5,0.2l0.5,0.1l0.5,0.1l0.5,0.1l0.5,0.1l0.4,0.2l0.4,0.3l0.2,0.4l0.1,0.5l-0.2,0.5l-0.3,0.4l-0.3,0.3l-0.2,0.5l0.1,0.4l0.4,0.3l0.5,0.0l0.5,0.1l0.5,0.0l0.5,0.2l0.4,0.2l0.2,0.5l-0.2,0.5l-0.3,0.3l-0.5,0.2l-0.5,0.1l-0.5,-0.0l-0.5,-0.0l-0.5,0.0l-0.5,0.1l-0.4,0.2l-0.3,0.4l-0.1,0.5l0.2,0.5l0.4,0.3l0.4,0.2l0.5,0.1l0.5,0.1l0.5,0.2l0.3,0.3 M602.2,232.6l-0.4,0.2l-0.2,0.5l0.0,0.5l0.2,0.4l0.1,0.5l-0.2,0.5l-0.2,0.4l-0.4,0.4l-0.3,0.4l-0.3,0.3l-0.5,0.3l-0.4,0.2l-0.5,-0.1l-0.5,-0.3l-0.3,-0.4l-0.1,-0.4l-0.3,-0.5l-0.3,-0.4l-0.3,-0.4l-0.3,-0.3l-0.4,-0.4l-0.3,-0.3l-0.3,-0.4l-0.4,-0.4l-0.4,-0.3l-0.5,-0.0l-0.4,0.2l-0.3,0.4l-0.3,0.4l-0.0,0.5l0.0,0.5l-0.1,0.5l-0.1,0.5l-0.2,0.5l-0.4,0.3l-0.5,0.1l-0.4,-0.3l-0.1,-0.5l0.0,-0.5l0.2,-0.4l0.1,-0.5l0.2,-0.5l-0.0,-0.5l-0.1,-0.5l-0.3,-0.4l-0.4,-0.2l-0.5,-0.1l-0.5,0.0l-0.5,0.2l-0.5,0.1l-0.5,0.0l-0.5,0.0l-0.5,0.1l-0.4,0.3l-0.5,0.2l-0.4,0.2l-0.4,0.3l-0.4,0.3l-0.2,0.4l-0.3,0.5l-0.3,0.3l-0.3,0.4l-0.4,0.4l-0.2,0.5l-0.2,0.4l-0.2,0.5l-0.2,0.4l-0.1,0.5l-0.3,0.4l-0.4,0.3l-0.4,0.3l-0.5,0.2l-0.4,0.3l-0.5,0.2l-0.4,0.2l-0.5,0.1l-0.5,0.2l-0.5,0.0l-0.5,0.0l-0.4,-0.1l-0.5,-0.2l-0.4,-0.3l-0.4,-0.3l-0.5,-0.2l-0.4,-0.2l-0.3,-0.4l0.1,-0.5l0.2,-0.5l0.4,-0.3l0.5,-0.1l0.4,-0.0l0.5,-0.3l0.4,-0.3l0.2,-0.4l0.1,-0.5l-0.2,-0.4l-0.3,-0.5l-0.4,-0.2l-0.5,-0.2l-0.5,-0.1l-0.5,-0.0l-0.5,0.1l-0.5,0.2l-0.4,0.2l-0.3,0.4l-0.3,0.4l-0.3,0.4l-0.3,0.4l-0.2,0.5l-0.3,0.3l-0.5,0.3l-0.5,0.0l-0.5,-0.1l-0.2,-0.4l-0.1,-0.5l0.1,-0.5l0.0,-0.5l0.1,-0.5l0.1,-0.4l0.1,-0.5l-0.1,-0.5l-0.2,-0.5l-0.4,-0.4l-0.4,-0.2l-0.5,-0.1l-0.5,-0.1l-0.5,-0.0l-0.5,0.1l-0.4,0.1l-0.5,0.2l-0.5,0.2l-0.2,0.5l0.0,0.5l0.1,0.5l0.1,0.5l-0.0,0.4l-0.2,0.5l-0.4,0.4l-0.5,0.2l-0.4,0.0l-0.5,-0.0l-0.5,-0.2l-0.4,-0.3l-0.5,-0.2l-0.5,-0.1l-0.4,-0.2l-0.4,-0.3l-0.2,-0.5l0.0,-0.5l0.1,-0.4l0.2,-0.5l0.3,-0.4l0.3,-0.5l0.1,-0.4l-0.0,-0.5l-0.3,-0.4l-0.4,-0.3l-0.5,-0.1l-0.5,0.0l-0.5,0.1l-0.5,0.2l-0.4,0.3l-0.3,0.4l-0.2,0.5l-0.1,0.4l-0.1,0.5l0.1,0.5l0.0,0.5l0.1,0.5l-0.0,0.5l-0.0,0.5l-0.1,0.5l-0.3,0.4l-0.4,0.3l-0.5,0.1l-0.5,0.2l-0.4,0.2l-0.5,0.3l-0.3,0.3l-0.2,0.5l-0.2,0.4l-0.2,0.5l-0.1,0.5l-0.1,0.5l-0.2,0.4l-0.1,0.5l-0.0,0.5l0.0,0.5l0.2,0.5l0.4,0.3l0.5,0.1l0.5,0.1l0.5,-0.2l0.2,-0.4l0.1,-0.5l-0.2,-0.5l-0.4,-0.3l-0.5,-0.1l-0.5,0.0l-0.5,0.1l-0.4,0.3l-0.3,0.4l-0.3,0.4l-0.1,0.5l0.1,0.5l0.0,0.5l0.0,0.5l0.1,0.5l0.3,0.4l0.5,0.3l0.4,0.2l0.5,-0.0l0.5,-0.0l0.5,-0.1l0.5,-0.2l0.5,-0.0l0.5,-0.0l0.5,-0.0l0.5,0.0l0.4,0.2l0.5,0.2l0.5,0.1l0.4,0.2l0.4,0.3l0.4,0.4l0.3,0.4l0.2,0.4l-0.0,0.5l0.0,0.5l0.1,0.5l-0.1,0.5l-0.0,0.5l0.1,0.5l0.1,0.5l0.3,0.4l0.4,0.3l0.5,0.2l0.5,0.0l0.5,-0.1l0.4,-0.2l0.4,-0.3l0.4,-0.2l0.5,0.0l0.4,0.4l0.2,0.4l0.2,0.5l-0.0,0.5l-0.2,0.5l-0.3,0.4l-0.4,0.3l-0.5,0.0l-0.5,0.1l-0.4,0.2l-0.1,0.5l0.1,0.5l0.3,0.4l0.5,0.2l0.4,0.1l0.5,-0.1l0.5,-0.1l0.5,-0.3l0.4,-0.3l0.4,-0.2l0.5,-0.2l0.4,-0.2l0.5,-0.2l0.4,-0.2l0.5,-0.1l0.5,0.2l0.4,0.3l0.3,0.4l0.3,0.4l0.2,0.5l0.2,0.4l-0.0,0.5l-0.1,0.5l-0.0,0.5l-0.2,0.5l-0.3,0.4l-0.3,0.4l-0.5,0.2l-0.4,0.1l-0.5,0.0l-0.5,-0.2l-0.3,-0.4l-0.1,-0.5l0.0,-0.5l-0.0,-0.5l-0.1,-0.5l-0.1,-0.5l-0.1,-0.5l-0.2,-0.4l-0.3,-0.4l-0.4,-0.2l-0.5,-0.1l-0.5,-0.1l-0.5,0.0l-0.5,0.1l-0.5,0.2l-0.3,0.4l-0.2,0.5l-0.1,0.4l0.1,0.5l-0.0,0.5l-0.0,0.5l-0.1,0.5l-0.2,0.5l-0.2,0.4l-0.3,0.5l-0.4,0.3l-0.5,0.1l-0.5,-0.1l-0.4,-0.3l-0.5,-0.2l-0.5,-0.1l-0.5,-0.1l-0.5,-0.1l-0.5,0.0l-0.5,0.1l-0.5,0.1l-0.4,0.2l-0.4,0.3l-0.3,0.4l-0.3,0.4l-0.4,0.3l-0.4,0.2l-0.5,0.3l-0.5,0.1l-0.5,0.1l-0.5,-0.1l-0.4,-0.1l-0.5,-0.1l-0.5,0.0l-0.5,0.2l-0.4,0.3l-0.2,0.5l-0.0,0.5l0.0,0.5l0.1,0.5l-0.0,0.5l0.1,0.4l0.1,0.5l0.1,0.5l0.2,0.5l0.1,0.5l0.0,0.5l0.0,0.5l-0.1,0.5l-0.2,0.4l-0.4,0.3l-0.4,0.3l-0.5,0.1l-0.5,-0.0l-0.5,-0.1l-0.4,-0.2l-0.5,-0.2l-0.5,-0.1l-0.5,0.1l-0.5,0.0l-0.5,0.1l-0.5,0.1l-0.5,-0.0l-0.5,-0.2l-0.4,-0.2l-0.5,-0.2l-0.4,-0.2l-0.4,-0.3l-0.5,-0.2l-0.5,-0.1l-0.4,0.1l-0.5,0.0l-0.5,0.0l-0.5,-0.0l-0.5,-0.2l-0.3,-0.4l-0.1,-0.5l0.1,-0.5l0.3,-0.4l0.4,-0.3l0.5,-0.0l0.4,0.1l0.5,0.2l0.5,0.1l0.5,-0.0l0.3,-0.4l0.1,-0.5l-0.0,-0.5l-0.2,-0.5l-0.3,-0.4l-0.5,-0.1l-0.5,-0.1l-0.4,-0.2l-0.5,-0.2l-0.4,-0.3l-0.3,-0.3l-0.4,-0.4l-0.3,-0.3l-0.5,-0.3l-0.5,-0.0l-0.4,0.2l-0.4,0.3l-0.5,0.2l-0.4,0.3l-0.2,0.4l-0.2,0.5l-0.1,0.5l-0.3,0.4l-0.3,0.3l-0.5,0.2l-0.5,-0.0l-0.5,-0.2l-0.4,-0.2l-0.4,-0.3l-0.4,-0.4l-0.2,-0.4l-0.1,-0.5l-0.1,-0.5l0.1,-0.5l0.1,-0.5l0.1,-0.4l0.2,-0.5l0.1,-0.5l-0.1,-0.5l-0.4,-0.3l-0.5,0.1l-0.4,0.3l-0.3,0.4l-0.3,0.4l-0.3,0.4l-0.2,0.5l-0.2,0.4l-0.4,0.3l-0.4,0.3l-0.4,0.3l-0.5,0.1l-0.5,0.1l-0.5,0.0l-0.5,0.1l-0.5,0.0l-0.5,0.0l-0.5,0.1l-0.5,0.1l-0.4,0.2l-0.3,0.4l-0.4,0.4l-0.4,0.3l-0.5,0.1l-0.4,-0.2l-0.4,-0.3l-0.1,-0.5l0.0,-0.5l0.2,-0.4l0.2,-0.5l0.2,-0.5l0.0,-0.5l-0.1,-0.4l-0.2,-0.5l-0.4,-0.3l-0.5,-0.0l-0.4,0.1l-0.3,0.4l-0.2,0.5l0.1,0.5l0.1,0.5l0.1,0.5l-0.2,0.4l-0.2,0.5l-0.3,0.4l-0.4,0.3l-0.5,0.1l-0.5,-0.1l-0.4,-0.3l-0.2,-0.4l-0.2,-0.5l-0.0,-0.5l0.0,-0.5l0.2,-0.5l0.2,-0.4l0.3,-0.4l0.3,-0.4l0.3,-0.4l0.2,-0.4l0.1,-0.5l-0.1,-0.5l-0.2,-0.5l-0.4,-0.3l-0.5,-0.1l-0.5,-0.1l-0.5,0.1l-0.4,0.3l-0.5,0.2l-0.4,0.1l-0.5,0.2l-0.5,0.1l-0.4,0.2l-0.4,0.4l-0.2,0.4l-0.0,0.5l0.1,0.5l0.0,0.5l-0.2,0.4l-0.5,0.3l-0.5,0.1l-0.4,-0.1l-0.5,-0.2l-0.4,-0.3l-0.3,-0.4l-0.2,-0.4l-0.1,-0.5l-0.0,-0.5l-0.1,-0.5l-0.2,-0.5l-0.3,-0.4l-0.3,-0.4l-0.4,-0.3l-0.3,-0.4l-0.5,-0.2l-0.4,-0.3l-0.4,-0.3l-0.3,-0.4l-0.2,-0.4l0.1,-0.5l0.2,-0.5l0.3,-0.4l0.2,-0.4l0.2,-0.5l0.2,-0.5l0.0,-0.5l-0.1,-0.5l-0.3,-0.4l-0.4,-0.2l-0.5,-0.2l-0.4,-0.2l-0.5,-0.3l-0.4,-0.2 M587.4,245.9l0.5,0.1l0.5,-0.0l0.5,0.0l0.5,0.2l0.3,0.3l0.3,0.4l0.1,0.5l-0.1,0.5l0.1,0.5l0.0,0.5l0.1,0.5l0.1,0.5l0.2,0.4l0.3,0.4l0.4,0.3l0.3,0.4l0.4,0.3l0.5,0.1l0.5,-0.1l0.4,-0.2l0.4,-0.3l0.3,-0.4l0.3,-0.5l0.1,-0.4l-0.1,-0.5l-0.0,-0.5l-0.0,-0.5l0.1,-0.5l0.3,-0.4l0.3,-0.4l0.4,-0.3l0.5,0.1l0.4,0.4l0.1,0.4l0.1,0.5l0.1,0.5l-0.0,0.5l-0.0,0.5l-0.0,0.5l0.1,0.5l0.2,0.5l0.0,0.5l0.1,0.5l0.1,0.5l0.0,0.5l-0.1,0.5l-0.1,0.4l-0.1,0.5l-0.0,0.5l-0.0,0.5l0.0,0.5l0.3,0.5l0.3,0.3l0.4,0.3l0.5,0.2l0.4,0.2l0.5,0.3l0.1,0.4l-0.1,0.5l-0.4,0.3l-0.3,0.4l-0.2,0.5l-0.1,0.5l0.2,0.4l0.3,0.4l0.5,0.3l0.4,0.1l0.5,-0.1l0.5,-0.2l0.4,-0.3l0.4,-0.3l0.5,-0.2l0.4,-0.2l0.5,-0.1l0.5,-0.1l0.5,-0.1l0.5,0.1l0.4,0.2l0.5,0.3l0.4,0.2l0.3,0.4l0.2,0.5l0.1,0.4l0.3,0.5l0.4,0.2l0.5,-0.0l0.4,-0.3l0.4,-0.3l0.4,-0.3l0.5,-0.2l0.4,-0.2l0.5,-0.2l0.4,-0.2l0.4,-0.3l0.5,-0.3l0.4,-0.2l0.4,-0.3l0.2,-0.5l0.1,-0.5l-0.0,-0.5l-0.1,-0.4l-0.3,-0.5l-0.3,-0.3l-0.5,-0.1l-0.5,0.2l-0.3,0.4l-0.4,0.3l-0.3,0.4l-0.3,0.4l-0.3,0.4l-0.2,0.5l-0.0,0.5l0.2,0.4l0.4,0.3l0.5,0.0l0.5,-0.0l0.4,-0.2l0.4,-0.3l0.4,-0.4l0.4,-0.3l0.4,-0.2l0.4,-0.4l0.4,-0.3l0.4,-0.2l0.5,-0.2l0.4,-0.3l0.3,-0.4l0.4,-0.3l0.3,-0.4l0.5,-0.0l0.5,0.1l0.4,0.3l0.2,0.5l0.2,0.4l0.3,0.4l0.3,0.4l0.4,0.3l0.5,0.2l0.4,0.2l0.4,0.4l0.2,0.5l0.1,0.4l0.3,0.5l0.4,0.3l0.4,0.1l0.5,-0.1l0.4,-0.4l0.2,-0.4l0.0,-0.5l0.1,-0.5l0.2,-0.4l0.4,-0.4l0.4,-0.2l0.5,0.1l0.5,0.2l0.4,0.2l0.5,0.2l0.4,0.3l0.4,0.3l0.4,0.3l0.4,0.3l0.4,0.3l0.4,0.2l0.5,0.1l0.5,-0.1l0.5,-0.1l0.4,-0.3l0.4,-0.3l0.2,-0.4l-0.0,-0.5l-0.4,-0.4l-0.5,-0.1l-0.4,0.1l-0.4,0.4l-0.1,0.4l0.2,0.5l0.4,0.3l0.5,0.1l0.5,-0.1l0.4,-0.2l0.5,-0.3l0.4,-0.1l0.5,0.0l0.5,0.2l0.4,0.3l0.2,0.4l-0.3,0.4l-0.4,0.3l-0.5,0.2l-0.4,0.3l-0.3,0.4l-0.2,0.4l-0.3,0.4l-0.4,0.3l-0.4,0.3l-0.4,0.3l-0.3,0.4l-0.3,0.4l-0.1,0.5l0.0,0.5l0.2,0.5l0.3,0.4l0.3,0.4l0.4,0.3l0.4,0.2l0.5,0.0l0.5,0.0l0.5,0.1l0.5,0.0l0.5,0.2l0.5,0.1l0.4,0.2l0.5,0.2l0.3,0.4l0.0,0.5l-0.1,0.5l-0.3,0.4l-0.4,0.4l-0.4,0.2l-0.5,0.2l-0.5,-0.0l-0.4,-0.3l-0.4,-0.3l-0.3,-0.3l-0.2,-0.5l0.0,-0.5l0.4,-0.3l0.5,-0.1l0.4,0.3l0.3,0.4l-0.1,0.5l-0.2,0.4l-0.4,0.3l-0.4,0.3l-0.4,0.4l-0.3,0.3l-0.3,0.4l-0.2,0.5l0.0,0.5l0.2,0.4l0.5,0.3l0.4,-0.1l0.4,-0.3l0.3,-0.4l0.4,-0.4l0.4,-0.2l0.5,-0.1l0.5,0.1l0.4,0.3l0.4,0.3l0.3,0.4l0.2,0.5l-0.0,0.5l-0.2,0.4l-0.2,0.5l-0.1,0.5l-0.0,0.5l-0.2,0.4l-0.1,0.5l-0.1,0.5l0.1,0.5l0.2,0.5l-0.0,0.5l0.1,0.5l0.2,0.4l0.3,0.4l0.2,0.5l0.1,0.5l-0.2,0.4l-0.4,0.4l-0.4,0.2l-0.5,0.2l-0.5,0.0l-0.5,-0.1l-0.4,-0.2l-0.4,-0.3l-0.4,-0.2l-0.5,-0.3l-0.5,-0.1l-0.4,-0.1l-0.5,-0.1l-0.5,-0.1l-0.4,-0.4l-0.1,-0.5l-0.3,-0.4l-0.4,-0.3l-0.5,-0.1l-0.5,-0.1l-0.5,0.1l-0.4,0.3l-0.3,0.4l-0.2,0.4l-0.1,0.5l-0.1,0.5l0.0,0.5l0.1,0.5l0.0,0.5l0.2,0.5l0.2,0.4l0.3,0.4l0.4,0.3l0.5,-0.0l0.5,-0.2l0.5,-0.0l0.5,0.1l0.3,0.3l0.3,0.4l0.1,0.5l-0.1,0.5l-0.2,0.4l-0.3,0.4l-0.4,0.4l-0.4,0.3l-0.4,0.2l-0.4,0.3l-0.4,0.3l-0.4,0.4l-0.1,0.4l0.1,0.5l0.4,0.4l0.4,0.2l0.5,0.2l0.5,0.1l0.5,0.1l0.5,-0.1l0.4,-0.2l0.4,-0.2l0.5,-0.2l0.4,-0.2l0.5,-0.3l0.3,-0.4l0.3,-0.4l0.2,-0.4l0.3,-0.5l0.3,-0.3l0.4,-0.3l0.5,-0.1l0.5,0.1l0.4,0.2l0.3,0.4l0.3,0.4l0.3,0.5l0.3,0.3l0.5,0.2l0.5,0.0l0.4,-0.1l0.5,-0.2l0.4,-0.3l0.2,-0.5l0.2,-0.5l0.0,-0.5l0.1,-0.4l0.2,-0.5l0.3,-0.4l0.4,-0.3l0.3,-0.4l0.4,-0.3l0.4,-0.3l0.5,-0.1l0.5,-0.1l0.5,0.0l0.5,0.1l0.4,0.2l0.5,-0.1l0.4,-0.3l0.3,-0.4l0.3,-0.4l0.1,-0.5l-0.0,-0.5l-0.1,-0.5l-0.3,-0.4l-0.4,-0.3l-0.4,-0.2l-0.5,-0.1l-0.5,-0.2l-0.3,-0.4l0.1,-0.5l0.3,-0.3l0.5,-0.2l0.4,-0.2l0.5,-0.0l0.5,0.0l0.5,0.1l0.5,0.2l0.5,0.0l0.5,-0.1l0.4,-0.2l0.4,-0.4l0.2,-0.4l0.2,-0.5l0.3,-0.4l0.3,-0.3l0.3,-0.5l0.2,-0.4l0.1,-0.5l0.1,-0.5l-0.1,-0.5l-0.2,-0.5l-0.4,-0.3l-0.4,-0.3l-0.4,-0.1l-0.5,0.1l-0.4,0.3l-0.4,0.3l-0.3,0.4l-0.3,0.4l-0.4,0.3l-0.4,0.2l-0.5,0.1l-0.5,-0.1l-0.5,0.1l-0.5,0.0l-0.5,0.1l-0.5,0.1l-0.4,0.3l-0.4,0.3l-0.3,0.4l-0.0,0.5l0.1,0.4l0.3,0.5l0.3,0.4l0.1,0.5l0.1,0.4l0.1,0.5l0.2,0.5l-0.0,0.5 M616.3,252.8l0.2,-0.5l0.1,-0.5l-0.1,-0.5l-0.2,-0.4l-0.2,-0.4l-0.4,-0.4l-0.4,-0.3l-0.4,-0.3l-0.2,-0.4l-0.2,-0.5l-0.0,-0.5l0.2,-0.5l0.2,-0.4l0.2,-0.5l0.2,-0.4l0.3,-0.4l0.4,-0.3l0.5,-0.1l0.5,0.1l0.4,0.2l0.5,0.3l0.4,0.2l0.5,0.2l0.4,0.1l0.5,0.2l0.5,0.2l0.5,0.1l0.5,-0.1l0.4,-0.2l0.3,-0.3l0.2,-0.5l0.0,-0.5l-0.1,-0.5l-0.1,-0.5l-0.2,-0.4l-0.0,-0.5l0.0,-0.5l0.1,-0.5l-0.1,-0.5l-0.1,-0.5l-0.2,-0.5l-0.0,-0.5l-0.1,-0.5l-0.0,-0.5l-0.1,-0.5l-0.3,-0.4l-0.3,-0.3l-0.5,-0.3l-0.4,-0.2l-0.5,-0.2l-0.4,-0.3l-0.2,-0.4l-0.1,-0.5l0.1,-0.5l0.4,-0.3l0.5,-0.1l0.5,0.1l0.5,0.1l0.5,0.1l0.5,0.2l0.5,0.1l0.4,-0.1l0.5,-0.1l0.5,-0.1l0.5,-0.1l0.5,-0.1l0.5,0.2l0.3,0.3l0.2,0.5l0.1,0.5l-0.1,0.5l-0.2,0.4l-0.3,0.4l-0.4,0.3l-0.5,0.1l-0.5,-0.0l-0.5,-0.2l-0.5,-0.0l-0.5,0.1l-0.3,0.4l0.1,0.5l0.2,0.4l0.5,0.0l0.4,-0.2l0.4,-0.3l0.4,-0.4l0.4,-0.3l0.4,-0.2l0.5,-0.1l0.5,0.1l0.5,0.1l0.4,0.3l0.2,0.4l-0.3,0.4l-0.4,0.2l-0.5,0.1l-0.5,0.0l-0.5,0.1l-0.7,0.3l-0.3,0.4l-0.1,0.4l0.1,0.5 M604.8,251.7l0.3,-0.4l0.4,-0.3l0.3,-0.4l0.1,-0.5l0.0,-0.5l-0.2,-0.5l-0.3,-0.4l-0.4,-0.2l-0.5,-0.1l-0.5,-0.0l-0.5,-0.2l-0.3,-0.4l-0.1,-0.5l0.0,-0.5l0.2,-0.5l0.3,-0.4l0.3,-0.3l0.4,-0.4l0.2,-0.4l0.3,-0.4l0.3,-0.4l0.4,-0.3l0.5,-0.2l0.5,-0.2l0.4,-0.1l0.5,0.1l0.5,0.2l0.3,0.4l0.3,0.4l0.3,0.4l0.4,0.3l0.3,0.4l0.3,0.4l0.3,0.4l0.4,0.3l0.5,-0.0l0.5,-0.1l0.4,-0.3l0.4,-0.4l0.2,-0.4l0.2,-0.5l0.3,-0.4l0.3,-0.4l0.4,-0.3l0.3,-0.4l0.4,-0.2l0.4,-0.3l0.5,-0.3l0.4,-0.2l0.5,-0.2l0.5,-0.1l0.5,-0.1l0.4,-0.1l0.5,-0.3l0.4,-0.3l0.3,-0.3l0.1,-0.5l0.0,-0.5l-0.1,-0.5l-0.2,-0.4l-0.4,-0.4l-0.5,-0.2l-0.4,-0.1l-0.5,-0.2l-0.4,-0.3l-0.1,-0.5l-0.1,-0.5l0.1,-0.5l0.5,-0.5l0.5,0.0l0.5,0.2l0.4,0.3l0.2,0.4 M606.7,248.9l0.3,-0.4l0.4,-0.3l0.5,-0.1l0.5,-0.1l0.5,0.2l0.4,0.2l0.5,0.1l0.5,0.1l0.5,0.0l0.5,-0.2l0.4,-0.2l0.5,-0.2l0.4,-0.3l0.2,-0.4l-0.0,-0.5l-0.4,-0.4l-0.4,-0.2l-0.5,-0.1l-0.5,-0.1l-0.5,-0.1l-0.5,0.0l-0.4,-0.2l-0.4,-0.3l-0.2,-0.5l-0.1,-0.5l-0.1,-0.5l-0.0,-0.4l0.1,-0.5l0.3,-0.4l0.3,-0.4l0.5,-0.2l0.5,0.0l0.5,0.1l0.5,0.0l0.5,0.1l0.4,0.2l0.5,0.2l0.5,0.1l0.5,0.1l0.5,0.0l0.5,0.1l0.4,0.2l0.5,0.2l0.5,0.0l0.5,0.1l0.5,0.2l0.4,0.2l0.3,0.4l0.1,0.5l0.0,0.5l-0.2,0.5l-0.1,0.4l-0.2,0.5l-0.3,0.4l-0.3,0.4l-0.3,0.4l-0.2,0.4l-0.1,0.5l-0.1,0.5l-0.1,0.5l0.2,0.5l0.2,0.4l0.0,0.5l-0.0,0.5l-0.1,0.5l-0.3,0.4l-0.3,0.4l-0.4,0.3l-0.5,0.2l-0.5,0.1l-0.5,0.1l-0.4,0.0l-0.5,-0.0l-0.5,-0.0l-0.5,-0.2l-0.3,-0.4l-0.1,-0.5l0.1,-0.5l0.3,-0.4l0.3,-0.4l0.4,-0.3l0.5,-0.2l0.5,-0.0l0.5,0.1l0.4,0.2l0.5,0.1l0.5,0.2l0.3,0.4l-0.1,0.5l-0.1,0.4l-0.2,0.5l-0.3,0.4l-0.4,0.4 M578.5,245.9l-0.2,0.4l-0.4,0.4l-0.3,0.4l-0.3,0.4l-0.3,0.4l-0.3,0.4l-0.1,0.4l-0.0,0.5l0.1,0.5l0.3,0.4l0.4,0.4l0.3,0.3l0.3,0.4l0.0,0.5l-0.0,0.5l-0.3,0.5l-0.3,0.3l-0.3,0.5l-0.1,0.4l-0.2,0.5l-0.3,0.4l-0.4,0.4l-0.4,0.2l-0.5,0.1l-0.4,-0.2l-0.4,-0.3l-0.3,-0.4l-0.2,-0.5l-0.3,-0.4l-0.1,-0.5l-0.1,-0.5l-0.2,-0.4l-0.4,-0.3l-0.5,-0.1l-0.5,0.1l-0.4,0.2l-0.3,0.5l-0.1,0.7l0.2,0.4l0.4,0.4 M506.6,238.5l0.5,0.1l0.5,0.0l0.5,0.0l0.4,0.3l0.4,0.3l0.3,0.4l0.2,0.5l0.4,0.3l0.5,0.0l0.5,-0.0l0.5,-0.1l0.5,-0.1l0.4,-0.2l0.5,-0.2l0.4,-0.3l0.4,-0.3l0.5,-0.2l0.5,-0.0l0.4,0.1l0.4,0.4l0.2,0.4l0.2,0.5l0.1,0.4l0.0,0.5l-0.1,0.5l-0.3,0.4l-0.5,0.1l-0.5,-0.0l-0.4,-0.3l-0.2,-0.4l-0.1,-0.5l-0.1,-0.5l0.1,-0.5l0.2,-0.4l0.3,-0.4l0.4,-0.3l0.5,-0.2l0.4,-0.2l0.5,-0.3l0.4,-0.2l0.5,-0.2l0.4,-0.3l0.4,-0.3l0.4,-0.3l0.3,-0.4l0.3,-0.4l0.4,-0.3l0.4,-0.2l0.5,0.1l0.4,0.3l0.2,0.4l0.1,0.5l-0.0,0.5l-0.0,0.5l0.1,0.5l0.2,0.4l0.4,0.4l0.4,0.3l0.3,0.3l0.3,0.5l0.4,0.3l0.4,0.3l0.3,0.3l0.4,0.4l0.4,0.3l0.5,0.1l0.5,0.0l0.4,-0.2l0.3,-0.4l0.2,-0.5l-0.1,-0.4l-0.3,-0.4l-0.3,-0.4l-0.3,-0.4l0.0,-0.5l0.3,-0.5l0.4,-0.3l0.5,-0.1l0.4,0.0l0.4,0.4l0.0,0.5l-0.1,0.5l-0.3,0.4l-0.2,0.4l-0.1,0.5l0.1,0.5l0.3,0.3l0.5,0.2l0.5,0.1l0.5,-0.1l0.4,-0.3l0.4,-0.3l0.4,-0.3l0.5,-0.0l0.5,-0.0l0.5,0.0l0.5,0.0l0.5,0.3l0.2,0.4l0.1,0.5l0.1,0.5l0.1,0.5l0.1,0.4l0.2,0.5l0.1,0.5l0.2,0.5l0.2,0.4l0.1,0.5l0.1,0.5l0.1,0.5l0.2,0.4l0.2,0.5l0.1,0.5l-0.0,0.5l-0.1,0.5l0.2,0.5l0.3,0.4l0.3,0.3l0.4,0.4l0.4,0.2l0.5,0.1l0.5,0.2l0.5,0.1l0.4,0.2l0.5,0.2l0.5,0.1l0.5,0.1l0.4,0.1l0.5,0.1l0.5,0.1l0.5,0.1l0.5,-0.0l0.5,-0.1l0.5,-0.2l0.4,-0.2l0.5,0.1l0.4,0.3l0.3,0.4l0.1,0.5l-0.1,0.4l-0.3,0.4l-0.5,0.2l-0.5,-0.0l-0.4,-0.4l-0.2,-0.4l-0.2,-0.5l0.0,-0.5l0.1,-0.4l0.3,-0.5l0.4,-0.3l0.4,-0.1l0.5,0.0l0.5,0.2l0.5,0.1l0.5,0.2l0.4,0.1l0.5,0.1l0.5,-0.0l0.5,-0.2l0.5,-0.0l0.5,0.1l0.4,0.3l0.3,0.4l0.4,0.2l0.5,0.1l0.5,-0.0l0.5,0.0l0.4,0.3l0.3,0.4l0.4,0.3l0.4,0.4l0.3,0.3l0.4,0.3l0.4,0.3l0.5,0.2l0.4,0.2l0.4,0.3l0.1,0.5l-0.1,0.5l-0.4,0.3l-0.5,0.2l-0.5,-0.2l-0.4,-0.2l-0.2,-0.5l-0.0,-0.4l0.3,-0.4l0.4,-0.2l0.5,0.1l0.3,0.4l0.2,0.5l0.2,0.5l0.3,0.3l0.7,0.4l0.5,-0.1l0.4,-0.3 M513.0,270.0l0.5,-0.2l0.5,-0.1l0.4,-0.1l0.4,-0.3l0.2,-0.5l0.1,-0.5l0.2,-0.4l0.3,-0.4l0.5,-0.3l0.4,-0.1l0.5,-0.1l0.5,-0.1l0.5,0.0l0.5,0.0l0.5,0.0l0.5,-0.0l0.5,-0.1l0.5,0.1l0.5,0.2l0.4,0.3l0.3,0.4l0.4,0.3l0.4,0.3l0.4,0.4l0.2,0.4l0.3,0.4l0.3,0.4l0.3,0.4l0.3,0.4l0.2,0.4l0.1,0.5l0.1,0.5l-0.1,0.5l-0.1,0.5l-0.2,0.5l-0.3,0.4l-0.4,0.2l-0.5,0.1l-0.5,-0.1l-0.5,-0.2l-0.4,-0.2l-0.4,-0.3l-0.4,-0.3l-0.4,-0.3l-0.2,-0.5l-0.0,-0.5l0.2,-0.4l0.5,-0.3l0.4,-0.1l0.5,0.0l0.5,0.1l0.5,0.1l0.5,-0.0l0.5,-0.2l0.5,-0.1l0.5,-0.0l0.5,0.1l0.4,0.2l0.4,0.3l0.2,0.4l0.1,0.5l0.1,0.5l0.0,0.5l-0.1,0.5l-0.0,0.5l0.0,0.5l0.3,0.5l0.3,0.3l0.4,0.3l0.4,0.3l0.4,0.4l0.4,0.3l0.3,0.3l0.3,0.4l0.3,0.4l0.1,0.5l-0.3,0.5l-0.4,0.2l-0.5,0.2l-0.5,0.1l-0.4,0.1l-0.5,0.3l-0.3,0.3l-0.3,0.4l-0.3,0.5l-0.2,0.4l-0.3,0.4l-0.4,0.4l-0.3,0.3l-0.4,0.3l-0.3,0.4l-0.2,0.5l0.1,0.5l0.1,0.4l0.3,0.4l0.4,0.4l0.3,0.4l0.4,0.3l0.5,0.0l0.4,-0.2l0.4,-0.4l0.1,-0.4l-0.0,-0.5l-0.2,-0.5l-0.3,-0.3l-0.5,-0.2l-0.5,0.2l-0.3,0.4l-0.5,0.2l-0.4,0.2l-0.5,0.1l-0.5,-0.1l-0.5,-0.1l-0.5,0.0l-0.5,0.1l-0.5,0.3l-0.3,0.3l-0.3,0.4l-0.2,0.4l-0.1,0.5l-0.1,0.5l-0.2,0.5l-0.4,0.2l-0.5,0.0l-0.5,-0.2l-0.4,-0.2l-0.5,-0.2l-0.4,-0.2l-0.5,-0.2l-0.4,-0.3l-0.3,-0.3l-0.3,-0.4l-0.4,-0.4l-0.4,-0.3l-0.5,-0.1l-0.5,0.1l-0.5,-0.1l-0.4,-0.1l-0.4,-0.4l-0.2,-0.4l0.0,-0.5l0.2,-0.5l0.1,-0.5l0.2,-0.4l0.2,-0.5l0.0,-0.5l0.2,-0.5l0.3,-0.3l0.5,-0.3l0.4,-0.3l0.5,-0.1l0.5,-0.0l0.5,0.1l0.4,0.2l0.4,0.3l0.0,0.5l-0.1,0.5l-0.3,0.4l-0.4,0.3l-0.5,0.3l-0.4,0.1l-0.5,-0.0l-0.5,-0.3l-0.3,-0.3l-0.3,-0.4l-0.3,-0.4l-0.3,-0.4l-0.3,-0.5l-0.1,-0.4l0.1,-0.5l0.2,-0.5l0.2,-0.5l0.2,-0.4l0.1,-0.5l0.2,-0.5l0.4,-0.3l0.4,-0.2l0.5,0.1l0.4,0.3l0.3,0.4l0.3,0.4l0.3,0.4l0.3,0.4l0.4,0.3l0.5,0.1l0.4,-0.1l0.4,-0.4l0.4,-0.3l0.4,-0.3l0.4,-0.3l0.4,-0.2l0.5,-0.2l0.4,-0.3l0.4,-0.3l0.3,-0.4l0.2,-0.4l0.2,-0.5l0.2,-0.5l-0.1,-0.5l-0.2,-0.4l-0.5,-0.2l-0.4,0.2l-0.3,0.5l-0.1,0.5l0.1,0.5l0.1,0.4l0.2,0.5l0.3,0.4l0.4,0.4l0.2,0.4l0.1,0.5l-0.0,0.5l-0.0,0.5l0.3,0.3l0.5,0.1l0.5,-0.2l0.4,-0.1l0.5,-0.0l0.5,0.1l0.5,0.1l0.5,0.1l0.5,-0.0l0.6,-0.4l0.2,-0.4"/></defs>
<use href="#c4" stroke="#9c961c" stroke-width="1.3"/>
<use href="#c4" stroke="#e6e040" stroke-width="0.65"/>
<defs><path id="c5" d="M635.0,139.1l-0.3,0.4l-0.3,0.4l-0.2,0.5l-0.1,0.4l-0.1,0.5l0.0,0.5l-0.1,0.5l-0.4,0.4l-0.5,0.0l-0.5,-0.1l-0.4,-0.2l-0.3,-0.4l-0.2,-0.5l-0.2,-0.4l-0.5,-0.3l-0.5,0.1l-0.4,0.2l-0.3,0.4l-0.2,0.5l-0.1,0.5l-0.1,0.5l-0.1,0.4l-0.2,0.5l-0.3,0.4l-0.2,0.5l-0.2,0.4l-0.1,0.5l-0.1,0.5l-0.2,0.5l-0.4,0.3l-0.5,0.2l-0.5,-0.0l-0.4,-0.1l-0.5,-0.1l-0.5,-0.1l-0.5,-0.1l-0.5,-0.1l-0.5,0.0l-0.5,-0.0l-0.5,-0.0l-0.5,-0.1l-0.5,-0.2l-0.3,-0.3l-0.2,-0.5l0.2,-0.5l0.3,-0.4l0.4,-0.1l0.5,0.2l0.4,0.3l0.3,0.3l0.4,0.4l0.3,0.4l0.2,0.5l0.1,0.4l0.1,0.5l0.2,0.5l0.1,0.5l0.2,0.5l-0.0,0.5l-0.1,0.4l0.0,0.5l0.2,0.5l0.3,0.4l0.2,0.5l0.0,0.5l-0.0,0.5l-0.2,0.5l-0.1,0.4l-0.2,0.5l-0.2,0.5l-0.2,0.4l-0.3,0.4l-0.4,0.3l-0.3,0.4l-0.3,0.4l-0.3,0.5l-0.1,0.4l-0.1,0.5l0.0,0.5l0.2,0.5l0.1,0.5l-0.1,0.5l-0.3,0.4l-0.3,0.3l-0.4,0.3l-0.4,0.3l-0.5,-0.0l-0.5,-0.2l-0.5,-0.2l-0.5,0.0l-0.4,0.2l-0.4,0.3l-0.3,0.5l-0.2,0.4l-0.4,0.3l-0.5,0.1l-0.5,-0.2l-0.3,-0.3l-0.4,-0.4l-0.4,-0.3l-0.4,-0.2l-0.4,-0.3l-0.5,-0.2l-0.3,-0.4l-0.3,-0.4l0.0,-0.5l0.4,-0.3l0.5,-0.0l0.5,0.1l0.3,0.4l0.3,0.4l0.1,0.5l0.0,0.5l-0.1,0.5l0.0,0.5l0.1,0.5l-0.0,0.5l-0.1,0.4l-0.1,0.5l-0.1,0.5l-0.1,0.5l-0.1,0.5l0.1,0.5l0.3,0.4l0.4,0.2l0.5,0.1l0.5,0.1l0.4,0.3l0.3,0.4l-0.1,0.5l-0.4,0.3l-0.4,0.4l-0.3,0.3l-0.2,0.5l-0.2,0.4l-0.3,0.5l-0.2,0.4l-0.3,0.4l-0.2,0.5l-0.1,0.5l0.1,0.4l0.3,0.5l0.3,0.4l0.3,0.4l0.4,0.3l0.5,0.2l0.4,0.1l0.5,0.1l0.5,-0.1l0.5,-0.0l0.5,-0.3l0.3,-0.4l0.2,-0.4l0.2,-0.4l0.3,-0.5l0.2,-0.4l0.3,-0.4l0.3,-0.4l0.2,-0.5l0.3,-0.4l0.3,-0.4l0.4,-0.2l0.5,-0.0l0.5,0.2l0.4,0.3l0.2,0.4l0.1,0.5l0.1,0.5l0.0,0.5l-0.0,0.5l-0.1,0.5l0.2,0.5l0.3,0.3l0.5,0.2l0.5,0.1l0.5,-0.1l0.5,-0.1l0.4,-0.1l0.5,-0.2l0.5,-0.0l0.5,-0.2l0.3,-0.4l0.1,-0.5l-0.1,-0.4l-0.1,-0.5l-0.1,-0.5l-0.2,-0.5l0.0,-0.5l0.1,-0.5l0.0,-0.5l0.1,-0.5l0.0,-0.5l-0.0,-0.5l-0.3,-0.4l-0.4,-0.2l-0.5,-0.2l-0.5,-0.0l-0.5,-0.0l-0.5,0.1l-0.5,0.1l-0.5,0.1l-0.5,-0.1l-0.4,-0.2l-0.5,-0.1l-0.4,-0.3l-0.4,-0.4l-0.3,-0.4l-0.4,-0.3l-0.4,-0.2l-0.4,-0.3l-0.4,-0.4l-0.1,-0.4l0.0,-0.5l0.2,-0.5l0.2,-0.5l0.1,-0.5l0.1,-0.5 M622.6,156.1l0.5,-0.0l0.5,-0.1l0.4,-0.3l0.4,-0.3l0.5,-0.2l0.4,-0.2l0.5,-0.1l0.5,-0.2l0.4,-0.3l0.4,-0.2l0.5,-0.3l0.4,-0.2l0.5,-0.2l0.5,-0.1l0.4,0.2l0.4,0.3l0.3,0.4l0.3,0.5l0.2,0.4l0.1,0.5l-0.2,0.4l-0.4,0.3l-0.5,0.2l-0.5,0.1l-0.5,-0.1l-0.4,-0.3l-0.2,-0.4l-0.1,-0.5l0.0,-0.5l0.1,-0.5l0.1,-0.5l0.0,-0.5l0.1,-0.5l-0.1,-0.5l0.0,-0.5l0.2,-0.4l0.4,-0.3l0.5,-0.1l0.5,0.0l0.5,0.2l0.4,0.3l0.2,0.4l0.2,0.5l0.3,0.4l0.3,0.4l0.5,0.2l0.4,0.2l0.4,0.3l0.5,0.2l0.4,0.2l0.5,0.2l0.5,0.1l0.5,0.2l0.4,0.2l0.5,0.2l0.4,0.2l0.5,0.2l0.4,0.3l0.5,0.2l0.4,0.2l0.4,0.4l0.2,0.4l0.3,0.4l0.4,0.4l0.3,0.4l0.3,0.3l0.4,0.3l0.5,0.2l0.4,0.3l0.5,0.1l0.4,-0.1l0.4,-0.3l0.2,-0.5l0.0,-0.4l0.1,-0.5l0.1,-0.5l0.0,-0.5l-0.1,-0.5l-0.2,-0.4l-0.4,-0.4l-0.4,-0.3l-0.4,-0.2l-0.5,0.2l-0.3,0.4l0.1,0.5l0.0,0.5l0.1,0.5l-0.0,0.5l-0.0,0.5l-0.1,0.5l-0.2,0.4l-0.1,0.5l-0.1,0.5l0.0,0.5l-0.1,0.5l-0.0,0.5l-0.1,0.5l-0.2,0.5l-0.3,0.3l-0.4,0.3l-0.4,0.3l-0.4,0.3l-0.3,0.4l-0.2,0.5l0.2,0.5l0.3,0.4l0.3,0.3l0.3,0.4l0.1,0.5l-0.1,0.5l-0.2,0.5l-0.1,0.5l-0.0,0.5l0.2,0.4l0.3,0.4l0.3,0.4l0.2,0.4l0.3,0.5l0.1,0.5l0.2,0.4l0.2,0.5l0.1,0.5l-0.0,0.5l-0.3,0.4l-0.4,0.3l-0.4,0.1l-0.5,0.1l-0.5,-0.2l-0.4,-0.4l-0.2,-0.4l-0.0,-0.5l0.2,-0.5l0.3,-0.4l0.5,-0.1l0.4,0.2l0.4,0.3l0.2,0.5l-0.0,0.5l-0.1,0.5l-0.1,0.5l-0.1,0.5l-0.0,0.5l0.1,0.4l0.1,0.5l-0.1,0.5l-0.2,0.5l-0.1,0.5l0.1,0.5l0.3,0.3l0.5,0.2l0.4,-0.2l0.3,-0.4l0.0,-0.5l-0.2,-0.4l-0.5,-0.3l-0.5,-0.1l-0.4,0.1l-0.5,0.3l-0.3,0.4l-0.2,0.4l-0.3,0.4l-0.1,0.5l-0.1,0.5l-0.0,0.5l0.1,0.5l0.1,0.4l0.4,0.4l0.5,0.1l0.4,-0.2l0.3,-0.4l0.2,-0.4l-0.0,-0.5l-0.0,-0.5l-0.1,-0.5l-0.1,-0.5l-0.2,-0.5l-0.3,-0.4l-0.5,-0.2l-0.5,-0.1l-0.5,0.1l-0.4,0.0l-0.5,0.0l-0.5,0.0l-0.5,0.1l-0.5,0.3l-0.3,0.4l-0.1,0.5l-0.0,0.5l-0.2,0.4l-0.2,0.5l-0.5,0.2l-0.5,-0.0l-0.4,-0.3l-0.2,-0.4l-0.1,-0.5l0.1,-0.5l0.4,-0.3l0.5,-0.1l0.5,-0.1l0.3,-0.4l0.1,-0.5l-0.2,-0.4l-0.4,-0.4l-0.4,-0.1l-0.5,0.0l-0.5,0.3l-0.4,0.3l-0.4,0.3l-0.4,0.1l-0.5,0.1l-0.5,0.1l-0.5,0.1l-0.5,-0.0l-0.4,-0.3l-0.2,-0.5l-0.1,-0.4l0.0,-0.5l-0.1,-0.5l-0.3,-0.4l-0.4,-0.3l-0.5,-0.1l-0.5,-0.0l-0.5,0.1l-0.5,0.1l-0.5,-0.0l-0.5,0.0l-0.5,0.1l-0.5,0.2l-0.4,0.2l-0.4,0.3l-0.5,0.2l-0.4,0.3l-0.5,0.1l-0.5,0.1l-0.5,-0.0l-0.4,-0.2l-0.5,-0.2l-0.3,-0.4l-0.3,-0.4l-0.4,-0.3l-0.5,0.0l-0.3,0.4l-0.1,0.5l0.1,0.4l0.1,0.5l-0.0,0.5l0.0,0.5l0.2,0.5l0.3,0.4l0.7,0.1l0.4,-0.2l0.2,-0.5l0.0,-0.5 M629.2,156.1l0.4,-0.3l0.4,-0.3l0.3,-0.4l0.4,-0.4l0.3,-0.3l0.4,-0.3l0.5,-0.2l0.4,-0.2l0.5,-0.1l0.5,0.1l0.5,0.2l0.4,0.3l0.3,0.4l0.2,0.4l0.1,0.5l-0.1,0.5l-0.1,0.5l-0.2,0.5l-0.2,0.4l-0.1,0.5l-0.1,0.5l-0.2,0.5l-0.2,0.4l-0.3,0.4l-0.3,0.4l-0.3,0.4l-0.3,0.4l-0.3,0.4l-0.5,0.1l-0.5,0.0l-0.5,-0.1l-0.4,-0.2l-0.5,-0.2l-0.4,-0.2l-0.5,-0.2l-0.4,-0.3l-0.3,-0.4l-0.2,-0.5l-0.1,-0.5l-0.3,-0.4l0.0,-0.5l0.2,-0.4l0.4,-0.4l0.4,-0.3l0.5,-0.2l0.5,0.0l0.4,0.3 M620.0,175.9l-0.2,0.4l-0.4,0.4l-0.3,0.4l-0.3,0.4l-0.1,0.5l-0.2,0.4l-0.2,0.5l-0.1,0.5l0.1,0.5l0.2,0.4l0.4,0.4l0.4,0.1l0.5,-0.0l0.3,-0.4l-0.0,-0.5l-0.3,-0.4l-0.3,-0.4l-0.5,-0.2l-0.5,-0.1l-0.4,0.2l-0.3,0.4l-0.3,0.4l-0.1,0.5l0.0,0.5l0.2,0.4l0.2,0.5l0.4,0.3l0.4,0.3l0.4,0.3l0.5,0.0l0.5,0.1l0.4,0.3l0.4,0.3l0.1,0.5l0.0,0.5l-0.1,0.5l-0.1,0.5l-0.1,0.5l0.0,0.5l-0.0,0.5l-0.0,0.5l-0.0,0.5l-0.3,0.4l-0.4,0.3l-0.4,0.2l-0.5,-0.1l-0.5,0.0l-0.5,0.3l-0.3,0.3l-0.4,0.3l-0.2,0.5l-0.1,0.5l-0.0,0.5l-0.0,0.5l0.1,0.4l0.3,0.5l0.3,0.3l0.5,0.3l0.4,0.1l0.5,0.1l0.5,0.2l0.5,0.2l0.4,0.2l0.4,0.4l0.3,0.4l0.4,0.2l0.5,0.2l0.4,0.3l0.3,0.4l0.1,0.5l0.1,0.5l0.0,0.5l-0.1,0.5l-0.3,0.4l-0.4,0.3l-0.4,0.3l-0.5,0.2l-0.4,0.2l-0.4,0.2l-0.5,0.3l-0.4,0.2l-0.5,0.1l-0.5,-0.0l-0.5,-0.2l-0.4,-0.2l-0.4,-0.3l-0.4,-0.2l-0.5,-0.3l-0.4,-0.3l-0.3,-0.3l-0.4,-0.4l-0.4,-0.3l-0.4,-0.3l-0.5,-0.1l-0.5,0.1l-0.5,0.0l-0.5,0.1l-0.4,0.2l-0.5,0.3l-0.4,0.3l-0.4,0.3l-0.3,0.4l-0.2,0.4l-0.2,0.5l-0.2,0.4l-0.5,0.3l-0.4,0.1l-0.5,-0.0l-0.5,-0.2l-0.4,-0.3l-0.4,-0.3l-0.2,-0.5l-0.1,-0.5l0.2,-0.5l0.2,-0.4l0.4,-0.3l0.4,-0.3l0.5,0.0l0.5,0.1l0.5,0.2l0.5,0.1l0.5,0.1l0.4,0.3l0.3,0.4l0.1,0.4l0.0,0.5l-0.2,0.5l-0.4,0.3l-0.4,0.1l-0.5,0.2l-0.4,0.3l-0.5,0.2l-0.4,0.1l-0.5,0.2l-0.4,0.4l-0.3,0.4l-0.3,0.4l-0.3,0.4l-0.2,0.4l-0.2,0.5l-0.0,0.5l-0.0,0.5l-0.1,0.5l-0.0,0.5l-0.2,0.4l-0.3,0.4l-0.5,0.1l-0.5,-0.1l-0.3,-0.3l-0.2,-0.5l-0.0,-0.5l-0.1,-0.5l0.0,-0.5l0.1,-0.5l-0.0,-0.5l0.0,-0.5l0.1,-0.5l0.2,-0.5l0.2,-0.4l0.3,-0.4l0.4,-0.3l0.5,-0.2l0.4,-0.2l0.3,-0.4l0.2,-0.5l0.0,-0.5l0.2,-0.4l0.3,-0.4l0.4,-0.3l0.4,-0.3l0.4,-0.4l0.2,-0.4l0.2,-0.5l0.2,-0.5l0.2,-0.4l0.3,-0.4l0.4,-0.4l0.2,-0.4l0.3,-0.4l0.0,-0.5l-0.1,-0.5l-0.4,-0.3l-0.5,-0.1l-0.5,0.1l-0.4,0.2l-0.5,0.2l-0.4,0.3l-0.4,0.3l-0.4,0.3l-0.5,-0.1l-0.3,-0.4l-0.0,-0.5l0.3,-0.4l0.4,-0.3l0.3,-0.3l0.4,-0.4l0.3,-0.3l0.3,-0.5l0.0,-0.5l-0.0,-0.4l-0.5,-0.3l-0.4,-0.1l-0.5,-0.1l-0.4,-0.3l-0.4,-0.4l-0.2,-0.4l-0.3,-0.4l-0.3,-0.4l-0.1,-0.5l-0.2,-0.5l-0.2,-0.4l-0.3,-0.5l-0.3,-0.3l-0.4,-0.3l-0.4,-0.3l-0.5,-0.2l-0.5,-0.1l-0.5,0.0l-0.5,0.1l-0.4,0.2l-0.4,0.4l-0.1,0.5l0.1,0.5l-0.1,0.4l-0.4,0.4l-0.4,0.1l-0.5,-0.2l-0.2,-0.5l-0.1,-0.5l0.1,-0.5l0.1,-0.4l0.2,-0.5l0.2,-0.4l0.2,-0.5l0.0,-0.5l-0.1,-0.5l-0.3,-0.4l-0.4,-0.2l-0.5,-0.1l-0.5,-0.0l-0.5,0.1l-0.4,0.2l-0.4,0.4l-0.3,0.4l-0.1,0.5l-0.2,0.5l-0.1,0.4l-0.4,0.4l-0.4,0.3l-0.5,0.2l-0.4,0.1l-0.4,0.3l-0.4,0.3l-0.3,0.4l-0.3,0.4l-0.2,0.5l-0.2,0.5l-0.1,0.4l-0.0,0.5l-0.1,0.5l-0.3,0.5l-0.4,0.2l-0.5,0.1l-0.4,-0.3l-0.2,-0.4l-0.2,-0.5l-0.4,-0.4l-0.4,-0.3l-0.4,-0.2l-0.4,-0.3l-0.5,-0.2l-0.4,-0.2l-0.5,-0.2l-0.5,-0.1l-0.5,0.0l-0.4,0.3l-0.4,0.2l-0.3,0.4l-0.2,0.5l0.0,0.5l0.2,0.4l0.3,0.5l0.2,0.4l0.2,0.4l0.2,0.5l0.2,0.5l0.3,0.4l0.2,0.4l-0.1,0.5l-0.3,0.4l-0.4,0.3l-0.4,0.3l-0.4,0.3l-0.2,0.5l-0.3,0.4l-0.2,0.4l-0.4,0.3l-0.5,0.2l-0.5,0.1l-0.5,-0.0l-0.5,-0.0l-0.5,-0.1l-0.5,0.1l-0.5,-0.0l-0.5,-0.1l-0.4,-0.1l-0.4,-0.4l-0.3,-0.4l-0.2,-0.4l-0.0,-0.5l-0.1,-0.5l-0.0,-0.5l-0.1,-0.5l-0.1,-0.5l-0.3,-0.4l-0.4,-0.3l-0.5,-0.3l-0.4,-0.2l-0.4,-0.3l-0.2,-0.4l-0.0,-0.5l-0.0,-0.5l0.1,-0.5l0.1,-0.5l0.0,-0.5l-0.1,-0.5l-0.2,-0.4l-0.4,-0.3l-0.5,-0.2l-0.4,0.0l-0.5,0.3l-0.3,0.4l-0.2,0.4l0.0,0.5l0.3,0.4l0.4,0.4l0.4,0.3l0.4,0.1l0.5,-0.0l0.3,-0.4l-0.1,-0.5l-0.4,-0.4l-0.4,-0.2l-0.5,-0.0l-0.5,0.1l-0.4,0.3l-0.5,0.2l-0.4,0.3l-0.5,0.2l-0.4,0.3l-0.4,0.3l-0.4,0.2l-0.5,0.1l-0.5,0.2l-0.3,0.4l-0.3,0.4l-0.2,0.5l-0.3,0.4l-0.3,0.4l-0.2,0.4l-0.0,0.5l-0.1,0.5l-0.1,0.5l-0.1,0.5l-0.0,0.5l0.1,0.5l0.2,0.5l0.2,0.4l0.4,0.3l0.5,0.1l0.4,-0.3l0.4,-0.3l0.2,-0.4l0.2,-0.5l0.1,-0.5l-0.0,-0.5l-0.0,-0.5l0.0,-0.5l0.1,-0.5l-0.0,-0.5l-0.2,-0.4l-0.3,-0.4l-0.3,-0.4l-0.2,-0.5l-0.1,-0.5l-0.1,-0.5l0.0,-0.5l-0.0,-0.5l-0.2,-0.4l-0.1,-0.5l-0.3,-0.4l-0.3,-0.4l-0.2,-0.5l-0.2,-0.5l-0.0,-0.5l-0.1,-0.5l0.1,-0.5l-0.2,-0.4l-0.3,-0.4l-0.4,-0.3l-0.5,-0.2l-0.4,-0.2l-0.5,-0.1l-0.5,0.0l-0.5,0.1l-0.5,0.2l-0.3,0.4l-0.3,0.4l-0.3,0.4l-0.3,0.4l-0.4,0.3l-0.4,0.3l-0.5,0.1l-0.5,-0.1l-0.4,-0.2l-0.4,-0.3l-0.2,-0.5l-0.1,-0.5l0.0,-0.5l0.1,-0.4l0.1,-0.5l0.1,-0.5l0.4,-0.4l0.4,-0.2l0.5,-0.2l0.5,-0.1l0.5,-0.1l0.5,0.1l0.4,0.1l0.4,0.4l0.2,0.4l0.1,0.5l-0.1,0.5l-0.2,0.5l-0.3,0.4l-0.3,0.4l-0.4,0.3l-0.4,0.3l-0.4,0.3l-0.2,0.5l-0.1,0.5l0.1,0.5l0.0,0.4l-0.1,0.5l-0.2,0.5l-0.4,0.3l-0.3,0.4l-0.4,0.3l-0.4,0.4l-0.2,0.4l-0.3,0.4l-0.2,0.5l-0.2,0.4l-0.2,0.4l0.0,0.5l0.4,0.4l0.5,-0.0l0.4,-0.2l0.4,-0.3l0.3,-0.4l0.4,-0.4l0.4,-0.3l0.5,-0.1l0.5,-0.0l0.5,0.0l0.4,0.2l0.2,0.5l-0.1,0.5l-0.2,0.4l-0.5,0.2l-0.4,0.2l-0.5,0.2l-0.4,0.3l-0.3,0.4l-0.3,0.4l-0.3,0.4l-0.4,0.3l-0.4,0.3l-0.5,0.2l-0.5,-0.0l-0.5,0.0l-0.4,0.1l-0.5,0.3l-0.3,0.4l-0.3,0.4l-0.4,0.2l-0.5,-0.0l-0.5,-0.2l-0.4,-0.2l-0.4,-0.4l-0.3,-0.4l-0.3,-0.4l-0.4,-0.3l-0.4,-0.2l-0.5,0.0l-0.5,0.2l-0.3,0.4l-0.2,0.5l-0.2,0.5l-0.2,0.4l-0.2,0.4l-0.3,0.5l-0.4,0.3l-0.4,0.2l-0.5,0.2l-0.4,0.3l-0.5,0.2l-0.4,0.2l-0.5,0.3l-0.3,0.3l-0.3,0.4l-0.0,0.5l0.1,0.5l0.4,0.3l0.3,0.4l0.4,0.3l0.3,0.4l0.2,0.5l0.3,0.4l0.2,0.5l0.2,0.4l0.4,0.3l0.5,0.0l0.5,-0.1l0.5,0.0l0.5,0.2l0.3,0.4l-0.1,0.4l-0.3,0.4l-0.5,-0.0l-0.5,-0.1l-0.5,-0.2l-0.5,-0.2l-0.4,-0.2l-0.5,-0.1l-0.5,0.2l-0.3,0.4l-0.1,0.5l0.0,0.5l0.0,0.5l0.1,0.5l0.3,0.4l0.4,0.3l0.4,0.3l0.4,0.3l0.2,0.5l0.2,0.4l-0.0,0.5l-0.1,0.5l-0.2,0.5l-0.3,0.4l-0.2,0.5l0.2,0.4l0.4,0.3l0.5,-0.1l0.5,-0.2l0.4,-0.3 M548.3,208.1l-0.5,0.1l-0.4,0.2l-0.5,0.2l-0.5,0.1l-0.5,-0.0l-0.5,-0.1l-0.5,0.1l-0.5,-0.1l-0.4,-0.2l-0.3,-0.4l-0.2,-0.5l-0.1,-0.5l-0.3,-0.4l-0.3,-0.4l-0.4,-0.3l-0.3,-0.4l-0.4,-0.3l-0.3,-0.5l-0.3,-0.3l-0.5,-0.2l-0.5,-0.1l-0.5,-0.0l-0.5,-0.0l-0.5,-0.0l-0.5,0.0l-0.4,0.1l-0.5,0.2l-0.4,0.3l-0.3,0.4l-0.1,0.5l0.0,0.5l0.1,0.5l-0.0,0.5l0.0,0.5l0.1,0.5l0.0,0.5l-0.0,0.5l0.1,0.5l-0.0,0.5l-0.2,0.5l-0.3,0.3l-0.5,0.2l-0.5,0.1l-0.4,-0.2l-0.4,-0.4l-0.1,-0.4l-0.0,-0.5l0.2,-0.5l0.3,-0.3l0.4,-0.4l0.2,-0.4l0.1,-0.5l-0.0,-0.5l-0.3,-0.4l-0.4,-0.2l-0.5,0.0l-0.5,0.2l-0.4,0.2l-0.5,0.2l-0.5,0.1l-0.5,-0.0l-0.5,0.0l-0.5,0.2l-0.4,0.1l-0.5,-0.1l-0.5,-0.2l-0.4,-0.2l-0.5,-0.2l-0.5,-0.0l-0.5,0.2l-0.4,0.2l-0.3,0.4l-0.0,0.5l0.1,0.5l0.4,0.4l0.3,0.3l0.3,0.4l0.3,0.4l0.1,0.5l0.2,0.5l0.2,0.4l0.4,0.4l0.3,0.4l0.2,0.4l0.1,0.5l-0.2,0.4l-0.4,0.4l-0.4,0.2l-0.5,0.0l-0.5,0.1l-0.5,0.3l-0.3,0.3l-0.5,0.3l-0.4,0.2l-0.5,-0.0l-0.4,-0.2l-0.4,-0.4l-0.3,-0.4l-0.3,-0.4l-0.3,-0.3l-0.5,-0.3l-0.5,0.0l-0.5,0.2l-0.4,0.2l-0.2,0.5l0.1,0.5l0.0,0.5l0.0,0.5l-0.1,0.4l-0.3,0.5l-0.3,0.3l-0.4,0.3l-0.3,0.4l-0.3,0.4l-0.4,0.4l-0.3,0.3l-0.3,0.4l-0.3,0.4l-0.4,0.4l-0.3,0.3l-0.4,0.3l-0.5,0.3l-0.4,0.1l-0.5,0.0l-0.5,-0.1l-0.4,-0.3l-0.4,-0.3l-0.3,-0.4l-0.4,-0.4l-0.4,-0.3l-0.3,-0.3l-0.3,-0.4l-0.5,-0.2l-0.5,-0.0l-0.4,0.3l-0.2,0.4l-0.2,0.5l-0.1,0.4l-0.1,0.5l-0.1,0.5l0.0,0.5l0.1,0.5l-0.0,0.5l0.0,0.5l0.2,0.5l0.2,0.5l0.3,0.3l0.3,0.5l0.2,0.4l0.3,0.4l0.2,0.5l0.1,0.5l0.1,0.4l0.0,0.5l-0.2,0.5l-0.4,0.3l-0.5,0.1l-0.5,0.1l-0.5,0.2l-0.4,0.3l-0.5,0.2l-0.3,0.3l-0.3,0.4l-0.2,0.5l-0.1,0.5l0.2,0.4l0.3,0.4l0.4,0.3l0.5,0.2l0.5,0.0l0.5,0.1l0.5,0.0l0.5,0.1l0.4,0.2l0.5,0.2l0.4,0.3l0.3,0.4l0.2,0.5l0.0,0.5l0.1,0.5l0.1,0.4l0.3,0.4l0.4,0.3l0.4,0.3l0.4,0.3l0.4,0.4l0.2,0.4l0.3,0.4l0.4,0.3l0.4,0.3l0.5,0.0l0.5,-0.1l0.3,-0.3l0.4,-0.4l0.2,-0.4l0.2,-0.5l0.0,-0.5l-0.1,-0.5l-0.4,-0.3l-0.5,-0.2l-0.4,-0.2l-0.5,-0.1l-0.4,-0.3l-0.3,-0.4l-0.3,-0.4l-0.3,-0.4l-0.2,-0.4l-0.2,-0.5l-0.2,-0.5l-0.2,-0.4l-0.2,-0.5l-0.1,-0.5l0.0,-0.5l0.2,-0.4l0.4,-0.4l0.4,-0.2l0.5,-0.1l0.5,-0.1l0.5,0.1l0.5,0.2l0.4,0.1l0.5,0.2l0.5,0.2l0.4,0.3l0.4,0.3l0.3,0.3l0.4,0.4l0.4,0.3l0.4,0.3l0.3,0.4l0.4,0.3l0.4,0.2l0.5,0.1l0.5,0.1l0.5,0.1l0.4,0.3l0.3,0.4l0.3,0.4l0.3,0.4l0.3,0.4l0.1,0.5l-0.2,0.5l-0.3,0.4l-0.4,0.3l-0.4,0.3l-0.3,0.3l-0.3,0.4l-0.1,0.5l0.2,0.5l0.2,0.5l0.2,0.4l0.2,0.4l0.2,0.5l0.2,0.5l0.4,0.4l0.2,0.4l0.2,0.4l0.1,0.5l0.2,0.5l0.2,0.5l0.3,0.3l0.5,0.2l0.5,0.2l0.4,0.2l0.5,0.0l0.5,-0.1l0.4,-0.4l0.3,-0.4l0.2,-0.4l0.2,-0.5l0.1,-0.7l-0.1,-0.5l-0.3,-0.4l-0.5,-0.2l-0.5,-0.0l-0.5,0.1l-0.4,0.2l-0.4,0.3l-0.4,0.4l-0.3,0.3 M520.9,218.5l0.3,0.4l0.1,0.5l-0.1,0.5l-0.0,0.5l-0.1,0.5l-0.1,0.5l-0.3,0.4l-0.4,0.2l-0.4,0.3l-0.3,0.4l-0.2,0.5l0.1,0.5l0.2,0.4l0.3,0.4l0.4,0.3l0.4,0.3l0.4,0.2l0.5,0.3l0.3,0.4l0.4,0.3l0.3,0.4l0.4,0.3l0.4,0.2l0.5,0.1l0.5,-0.1l0.5,-0.1l0.5,-0.0l0.5,0.0l0.5,0.1l0.5,0.0l0.4,0.3l0.2,0.5l-0.1,0.4l-0.3,0.4l-0.4,0.4l-0.4,0.3l-0.3,0.3l-0.4,0.3l-0.5,0.2l-0.5,-0.1l-0.3,-0.4l-0.0,-0.5l0.2,-0.4l0.5,-0.1l0.3,0.4l-0.2,0.5l-0.4,0.2 M535.3,227.7l0.2,0.5l0.3,0.4l0.4,0.2l0.4,0.3l0.4,0.3l0.3,0.4l0.2,0.5l0.1,0.5l0.1,0.4l0.2,0.5l0.1,0.5l-0.1,0.5l-0.1,0.4l-0.3,0.4l-0.4,0.4l-0.4,0.3l-0.2,0.5l-0.0,0.5l-0.0,0.5l0.1,0.5l0.2,0.4l0.4,0.3l0.4,0.3l0.5,0.1l0.5,-0.1l0.4,-0.2l0.3,-0.4l-0.1,-0.5l-0.2,-0.4l-0.5,-0.3l-0.5,0.0l-0.5,0.1l-0.5,-0.0l-0.5,0.0l-0.4,0.2l-0.3,0.4l-0.2,0.5l-0.0,0.5l-0.1,0.5l-0.2,0.5l-0.1,0.4l0.1,0.5l0.1,0.5l0.2,0.5l0.3,0.4l0.4,0.3l0.5,0.0l0.5,0.1l0.5,0.1l0.4,0.2l0.5,0.0l0.5,-0.2l0.3,-0.4l0.1,-0.5l0.0,-0.5l-0.0,-0.5l-0.0,-0.5l0.1,-0.4l0.3,-0.4l0.5,-0.2l0.5,-0.1l0.5,0.2l0.3,0.4l0.2,0.4l0.4,0.4l0.4,0.2l0.5,-0.0l0.4,-0.3l0.5,-0.2l0.5,-0.2l0.5,0.1l0.5,-0.1l0.4,-0.1l0.5,-0.0l0.5,-0.1l0.5,-0.2l0.3,-0.4l0.2,-0.4l0.0,-0.5l-0.2,-0.5l-0.5,-0.2l-0.4,-0.1l-0.5,0.1l-0.4,0.4l0.1,0.5l0.3,0.3l0.4,0.3l0.5,0.2l0.5,-0.1l0.4,-0.2l0.3,-0.4l0.0,-0.5l-0.1,-0.5l-0.4,-0.4l-0.4,-0.2l-0.5,-0.0l-0.5,-0.2l-0.4,-0.3l-0.3,-0.4l-0.1,-0.5l0.2,-0.4l0.5,-0.1l0.5,-0.0l0.5,0.1l0.4,0.2l0.5,0.1l0.5,-0.0l0.5,-0.2l0.3,-0.4l0.3,-0.4l0.2,-0.4l0.2,-0.5l0.2,-0.5l0.2,-0.4l0.2,-0.4l0.3,-0.4l0.4,-0.4l0.5,-0.2l0.4,-0.3l0.5,-0.1l0.5,-0.1l0.4,-0.3l0.2,-0.5l0.1,-0.4l0.3,-0.5l0.2,-0.4l0.3,-0.4l0.1,-0.5l-0.1,-0.5l-0.3,-0.4l-0.5,-0.2l-0.5,0.1l-0.5,0.0l-0.5,0.1l-0.5,-0.1l-0.4,-0.2l-0.5,-0.1l-0.4,-0.3l-0.4,-0.3l-0.3,-0.4l-0.2,-0.4l-0.3,-0.5l-0.3,-0.3l-0.5,-0.2l-0.5,-0.1l-0.5,0.1l-0.4,0.1l-0.5,-0.0l-0.5,-0.1l-0.5,-0.2l-0.3,-0.4l-0.3,-0.4l-0.0,-0.5l0.1,-0.5l0.1,-0.5l0.2,-0.5l0.2,-0.4l0.3,-0.4l0.3,-0.4l0.2,-0.5l0.1,-0.4l-0.2,-0.5l-0.3,-0.4l-0.3,-0.4l-0.4,-0.2l-0.5,-0.1l-0.5,0.0l-0.5,0.1l-0.4,0.3l-0.2,0.4l0.1,0.5l0.4,0.3l0.5,0.1l0.5,-0.0l0.5,-0.1l0.5,-0.2l0.4,-0.3l0.3,-0.3l0.2,-0.5l-0.0,-0.5l-0.3,-0.3l-0.4,-0.3l-0.4,-0.4l0.0,-0.5l0.2,-0.5l0.5,-0.5l0.5,-0.1 M490.9,232.9l0.5,-0.1l0.5,0.0l0.5,0.1l0.5,0.1l0.5,-0.1l0.3,-0.3l0.3,-0.5l-0.0,-0.5l-0.2,-0.4l-0.3,-0.5l-0.2,-0.4l0.0,-0.5l0.3,-0.5l0.4,-0.2l0.5,-0.2l0.5,0.2l0.3,0.4l0.3,0.4l0.4,0.3l0.4,0.2l0.5,0.1l0.5,0.2l0.4,0.2l0.5,0.2l0.5,-0.0l0.5,-0.1l0.5,-0.2l0.4,-0.2l0.5,0.0l0.5,0.0l0.5,0.1l0.5,0.0l0.5,0.0l0.5,0.1l0.5,0.1l0.5,0.1l0.3,0.4l0.2,0.4l-0.1,0.5l-0.1,0.5l-0.4,0.3l-0.4,0.2l-0.5,0.2l-0.5,0.2l-0.5,0.2l-0.5,0.0l-0.4,-0.1l-0.4,-0.3l-0.1,-0.5l0.1,-0.5l0.4,-0.4l0.4,-0.2l0.4,-0.3l0.4,-0.3l0.3,-0.4l0.2,-0.5l0.1,-0.5l0.1,-0.5l0.1,-0.4l0.3,-0.4l0.5,-0.2l0.5,0.0l0.4,0.3l0.3,0.4l0.2,0.5l0.3,0.4l0.4,0.3l0.4,0.2l0.5,0.2l0.4,0.3l0.4,0.3l0.4,0.3l0.4,0.3l0.4,0.3l0.4,0.3l0.4,0.2l0.5,0.2l0.5,0.1l0.5,0.0l0.5,0.2l0.4,0.1l0.4,0.3l0.4,0.4l0.3,0.4l0.2,0.4l0.2,0.5l0.0,0.5l-0.2,0.4l-0.3,0.4l-0.5,0.2l-0.4,-0.1l-0.4,-0.3l-0.3,-0.5l-0.2,-0.4l-0.3,-0.4l-0.2,-0.5l-0.3,-0.4l-0.4,-0.3l-0.4,-0.3l-0.5,-0.1l-0.5,-0.1l-0.5,0.1l-0.4,0.2l-0.4,0.3l-0.3,0.4l-0.2,0.5l-0.3,0.4l-0.4,0.3l-0.4,0.3l-0.5,0.2l-0.4,0.2l-0.5,0.1l-0.5,0.1l-0.4,0.2l-0.4,0.4l-0.2,0.4l-0.4,0.4l-0.3,0.4l-0.4,0.3l-0.4,0.3l-0.4,0.3l-0.3,0.4l-0.1,0.5l0.2,0.4l0.3,0.4l0.4,0.3l0.4,0.4l0.2,0.4l0.2,0.4l0.2,0.5l-0.0,0.5l-0.3,0.4l-0.4,0.3l-0.5,0.1l-0.4,-0.2l-0.4,-0.3l-0.5,-0.1l-0.5,0.1l-0.5,0.1l-0.5,0.1l-0.4,0.2l-0.5,-0.0l-0.5,-0.0l-0.5,0.0l-0.5,0.0l-0.5,-0.2l-0.3,-0.4l-0.3,-0.4l-0.1,-0.5l-0.0,-0.5l0.1,-0.4l0.3,-0.4"/></defs>
<use href="#c5" stroke="#a44616" stroke-width="1.3"/>
<use href="#c5" stroke="#e67a34" stroke-width="0.65"/>
<defs><path id="c6" d="M500.3,246.1l-0.4,0.2l-0.5,0.2l-0.5,0.0l-0.5,0.1l-0.5,-0.0l-0.5,-0.1l-0.5,-0.2l-0.4,-0.1l-0.5,-0.0l-0.5,0.0l-0.5,0.1l-0.5,0.1l-0.4,0.2l-0.4,0.4l-0.2,0.4l-0.3,0.5l-0.1,0.4l0.0,0.5l0.1,0.5l-0.0,0.5l0.1,0.5l0.1,0.5l0.4,0.4l0.4,0.2l0.5,-0.0l0.5,-0.0l0.5,0.1l0.4,0.3l0.5,0.2l0.4,0.3l0.5,0.2l0.4,0.1l0.5,0.0l0.5,0.1l0.5,0.2l0.3,0.3l0.3,0.5l0.1,0.5l0.1,0.4l-0.0,0.5l-0.2,0.5l-0.2,0.5l-0.3,0.4l-0.1,0.5l-0.2,0.5l-0.0,0.5l-0.2,0.4l-0.4,0.3l-0.5,0.2l-0.5,-0.0l-0.4,-0.2l-0.4,-0.4l-0.2,-0.5l-0.0,-0.5l0.1,-0.4l0.3,-0.4l0.4,-0.3l0.5,-0.1l0.5,-0.2l0.5,-0.1l0.4,-0.2l0.5,0.0l0.5,0.0l0.5,-0.1l0.4,-0.3l0.3,-0.4l0.4,-0.3l0.4,-0.3l0.4,-0.3l0.5,-0.3l0.4,-0.2l0.4,-0.3l0.3,-0.4l0.4,-0.4l0.3,-0.3l0.4,-0.3l0.3,-0.4l0.3,-0.4l0.1,-0.5l-0.1,-0.5l-0.3,-0.4l-0.5,-0.2l-0.5,-0.1l-0.4,0.2l-0.4,0.3l-0.4,0.3l-0.5,0.2l-0.4,0.2l-0.5,-0.0l-0.5,-0.1l-0.5,-0.2l-0.5,-0.2l-0.4,-0.3l-0.4,-0.3l-0.4,-0.1l-0.5,-0.0l-0.5,0.1l-0.3,0.4l-0.2,0.4l-0.3,0.4l-0.3,0.4l-0.4,0.4l-0.2,0.4l-0.3,0.5l-0.2,0.4l-0.4,0.4l-0.4,0.3l-0.4,0.1l-0.5,-0.0l-0.5,-0.3l-0.5,-0.1l-0.4,-0.1l-0.5,0.0l-0.5,0.2l-0.5,0.2l-0.4,0.2l-0.4,0.3l-0.5,0.2l-0.4,0.2l-0.5,0.2l-0.5,0.0l-0.5,-0.0l-0.4,-0.3l-0.0,-0.5l0.4,-0.3l0.4,-0.0l0.4,0.3l0.2,0.5l-0.2,0.4l-0.5,0.2l-0.5,-0.0l-0.4,-0.3l-0.4,-0.2l-0.3,-0.4l-0.3,-0.5l-0.1,-0.4l0.0,-0.5l0.0,-0.5l-0.0,-0.5l-0.2,-0.5l-0.1,-0.5l-0.2,-0.4l-0.4,-0.4l-0.4,-0.3l-0.5,-0.0l-0.5,0.0l-0.5,0.0l-0.5,0.1l-0.4,0.2l-0.4,0.3l-0.4,0.3l-0.3,0.4l-0.3,0.4l-0.4,0.4l-0.3,0.4l-0.2,0.4l-0.2,0.5l0.0,0.4l0.4,0.4l0.4,0.1l0.5,-0.1l0.5,-0.2l0.4,-0.3"/></defs>
<use href="#c6" stroke="#6a2810" stroke-width="1.3"/>
<use href="#c6" stroke="#b85028" stroke-width="0.65"/>
<defs><path id="c7" d="M506.1,253.6l-0.2,-0.4l-0.4,-0.4l-0.3,-0.4l-0.3,-0.4l-0.5,-0.2l-0.5,-0.0l-0.5,-0.0l-0.5,0.0l-0.5,0.2l-0.4,0.1l-0.5,0.0l-0.5,-0.2l-0.4,-0.2l-0.4,-0.3l-0.5,-0.2l-0.4,-0.3l-0.3,-0.4l-0.2,-0.5l-0.2,-0.4l-0.1,-0.5l-0.0,-0.5l0.1,-0.5l0.3,-0.4l0.4,-0.3l0.4,-0.2l0.5,-0.3l0.4,-0.3l0.3,-0.4l0.2,-0.4l0.2,-0.5l0.2,-0.4l0.2,-0.5l0.2,-0.5l0.3,-0.4l0.4,-0.2l0.5,0.1l0.4,0.3l0.2,0.5l-0.1,0.5l-0.3,0.3l-0.5,-0.0l-0.2,-0.5l0.2,-0.4l0.3,-0.4l0.5,-0.2l0.5,-0.1l0.5,-0.2l0.4,-0.2l0.3,-0.4l0.0,-0.5l-0.0,-0.5l-0.2,-0.5l-0.3,-0.3l-0.5,-0.3l-0.4,-0.0l-0.5,0.1l-0.4,0.3l-0.5,0.3l-0.3,0.3l-0.3,0.5l-0.2,0.4l-0.1,0.5l-0.1,0.5l-0.2,0.5l-0.2,0.4l-0.3,0.3l-0.4,0.4l-0.4,0.4l-0.3,0.3l-0.5,0.2l-0.4,0.3l-0.3,0.4l-0.1,0.5l-0.0,0.5l0.1,0.4l0.2,0.5l0.2,0.4l0.2,0.5l0.3,0.4l0.2,0.5l-0.0,0.5l-0.4,0.3l-0.5,0.1l-0.4,-0.2l-0.4,-0.3l-0.3,-0.4l-0.1,-0.5l-0.2,-0.5l-0.3,-0.4l-0.3,-0.4l-0.1,-0.5l0.1,-0.5l0.2,-0.4l0.4,-0.3l0.4,-0.3l0.4,-0.3l0.5,-0.0l0.5,-0.1l0.5,0.1l0.5,0.2l0.4,0.2l0.5,0.1l0.5,-0.2l0.4,-0.2l0.4,-0.4l-0.0,-0.5l-0.2,-0.4l-0.5,-0.3l-0.5,-0.1l-0.5,-0.0l-0.5,-0.0l-0.4,-0.1l-0.5,-0.3l-0.3,-0.3l-0.3,-0.5l-0.3,-0.4l-0.2,-0.4l-0.1,-0.5l-0.2,-0.5l0.0,-0.5l0.2,-0.5l0.3,-0.3l0.3,-0.4l0.3,-0.4l0.2,-0.5l0.0,-0.5l-0.1,-0.5l-0.0,-0.5l-0.1,-0.5l-0.2,-0.4l-0.3,-0.4l-0.4,-0.2l-0.5,-0.0l-0.5,0.1l-0.4,0.3l-0.2,0.5l-0.1,0.5l0.1,0.4l0.1,0.5l0.3,0.4l0.4,0.3l0.4,0.4l0.4,0.3l0.3,0.3l0.3,0.4l0.1,0.5l-0.2,0.5l-0.3,0.4l-0.2,0.4l-0.2,0.5l-0.3,0.4l-0.3,0.4l-0.4,0.3l-0.4,0.3l-0.5,0.2l-0.4,0.2l-0.5,0.1l-0.5,0.0l-0.5,0.2l-0.4,0.3l-0.3,0.4l-0.1,0.5l0.3,0.4l0.4,0.1l0.5,-0.1l0.5,-0.3l0.4,-0.1l0.5,-0.0l0.5,0.1l0.5,0.1l0.5,0.0l0.5,-0.0l0.5,-0.1l0.5,-0.0l0.5,0.1l0.4,0.1l0.5,0.0l0.5,-0.0l0.5,-0.2l0.5,-0.1l0.5,-0.1l0.4,-0.3l0.3,-0.4l0.3,-0.4l0.1,-0.5l0.1,-0.5l0.1,-0.5l0.2,-0.4l0.3,-0.4l0.4,-0.2l0.5,0.2l0.2,0.4l0.1,0.5l-0.0,0.5l0.0,0.5l0.0,0.5l0.1,0.5l0.2,0.5l0.1,0.4l0.1,0.5l0.0,0.5l0.1,0.5l0.1,0.5l0.3,0.4l0.4,0.3l0.5,0.2l0.4,0.2l0.5,-0.2l0.4,-0.3l0.1,-0.5l-0.2,-0.4l-0.3,-0.4l-0.5,-0.1l-0.5,-0.2l-0.5,0.1l-0.5,-0.0l-0.4,-0.2l-0.4,-0.3l-0.2,-0.5l-0.1,-0.5l0.0,-0.5l0.0,-0.5l0.1,-0.5l0.2,-0.4l0.5,-0.2l0.5,0.1l0.3,0.4l-0.0,0.5l-0.3,0.4l-0.5,0.2l-0.4,0.2l-0.5,0.1l-0.5,-0.1l-0.5,-0.1l-0.5,-0.1l-0.5,0.1l-0.5,0.2l-0.5,0.1l-0.4,0.1l-0.5,0.1l-0.5,-0.0l-0.5,0.1l-0.5,0.2l-0.5,0.1l-0.5,-0.0l-0.4,-0.3l0.0,-0.5l0.3,-0.4l0.3,-0.4l0.3,-0.4l0.3,-0.3l0.4,-0.4l0.4,-0.3l0.2,-0.4l0.3,-0.4l0.3,-0.5l0.2,-0.4l-0.0,-0.5l-0.1,-0.5l-0.2,-0.5l-0.3,-0.4l-0.5,-0.2l-0.4,-0.1l-0.5,-0.2l-0.5,-0.2l-0.4,-0.2l-0.5,-0.2l-0.5,-0.0l-0.5,0.1l-0.4,0.2l-0.5,0.1l-0.4,0.3l-0.4,0.3l-0.3,0.4l-0.3,0.4l-0.0,0.5l0.0,0.5"/></defs>
<use href="#c7" stroke="#a44616" stroke-width="1.3"/>
<use href="#c7" stroke="#e67a34" stroke-width="0.65"/>
<defs><path id="c8" d="M491.8,273.1l0.5,0.2l0.4,0.0l0.5,-0.2l0.3,-0.3l0.2,-0.5l0.2,-0.4l0.2,-0.5l0.2,-0.4l0.1,-0.5l-0.0,-0.5l-0.3,-0.4l-0.5,0.0l-0.4,0.4l-0.2,0.4l-0.0,0.5l0.2,0.4l0.4,0.4l0.5,0.0l0.4,-0.2l0.2,-0.5l-0.1,-0.5l-0.2,-0.4l-0.2,-0.5l-0.3,-0.4l-0.2,-0.5l-0.2,-0.4l0.1,-0.5l0.1,-0.5l0.4,-0.3l0.4,-0.3l0.5,-0.1l0.5,0.1l0.5,-0.0l0.5,0.0l0.5,-0.2l0.2,-0.4l0.2,-0.5l0.0,-0.5l0.1,-0.5l0.2,-0.5l0.3,-0.4l0.4,-0.1l0.5,-0.1l0.5,-0.0l0.5,-0.2l0.4,-0.4l0.1,-0.4l-0.1,-0.5l-0.0,-0.5l-0.1,-0.5l-0.3,-0.5l-0.2,-0.4l-0.3,-0.4l-0.4,-0.3l-0.5,0.1l-0.4,0.3l-0.2,0.4l0.2,0.5l0.3,0.4l0.4,0.3l0.5,0.2l0.4,0.2l0.3,0.4l0.1,0.5l0.0,0.5l-0.0,0.5l-0.2,0.5l-0.3,0.3l-0.5,0.3l-0.4,0.2l-0.5,0.1l-0.5,0.0l-0.5,0.1l-0.5,-0.0l-0.5,-0.1l-0.5,-0.1l-0.5,-0.0l-0.5,-0.0l-0.5,0.0l-0.5,0.1l-0.5,0.1l-0.4,0.2l-0.5,0.2l-0.4,0.2l-0.3,0.4l-0.4,0.4l-0.3,0.4l-0.1,0.4l0.1,0.5l0.4,0.4l0.5,0.1l0.4,-0.2l0.5,-0.2l0.4,-0.3l0.4,-0.4l0.4,-0.3l0.4,-0.2l0.5,-0.1l0.5,0.1l0.5,0.2l0.4,0.3l0.4,0.2l0.5,0.1l0.5,0.0l0.5,0.1l0.5,-0.0l0.5,-0.1l0.5,-0.1l0.5,0.0l0.4,0.2l0.5,0.2l0.5,0.2l0.4,0.2l0.4,0.2l0.4,0.4l0.3,0.4l0.1,0.5l-0.1,0.5l-0.3,0.3l-0.5,0.2l-0.5,-0.1l-0.4,-0.4l-0.2,-0.4l0.2,-0.5l0.3,-0.3l0.5,-0.2l0.5,-0.0l0.5,0.1l0.5,0.1l0.5,0.0l0.5,-0.0l0.4,-0.2l0.5,-0.2l0.4,-0.2l0.5,-0.2l0.5,-0.2l0.5,0.0l0.4,0.3l0.3,0.4l-0.0,0.5l-0.2,0.4l-0.2,0.5l-0.2,0.5l-0.2,0.4l-0.3,0.4l-0.4,0.3l-0.4,0.2l-0.5,0.1l-0.5,-0.0l-0.4,-0.3l-0.3,-0.5l-0.2,-0.4l-0.2,-0.5"/></defs>
<use href="#c8" stroke="#157a38" stroke-width="1.3"/>
<use href="#c8" stroke="#34b060" stroke-width="0.65"/>
<defs><path id="c9" d="M487.8,256.4l0.5,0.1l0.5,0.1l0.4,0.1l0.4,0.4l0.3,0.4l0.3,0.4l0.2,0.4l0.2,0.5l0.2,0.5l0.2,0.4l0.2,0.5l-0.1,0.5l-0.2,0.4l-0.4,0.4l-0.4,0.2l-0.5,0.1l-0.5,0.2l-0.4,0.2l-0.5,0.0l-0.5,-0.1l-0.5,-0.2l-0.4,-0.3l-0.3,-0.4l-0.3,-0.4l-0.3,-0.4l-0.4,-0.3l-0.4,-0.2l-0.5,-0.3l-0.2,-0.4l0.0,-0.5l0.2,-0.5l0.4,-0.2l0.5,0.0l0.4,0.4l0.3,0.4l0.3,0.3l0.3,0.4l0.4,0.4l0.4,0.2l0.5,0.1l0.5,-0.1l0.5,-0.2l0.4,-0.2l0.5,-0.3l0.4,-0.1l0.5,-0.2l0.5,-0.2l0.5,-0.0l0.5,0.1l0.4,0.2l0.4,0.3l0.4,0.4l0.1,0.5l-0.2,0.4l-0.5,0.1l-0.4,-0.2l-0.2,-0.5l0.2,-0.5l0.5,-0.2l0.5,-0.0l0.5,0.1l0.4,0.2l0.3,0.4l0.2,0.5l0.2,0.4l0.3,0.5l0.3,0.3l0.5,0.1l0.5,-0.1l0.5,-0.1l0.5,-0.2l0.4,-0.3l0.2,-0.4l-0.0,-0.5l-0.2,-0.5l-0.3,-0.5l-0.2,-0.4l-0.2,-0.4"/></defs>
<use href="#c9" stroke="#157e6a" stroke-width="1.3"/>
<use href="#c9" stroke="#34b89c" stroke-width="0.65"/>
<defs><path id="c10" d="M606.5,227.8l0.2,0.5l0.1,0.4l0.0,0.5l0.0,0.5l0.0,0.5l0.0,0.5l-0.0,0.5l-0.2,0.5l-0.3,0.4l-0.2,0.5l-0.2,0.4l-0.1,0.5l0.1,0.5l0.4,0.3l0.4,0.2l0.5,0.0l0.5,0.0l0.5,-0.0l0.5,-0.2l0.4,-0.4l0.2,-0.4l0.1,-0.5l-0.0,-0.5l-0.2,-0.4l-0.2,-0.5l-0.3,-0.4l-0.2,-0.5l0.0,-0.5l0.2,-0.4l0.2,-0.5l0.1,-0.5l-0.1,-0.4l-0.2,-0.5l-0.2,-0.5l-0.2,-0.4l-0.3,-0.4l-0.5,-0.2l-0.5,-0.1l-0.5,0.1l-0.5,-0.0l-0.5,0.1l-0.4,0.3l-0.4,0.3l-0.4,0.2l-0.4,0.3l-0.3,0.4l-0.5,0.2l-0.5,0.0l-0.4,-0.2l-0.4,-0.3l-0.5,-0.1l-0.5,0.0l-0.5,-0.1l-0.4,-0.3l-0.1,-0.5l0.1,-0.5l0.1,-0.5l-0.0,-0.5l-0.1,-0.5l-0.2,-0.4l-0.3,-0.5l-0.2,-0.4l-0.3,-0.4l-0.3,-0.4l-0.4,-0.3l-0.5,-0.2l-0.5,0.0l-0.4,0.3l-0.4,0.3l-0.4,0.3l-0.4,0.2l-0.5,0.2l-0.5,0.1l-0.5,-0.1l-0.4,-0.2l-0.4,-0.3l-0.4,-0.3l-0.3,-0.4l-0.3,-0.5l0.0,-0.5l0.3,-0.4l0.3,-0.3l0.5,-0.1l0.5,0.1l0.5,0.2l0.4,0.1l0.5,0.1l0.5,-0.1l0.5,-0.3l0.2,-0.4l0.2,-0.4l0.2,-0.5l0.4,-0.3l0.5,-0.2l0.5,-0.0l0.5,0.1l0.4,0.2l0.4,0.4l0.3,0.3l0.4,0.3l0.5,0.3l0.3,0.4l0.2,0.4l-0.0,0.5l-0.2,0.5l-0.1,0.5l-0.0,0.5l0.3,0.4l0.4,0.2l0.5,-0.1l0.5,-0.2l0.4,-0.3l0.4,-0.3l0.4,-0.3l0.4,-0.3l0.4,-0.2l0.5,-0.0l0.5,-0.1l0.5,-0.1l0.5,-0.2l0.5,0.1l0.4,0.2l0.4,0.4l0.2,0.4l0.3,0.4l0.1,0.5l0.2,0.5l-0.1,0.5l-0.1,0.5l-0.1,0.5l0.0,0.5l0.1,0.5l0.2,0.4l0.2,0.5l0.3,0.4l0.4,0.3l0.5,0.0l0.5,-0.2l0.3,-0.4l0.2,-0.4l-0.0,-0.5l-0.1,-0.5l-0.1,-0.5l-0.2,-0.5l-0.3,-0.4l-0.3,-0.4l-0.3,-0.4l-0.2,-0.4l-0.2,-0.5l-0.3,-0.4l-0.4,-0.2l-0.5,-0.3l-0.4,-0.3l-0.1,-0.5l0.0,-0.5l0.3,-0.4l0.4,-0.3l0.4,-0.2l0.5,-0.2l0.5,-0.0l0.4,0.2l0.2,0.4l-0.0,0.5l-0.4,0.4l-0.5,-0.1l-0.4,-0.3l-0.3,-0.4l-0.3,-0.4l-0.4,-0.2l-0.5,-0.1l-0.5,-0.1l-0.4,-0.3l-0.4,-0.4l-0.3,-0.4l-0.1,-0.5l-0.3,-0.4l-0.2,-0.4l-0.4,-0.4l-0.4,-0.2l-0.5,-0.1l-0.5,-0.1l-0.4,-0.3l-0.4,-0.4l-0.3,-0.3l-0.4,-0.4l-0.1,-0.4l0.1,-0.5l0.4,-0.3l0.5,-0.0l0.5,0.1l0.4,0.2l0.3,0.4l0.1,0.5l0.1,0.5l0.1,0.5l-0.1,0.5l-0.3,0.4l-0.4,0.3l-0.4,0.3l-0.5,0.2l-0.4,0.1l-0.4,0.4l-0.2,0.4l-0.2,0.5l0.1,0.5l0.2,0.4l0.3,0.5l0.3,0.3l0.5,0.2l0.5,0.1l0.5,-0.0l0.5,-0.0l0.5,0.1l0.4,0.2l0.5,0.1l0.5,0.2l0.5,0.1l0.4,0.2l0.4,0.6l-0.0,0.5l-0.3,0.4l-0.4,0.3l-0.5,0.1l-0.4,-0.0"/></defs>
<use href="#c10" stroke="#9c961c" stroke-width="1.3"/>
<use href="#c10" stroke="#e6e040" stroke-width="0.65"/>
<defs><path id="c11" d="M549.7,236.4l-0.2,-0.5l-0.3,-0.4l-0.4,-0.3l-0.4,-0.3l-0.3,-0.4l-0.4,-0.3l-0.3,-0.4l-0.1,-0.5l-0.1,-0.5l0.0,-0.5l0.1,-0.5l0.2,-0.5l0.2,-0.4l0.5,-0.3l0.3,-0.3l0.3,-0.4l0.1,-0.5l-0.1,-0.4l-0.3,-0.4l-0.4,-0.3l-0.4,-0.3l-0.4,-0.2l-0.5,-0.3l-0.4,-0.3l-0.3,-0.4l-0.3,-0.4l-0.1,-0.5l0.0,-0.5l0.2,-0.4l0.4,-0.3l0.4,0.3l0.1,0.5l-0.1,0.5l-0.5,0.3l-0.4,0.1l-0.5,0.1l-0.5,0.1l-0.5,0.1l-0.5,0.0l-0.5,-0.0l-0.5,-0.1l-0.4,-0.2l-0.4,-0.4l-0.1,-0.5l-0.0,-0.5l0.0,-0.5l0.2,-0.4l0.3,-0.5l0.4,-0.3l0.3,-0.3l0.5,-0.3l0.3,-0.4l0.3,-0.4l0.2,-0.4l0.2,-0.5l0.4,-0.3l0.4,-0.3l0.5,-0.1l0.4,0.2l0.2,0.5l-0.0,0.5l-0.3,0.4l-0.3,0.4l-0.4,0.2l-0.4,0.3l-0.3,0.5l-0.1,0.4l-0.3,0.5l-0.2,0.4l-0.2,0.5l-0.2,0.4l-0.1,0.5l-0.0,0.5l0.0,0.5l-0.0,0.5l-0.3,0.4l-0.3,0.4l-0.2,0.5l-0.2,0.4l-0.3,0.4l-0.2,0.5l-0.2,0.5l-0.2,0.4l-0.3,0.4l-0.3,0.4l-0.3,0.4l-0.1,0.5l-0.1,0.5l-0.0,0.5l-0.0,0.5l0.1,0.5l0.2,0.4l0.2,0.5l0.1,0.5l0.2,0.4l0.2,0.5l0.4,0.3l0.5,0.2l0.5,-0.0l0.5,-0.1l0.5,0.0l0.5,-0.1l0.4,-0.1l0.5,-0.3l0.3,-0.3l0.3,-0.4l0.2,-0.5l0.0,-0.5l-0.1,-0.5l-0.5,-0.6l-0.4,-0.2l-0.5,0.0l-0.5,0.2l-0.4,0.2l-0.3,0.4l-0.4,0.4l-0.3,0.3l-0.4,0.3"/></defs>
<use href="#c11" stroke="#a44616" stroke-width="1.3"/>
<use href="#c11" stroke="#e67a34" stroke-width="0.65"/>
<defs><path id="c12" d="M492.8,228.1l0.5,-0.0l0.5,0.1l0.5,0.1l0.4,0.1l0.5,-0.0l0.5,-0.2l0.3,-0.4l0.3,-0.4l0.2,-0.5l0.3,-0.4l0.4,-0.3l0.5,-0.1l0.5,-0.1l0.5,0.1l0.5,0.0l0.5,0.1l0.4,0.1l0.5,0.2l0.5,0.1l0.5,0.2l0.5,0.1l0.4,0.1l0.5,0.2l0.3,0.3l0.0,0.5l-0.2,0.5l-0.4,0.3l-0.4,0.3l-0.4,0.3l-0.3,0.4l-0.1,0.5l-0.2,0.5l-0.2,0.4l-0.0,0.5l-0.0,0.5l-0.2,0.5l-0.3,0.4l-0.4,0.2l-0.5,-0.2l-0.4,-0.2l-0.3,-0.4l-0.3,-0.4l-0.4,-0.4l-0.4,-0.2l-0.5,-0.2l-0.4,-0.2l-0.5,-0.2l-0.4,-0.3l-0.4,-0.3l-0.4,-0.3l-0.4,-0.3l-0.4,-0.3l-0.5,-0.1l-0.5,-0.0l-0.5,0.1l-0.4,0.2l-0.4,0.3l-0.4,0.4l-0.4,0.2l-0.5,0.3l-0.4,0.2l-0.5,0.1l-0.5,0.1l-0.5,-0.1l-0.5,-0.1l-0.5,-0.1l-0.5,0.0l-0.5,0.1l-0.4,0.3l-0.3,0.4l-0.1,0.5l-0.1,0.5l-0.1,0.4l-0.1,0.5l-0.0,0.5l0.2,0.5l0.4,0.3l0.5,0.0l0.5,-0.0l0.4,-0.2l0.4,-0.3l0.3,-0.4l0.1,-0.5l-0.2,-0.4l-0.3,-0.4l-0.6,-0.4l-0.5,-0.1"/></defs>
<use href="#c12" stroke="#2396a0" stroke-width="1.3"/>
<use href="#c12" stroke="#58ccd2" stroke-width="0.65"/>
<defs><path id="c13" d="M511.3,273.4l0.0,-0.5l0.1,-0.5l0.1,-0.5l0.1,-0.5l0.2,-0.5l0.4,-0.3l0.4,-0.2l0.5,-0.2l0.4,-0.2l0.4,-0.4l0.2,-0.4l0.2,-0.5l0.1,-0.4l0.1,-0.5l-0.0,-0.5l-0.2,-0.5l-0.2,-0.4l-0.1,-0.5l-0.0,-0.5l-0.2,-0.5l-0.4,-0.3l-0.4,-0.3l-0.4,-0.2l-0.5,-0.3l-0.5,-0.2l-0.4,-0.2l-0.4,-0.4l-0.3,-0.3l-0.3,-0.4l-0.4,-0.4l-0.3,-0.3l-0.4,-0.4l-0.2,-0.4l-0.0,-0.5l0.1,-0.5l0.3,-0.4l0.4,-0.3l0.5,-0.1l0.4,-0.1l0.5,0.0l0.5,0.2l0.4,0.3l0.2,0.5l0.1,0.4l-0.1,0.5l-0.4,0.4l-0.4,0.2l-0.5,0.0l-0.5,-0.1l-0.4,-0.3l-0.2,-0.5l0.1,-0.5l0.4,-0.3l0.3,-0.3l0.4,-0.4l0.4,-0.3l0.5,-0.2l0.4,-0.3l0.4,-0.3l0.3,-0.4l0.3,-0.4l0.4,-0.2l0.5,-0.3l0.4,-0.2l0.5,-0.1l0.5,0.2l0.3,0.4l0.1,0.4l0.1,0.5l0.0,0.5l-0.0,0.5l-0.2,0.5l-0.3,0.4l-0.4,0.3l-0.2,0.4l-0.1,0.5l0.2,0.5l0.4,0.3l0.5,-0.0l0.4,-0.3l0.3,-0.4l0.2,-0.5l0.3,-0.4l0.4,-0.3l0.4,-0.2l0.5,-0.1l0.5,-0.0l0.5,0.0l0.5,0.1l0.4,0.2l0.4,0.4l0.1,0.4l-0.2,0.5l-0.3,0.4l-0.3,0.4l-0.4,0.3l-0.4,0.3l-0.3,0.4l-0.2,0.4l0.1,0.5l0.3,0.4l0.5,0.2l0.5,-0.0l0.4,-0.2l0.5,-0.2l0.5,-0.1l0.4,-0.2l0.5,-0.2l0.5,-0.0l0.5,0.1l0.5,0.2l0.3,0.4l0.3,0.4l0.2,0.5l0.1,0.4l0.2,0.5l0.0,0.5l-0.1,0.5l-0.3,0.4l-0.3,0.4l-0.5,0.2l-0.4,0.1l-0.5,0.0l-0.5,-0.2l-0.3,-0.3l-0.4,-0.4l-0.4,-0.3l-0.4,-0.3l-0.4,-0.2l-0.5,0.1l-0.5,0.1l-0.5,0.2l-0.5,0.2l-0.4,0.2l-0.5,0.2l-0.4,0.3l-0.3,0.4l-0.3,0.4l-0.1,0.4l0.2,0.5l0.4,0.3l0.4,0.2l0.5,0.1l0.5,0.1l0.4,0.3l0.3,0.5l0.0,0.4l-0.2,0.5l-0.2,0.5l-0.2,0.4l-0.3,0.4l-0.2,0.5l-0.4,0.3l-0.4,0.3l-0.4,0.3l-0.5,-0.0l-0.5,-0.3l-0.3,-0.3l-0.2,-0.5l-0.4,-0.4l-0.4,-0.2l-0.4,-0.2l-0.5,-0.1l-0.5,0.2l-0.5,0.2l-0.4,0.3l-0.2,0.4l-0.3,0.4l-0.3,0.5l-0.2,0.4l-0.3,0.4l-0.1,0.5l-0.0,0.5l0.2,0.4l0.5,0.3l0.5,0.0l0.5,-0.0l0.4,-0.2l0.4,-0.4l0.6,-0.4l0.5,0.0l0.4,0.3l0.2,0.4l0.1,0.5l-0.2,0.5l-0.4,0.3l-0.5,0.1"/></defs>
<use href="#c13" stroke="#9c961c" stroke-width="1.3"/>
<use href="#c13" stroke="#e6e040" stroke-width="0.65"/>
<defs><path id="c14" d="M505.3,281.7l-0.5,0.2l-0.4,0.3l-0.3,0.3l-0.3,0.4l-0.1,0.5l0.1,0.5l0.0,0.5l-0.0,0.5l-0.1,0.5l-0.2,0.4l-0.4,0.3l-0.5,0.0l-0.4,-0.3l-0.3,-0.4l-0.2,-0.4l-0.1,-0.5l-0.1,-0.5l-0.3,-0.4l-0.5,-0.2l-0.4,-0.2l-0.5,-0.1l-0.5,-0.1l-0.5,0.1l-0.4,0.3l-0.4,0.3l-0.1,0.5l0.1,0.5l0.4,0.4l0.4,0.3l0.3,0.3l0.5,0.3l0.4,0.1l0.5,0.0l0.5,0.0l0.5,-0.2l0.4,-0.3l0.2,-0.4l0.1,-0.5l-0.2,-0.5l-0.2,-0.4l-0.5,-0.2l-0.5,-0.0l-0.4,0.2l-0.4,0.3l-0.5,0.2l-0.4,0.4l-0.1,0.4l0.1,0.5l0.3,0.4l0.3,0.4l0.4,0.3l0.4,0.2l0.5,0.1l0.5,0.2l0.4,0.3l0.2,0.5l0.1,0.4l0.2,0.5l0.4,0.3l0.5,0.1l0.4,-0.1l0.5,-0.2l0.4,-0.3l0.4,-0.3l0.2,-0.5l0.1,-0.5l-0.0,-0.5l-0.2,-0.4l-0.3,-0.4l-0.4,-0.3l-0.4,-0.3l-0.5,-0.2l-0.5,-0.1l-0.5,-0.1l-0.5,-0.0l-0.5,0.0l-0.4,0.3l-0.5,0.2l-0.5,-0.1l-0.4,-0.1l-0.5,-0.2l-0.4,-0.3l-0.4,-0.2l-0.4,-0.4l-0.3,-0.4l-0.4,-0.3l-0.3,-0.4l-0.2,-0.4l-0.1,-0.5l0.2,-0.5l0.2,-0.5l0.2,-0.4l0.1,-0.5l0.2,-0.5l0.2,-0.4l0.3,-0.4l0.5,-0.2l0.4,0.0l0.5,0.3l0.0,0.5l-0.1,0.7l-0.3,0.5l-0.4,0.3"/></defs>
<use href="#c14" stroke="#157a38" stroke-width="1.3"/>
<use href="#c14" stroke="#34b060" stroke-width="0.65"/>
</g>
</svg></body></html>
